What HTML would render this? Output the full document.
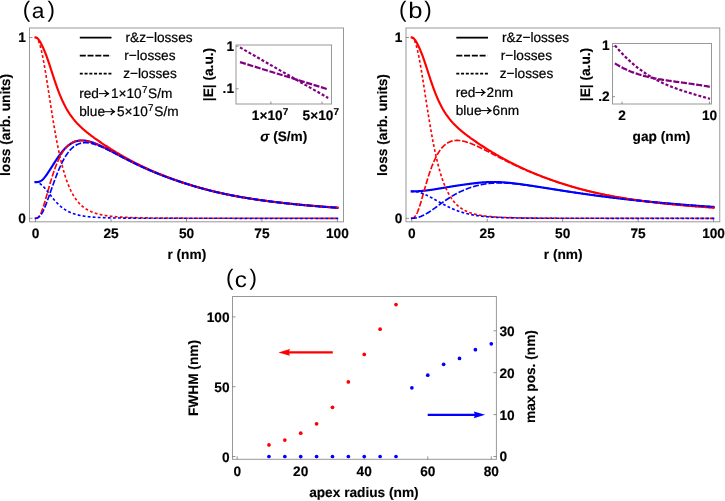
<!DOCTYPE html>
<html><head><meta charset="utf-8"><title>figure</title>
<style>html,body{margin:0;padding:0;background:#fff;}body{width:725px;height:501px;overflow:hidden;font-family:"Liberation Sans",sans-serif;}svg{display:block;}</style></head>
<body>
<svg width="725" height="501" viewBox="0 0 725 501" style="will-change:transform">
<rect x="0" y="0" width="725" height="501" fill="#ffffff"/>
<g font-family="'Liberation Sans', sans-serif" fill="#000000" style="text-rendering:geometricPrecision">
<rect x="29.50" y="28.00" width="314.00" height="193.80" fill="none" stroke="#989898" stroke-width="1"/>
<line x1="35.60" y1="221.80" x2="35.60" y2="218.80" stroke="#666666" stroke-width="0.7"/>
<line x1="111.05" y1="221.80" x2="111.05" y2="218.80" stroke="#666666" stroke-width="0.7"/>
<line x1="186.50" y1="221.80" x2="186.50" y2="218.80" stroke="#666666" stroke-width="0.7"/>
<line x1="261.95" y1="221.80" x2="261.95" y2="218.80" stroke="#666666" stroke-width="0.7"/>
<line x1="337.40" y1="221.80" x2="337.40" y2="218.80" stroke="#666666" stroke-width="0.7"/>
<line x1="29.50" y1="218.30" x2="32.50" y2="218.30" stroke="#666666" stroke-width="0.7"/>
<line x1="29.50" y1="37.50" x2="32.50" y2="37.50" stroke="#666666" stroke-width="0.7"/>
<clipPath id="clipa"><rect x="29.50" y="28.00" width="314.00" height="193.80"/></clipPath>
<g clip-path="url(#clipa)">
<path d="M35.60,37.50 L35.98,37.53 L36.35,37.64 L36.73,37.81 L37.11,38.04 L37.49,38.34 L37.86,38.70 L38.24,39.11 L38.62,39.58 L39.00,40.09 L39.37,40.64 L39.75,41.24 L40.13,41.87 L40.50,42.53 L40.88,43.22 L41.26,43.94 L41.64,44.69 L42.01,45.45 L42.39,46.24 L42.77,47.04 L43.15,47.87 L43.52,48.72 L43.90,49.58 L44.28,50.47 L44.65,51.38 L45.03,52.30 L45.41,53.25 L45.79,54.22 L46.16,55.21 L46.54,56.22 L46.92,57.25 L47.29,58.29 L47.67,59.36 L48.05,60.44 L48.43,61.54 L48.80,62.66 L49.18,63.78 L49.56,64.92 L49.94,66.07 L50.31,67.22 L50.69,68.38 L51.07,69.55 L51.44,70.71 L51.82,71.88 L52.20,73.05 L52.58,74.22 L52.95,75.38 L53.33,76.54 L53.71,77.69 L54.09,78.83 L54.46,79.96 L54.84,81.09 L55.22,82.20 L55.59,83.31 L55.97,84.40 L56.35,85.48 L56.73,86.54 L57.10,87.59 L57.48,88.63 L57.86,89.65 L58.23,90.65 L58.61,91.64 L58.99,92.62 L59.37,93.58 L59.74,94.52 L60.12,95.45 L60.50,96.36 L60.88,97.26 L61.25,98.14 L61.63,99.00 L62.01,99.85 L62.38,100.68 L62.76,101.49 L63.14,102.29 L63.52,103.08 L63.89,103.85 L64.27,104.60 L64.65,105.34 L65.03,106.07 L65.40,106.78 L65.78,107.47 L66.16,108.16 L66.53,108.83 L66.91,109.48 L67.29,110.13 L67.67,110.76 L68.04,111.38 L68.42,111.98 L68.80,112.58 L69.18,113.16 L69.55,113.74 L69.93,114.30 L70.31,114.85 L70.68,115.39 L71.06,115.92 L71.44,116.44 L71.82,116.95 L72.19,117.45 L72.57,117.95 L72.95,118.43 L73.32,118.91 L73.70,119.38 L74.08,119.84 L74.46,120.29 L74.83,120.74 L75.21,121.18 L75.59,121.61 L75.97,122.03 L76.34,122.45 L76.72,122.87 L77.10,123.27 L77.47,123.67 L77.85,124.07 L78.23,124.46 L78.61,124.84 L78.98,125.22 L79.36,125.60 L79.74,125.97 L80.12,126.33 L80.49,126.69 L80.87,127.05 L81.25,127.40 L81.62,127.75 L82.00,128.10 L82.38,128.44 L82.76,128.78 L83.13,129.11 L83.51,129.44 L83.89,129.77 L84.27,130.10 L84.64,130.42 L85.02,130.74 L85.40,131.06 L85.77,131.37 L86.15,131.68 L86.53,131.99 L86.91,132.30 L87.28,132.60 L87.66,132.90 L88.04,133.20 L88.41,133.50 L88.79,133.80 L89.17,134.09 L89.55,134.39 L89.92,134.68 L90.30,134.96 L90.68,135.25 L91.06,135.54 L91.43,135.82 L91.81,136.10 L92.19,136.38 L92.56,136.66 L92.94,136.94 L93.32,137.22 L93.70,137.49 L94.07,137.77 L94.45,138.04 L94.83,138.31 L95.21,138.58 L95.58,138.85 L95.96,139.12 L96.34,139.39 L96.71,139.65 L97.09,139.92 L97.47,140.18 L97.85,140.45 L98.22,140.71 L98.60,140.97 L98.98,141.23 L99.36,141.49 L99.73,141.75 L100.11,142.01 L100.49,142.26 L100.86,142.52 L101.24,142.77 L101.62,143.03 L102.00,143.28 L102.37,143.53 L102.75,143.79 L103.13,144.04 L103.50,144.29 L103.88,144.54 L104.26,144.79 L104.64,145.03 L105.01,145.28 L105.39,145.53 L105.77,145.77 L106.15,146.02 L106.52,146.26 L106.90,146.51 L107.28,146.75 L107.65,146.99 L108.03,147.23 L108.41,147.48 L108.79,147.72 L109.16,147.96 L109.54,148.19 L109.92,148.43 L110.30,148.67 L110.67,148.91 L111.05,149.14 L111.43,149.38 L111.80,149.61 L112.18,149.85 L112.56,150.08 L112.94,150.32 L113.31,150.55 L113.69,150.78 L114.07,151.01 L114.45,151.24 L114.82,151.47 L115.20,151.70 L115.58,151.93 L115.95,152.16 L116.33,152.38 L116.71,152.61 L117.09,152.84 L117.46,153.06 L117.84,153.28 L118.22,153.51 L118.59,153.73 L118.97,153.95 L119.35,154.18 L119.73,154.40 L120.10,154.62 L120.48,154.84 L120.86,155.06 L121.24,155.27 L121.61,155.49 L121.99,155.71 L122.37,155.92 L122.74,156.14 L123.12,156.36 L123.50,156.57 L123.88,156.78 L124.25,157.00 L124.63,157.21 L125.01,157.42 L125.39,157.63 L125.76,157.84 L126.14,158.05 L126.52,158.26 L126.89,158.47 L127.27,158.67 L127.65,158.88 L128.03,159.09 L128.40,159.29 L128.78,159.50 L129.16,159.70 L129.54,159.91 L129.91,160.11 L130.29,160.31 L130.67,160.51 L131.04,160.71 L131.42,160.91 L131.80,161.11 L132.18,161.31 L132.55,161.51 L132.93,161.70 L133.31,161.90 L133.69,162.10 L134.06,162.29 L134.44,162.49 L134.82,162.68 L135.19,162.87 L135.57,163.06 L135.95,163.26 L136.33,163.45 L136.70,163.64 L137.08,163.83 L137.46,164.02 L137.83,164.20 L138.21,164.39 L138.59,164.58 L138.97,164.77 L139.34,164.95 L139.72,165.14 L140.10,165.32 L140.48,165.50 L140.85,165.69 L141.23,165.87 L141.61,166.05 L141.98,166.23 L142.36,166.41 L142.74,166.59 L143.12,166.77 L143.49,166.95 L143.87,167.13 L144.25,167.30 L144.63,167.48 L145.00,167.66 L145.38,167.83 L145.76,168.01 L146.13,168.18 L146.51,168.35 L146.89,168.53 L147.27,168.70 L147.64,168.87 L148.02,169.04 L148.40,169.21 L148.78,169.38 L149.15,169.55 L149.53,169.72 L149.91,169.88 L150.28,170.05 L150.66,170.22 L151.04,170.38 L151.42,170.55 L151.79,170.71 L152.17,170.88 L152.55,171.04 L152.92,171.21 L153.30,171.37 L153.68,171.53 L154.06,171.69 L154.43,171.85 L154.81,172.01 L155.19,172.17 L155.57,172.33 L155.94,172.49 L156.32,172.65 L156.70,172.80 L157.07,172.96 L157.45,173.12 L157.83,173.27 L158.21,173.43 L158.58,173.58 L158.96,173.74 L159.34,173.89 L159.72,174.04 L160.09,174.20 L160.47,174.35 L160.85,174.50 L161.22,174.65 L161.60,174.80 L161.98,174.95 L162.36,175.10 L162.73,175.25 L163.11,175.40 L163.49,175.55 L163.86,175.69 L164.24,175.84 L164.62,175.99 L165.00,176.13 L165.37,176.28 L165.75,176.42 L166.13,176.57 L166.51,176.71 L166.88,176.86 L167.26,177.00 L167.64,177.14 L168.01,177.29 L168.39,177.43 L168.77,177.57 L169.15,177.71 L169.52,177.85 L169.90,177.99 L170.28,178.13 L170.66,178.27 L171.03,178.41 L171.41,178.55 L171.79,178.68 L172.16,178.82 L172.54,178.96 L172.92,179.09 L173.30,179.23 L173.67,179.37 L174.05,179.50 L174.43,179.64 L174.81,179.77 L175.18,179.90 L175.56,180.04 L175.94,180.17 L176.31,180.30 L176.69,180.43 L177.07,180.57 L177.45,180.70 L177.82,180.83 L178.20,180.96 L178.58,181.09 L178.95,181.22 L179.33,181.35 L179.71,181.48 L180.09,181.60 L180.46,181.73 L180.84,181.86 L181.22,181.99 L181.60,182.11 L181.97,182.24 L182.35,182.37 L182.73,182.49 L183.10,182.62 L183.48,182.74 L183.86,182.87 L184.24,182.99 L184.61,183.11 L184.99,183.24 L185.37,183.36 L185.75,183.48 L186.12,183.60 L186.50,183.72 L186.88,183.84 L187.25,183.96 L187.63,184.08 L188.01,184.20 L188.39,184.32 L188.76,184.44 L189.14,184.56 L189.52,184.68 L189.90,184.80 L190.27,184.91 L190.65,185.03 L191.03,185.15 L191.40,185.26 L191.78,185.38 L192.16,185.49 L192.54,185.61 L192.91,185.72 L193.29,185.84 L193.67,185.95 L194.04,186.07 L194.42,186.18 L194.80,186.29 L195.18,186.40 L195.55,186.51 L195.93,186.63 L196.31,186.74 L196.69,186.85 L197.06,186.96 L197.44,187.07 L197.82,187.17 L198.19,187.28 L198.57,187.39 L198.95,187.50 L199.33,187.61 L199.70,187.71 L200.08,187.82 L200.46,187.93 L200.84,188.03 L201.21,188.14 L201.59,188.24 L201.97,188.35 L202.34,188.45 L202.72,188.56 L203.10,188.66 L203.48,188.76 L203.85,188.87 L204.23,188.97 L204.61,189.07 L204.99,189.17 L205.36,189.27 L205.74,189.37 L206.12,189.47 L206.49,189.57 L206.87,189.67 L207.25,189.77 L207.63,189.87 L208.00,189.97 L208.38,190.06 L208.76,190.16 L209.13,190.26 L209.51,190.35 L209.89,190.45 L210.27,190.55 L210.64,190.64 L211.02,190.74 L211.40,190.83 L211.78,190.92 L212.15,191.02 L212.53,191.11 L212.91,191.20 L213.28,191.30 L213.66,191.39 L214.04,191.48 L214.42,191.57 L214.79,191.66 L215.17,191.75 L215.55,191.84 L215.93,191.93 L216.30,192.02 L216.68,192.11 L217.06,192.20 L217.43,192.29 L217.81,192.37 L218.19,192.46 L218.57,192.55 L218.94,192.63 L219.32,192.72 L219.70,192.80 L220.08,192.89 L220.45,192.97 L220.83,193.06 L221.21,193.14 L221.58,193.23 L221.96,193.31 L222.34,193.39 L222.72,193.48 L223.09,193.56 L223.47,193.64 L223.85,193.72 L224.22,193.80 L224.60,193.88 L224.98,193.96 L225.36,194.04 L225.73,194.12 L226.11,194.20 L226.49,194.28 L226.87,194.36 L227.24,194.44 L227.62,194.52 L228.00,194.59 L228.37,194.67 L228.75,194.75 L229.13,194.82 L229.51,194.90 L229.88,194.98 L230.26,195.05 L230.64,195.13 L231.02,195.20 L231.39,195.27 L231.77,195.35 L232.15,195.42 L232.52,195.50 L232.90,195.57 L233.28,195.64 L233.66,195.71 L234.03,195.79 L234.41,195.86 L234.79,195.93 L235.17,196.00 L235.54,196.07 L235.92,196.14 L236.30,196.21 L236.67,196.28 L237.05,196.35 L237.43,196.42 L237.81,196.49 L238.18,196.56 L238.56,196.62 L238.94,196.69 L239.31,196.76 L239.69,196.83 L240.07,196.89 L240.45,196.96 L240.82,197.03 L241.20,197.09 L241.58,197.16 L241.96,197.22 L242.33,197.29 L242.71,197.35 L243.09,197.42 L243.46,197.48 L243.84,197.55 L244.22,197.61 L244.60,197.67 L244.97,197.74 L245.35,197.80 L245.73,197.86 L246.11,197.93 L246.48,197.99 L246.86,198.05 L247.24,198.11 L247.61,198.17 L247.99,198.23 L248.37,198.29 L248.75,198.35 L249.12,198.42 L249.50,198.48 L249.88,198.53 L250.26,198.59 L250.63,198.65 L251.01,198.71 L251.39,198.77 L251.76,198.83 L252.14,198.89 L252.52,198.95 L252.90,199.00 L253.27,199.06 L253.65,199.12 L254.03,199.18 L254.40,199.23 L254.78,199.29 L255.16,199.34 L255.54,199.40 L255.91,199.46 L256.29,199.51 L256.67,199.57 L257.05,199.62 L257.42,199.68 L257.80,199.73 L258.18,199.79 L258.55,199.84 L258.93,199.89 L259.31,199.95 L259.69,200.00 L260.06,200.06 L260.44,200.11 L260.82,200.16 L261.20,200.21 L261.57,200.27 L261.95,200.32 L262.33,200.37 L262.70,200.42 L263.08,200.47 L263.46,200.53 L263.84,200.58 L264.21,200.63 L264.59,200.68 L264.97,200.73 L265.35,200.78 L265.72,200.83 L266.10,200.88 L266.48,200.93 L266.85,200.98 L267.23,201.03 L267.61,201.08 L267.99,201.13 L268.36,201.18 L268.74,201.22 L269.12,201.27 L269.50,201.32 L269.87,201.37 L270.25,201.42 L270.63,201.46 L271.00,201.51 L271.38,201.56 L271.76,201.61 L272.14,201.65 L272.51,201.70 L272.89,201.75 L273.27,201.79 L273.64,201.84 L274.02,201.89 L274.40,201.93 L274.78,201.98 L275.15,202.02 L275.53,202.07 L275.91,202.11 L276.29,202.16 L276.66,202.20 L277.04,202.25 L277.42,202.29 L277.79,202.34 L278.17,202.38 L278.55,202.42 L278.93,202.47 L279.30,202.51 L279.68,202.55 L280.06,202.60 L280.44,202.64 L280.81,202.68 L281.19,202.73 L281.57,202.77 L281.94,202.81 L282.32,202.85 L282.70,202.90 L283.08,202.94 L283.45,202.98 L283.83,203.02 L284.21,203.06 L284.58,203.11 L284.96,203.15 L285.34,203.19 L285.72,203.23 L286.09,203.27 L286.47,203.31 L286.85,203.35 L287.23,203.39 L287.60,203.43 L287.98,203.47 L288.36,203.51 L288.73,203.55 L289.11,203.59 L289.49,203.63 L289.87,203.67 L290.24,203.71 L290.62,203.75 L291.00,203.79 L291.38,203.82 L291.75,203.86 L292.13,203.90 L292.51,203.94 L292.88,203.98 L293.26,204.02 L293.64,204.05 L294.02,204.09 L294.39,204.13 L294.77,204.17 L295.15,204.20 L295.53,204.24 L295.90,204.28 L296.28,204.32 L296.66,204.35 L297.03,204.39 L297.41,204.43 L297.79,204.46 L298.17,204.50 L298.54,204.53 L298.92,204.57 L299.30,204.61 L299.68,204.64 L300.05,204.68 L300.43,204.71 L300.81,204.75 L301.18,204.78 L301.56,204.82 L301.94,204.85 L302.32,204.89 L302.69,204.92 L303.07,204.96 L303.45,204.99 L303.82,205.03 L304.20,205.06 L304.58,205.09 L304.96,205.13 L305.33,205.16 L305.71,205.20 L306.09,205.23 L306.47,205.26 L306.84,205.30 L307.22,205.33 L307.60,205.36 L307.97,205.40 L308.35,205.43 L308.73,205.46 L309.11,205.49 L309.48,205.53 L309.86,205.56 L310.24,205.59 L310.62,205.62 L310.99,205.66 L311.37,205.69 L311.75,205.72 L312.12,205.75 L312.50,205.78 L312.88,205.82 L313.26,205.85 L313.63,205.88 L314.01,205.91 L314.39,205.94 L314.76,205.97 L315.14,206.00 L315.52,206.03 L315.90,206.06 L316.27,206.09 L316.65,206.13 L317.03,206.16 L317.41,206.19 L317.78,206.22 L318.16,206.25 L318.54,206.28 L318.91,206.31 L319.29,206.34 L319.67,206.37 L320.05,206.40 L320.42,206.42 L320.80,206.45 L321.18,206.48 L321.56,206.51 L321.93,206.54 L322.31,206.57 L322.69,206.60 L323.06,206.63 L323.44,206.66 L323.82,206.69 L324.20,206.71 L324.57,206.74 L324.95,206.77 L325.33,206.80 L325.71,206.83 L326.08,206.85 L326.46,206.88 L326.84,206.91 L327.21,206.94 L327.59,206.97 L327.97,206.99 L328.35,207.02 L328.72,207.05 L329.10,207.08 L329.48,207.10 L329.86,207.13 L330.23,207.16 L330.61,207.18 L330.99,207.21 L331.36,207.24 L331.74,207.26 L332.12,207.29 L332.50,207.32 L332.87,207.34 L333.25,207.37 L333.63,207.40 L334.00,207.42 L334.38,207.45 L334.76,207.47 L335.14,207.50 L335.51,207.52 L335.89,207.55 L336.27,207.58 L336.65,207.60 L337.02,207.63 L337.40,207.65" fill="none" stroke="#ff0000" stroke-width="2.15" stroke-linejoin="round" stroke-linecap="square"/>
<path d="M35.60,182.14 L35.98,182.14 L36.35,182.13 L36.73,182.11 L37.11,182.08 L37.49,182.04 L37.86,181.99 L38.24,181.93 L38.62,181.85 L39.00,181.75 L39.37,181.63 L39.75,181.50 L40.13,181.33 L40.50,181.15 L40.88,180.94 L41.26,180.70 L41.64,180.43 L42.01,180.14 L42.39,179.82 L42.77,179.48 L43.15,179.11 L43.52,178.72 L43.90,178.30 L44.28,177.86 L44.65,177.40 L45.03,176.93 L45.41,176.44 L45.79,175.93 L46.16,175.41 L46.54,174.88 L46.92,174.34 L47.29,173.79 L47.67,173.23 L48.05,172.66 L48.43,172.09 L48.80,171.51 L49.18,170.93 L49.56,170.35 L49.94,169.76 L50.31,169.17 L50.69,168.58 L51.07,167.99 L51.44,167.40 L51.82,166.80 L52.20,166.21 L52.58,165.61 L52.95,165.02 L53.33,164.43 L53.71,163.84 L54.09,163.25 L54.46,162.66 L54.84,162.07 L55.22,161.49 L55.59,160.91 L55.97,160.33 L56.35,159.76 L56.73,159.19 L57.10,158.63 L57.48,158.07 L57.86,157.52 L58.23,156.97 L58.61,156.43 L58.99,155.90 L59.37,155.37 L59.74,154.85 L60.12,154.34 L60.50,153.84 L60.88,153.34 L61.25,152.86 L61.63,152.38 L62.01,151.91 L62.38,151.45 L62.76,150.99 L63.14,150.55 L63.52,150.12 L63.89,149.69 L64.27,149.28 L64.65,148.87 L65.03,148.48 L65.40,148.10 L65.78,147.72 L66.16,147.36 L66.53,147.00 L66.91,146.66 L67.29,146.32 L67.67,146.00 L68.04,145.69 L68.42,145.38 L68.80,145.09 L69.18,144.80 L69.55,144.53 L69.93,144.27 L70.31,144.01 L70.68,143.77 L71.06,143.53 L71.44,143.31 L71.82,143.09 L72.19,142.89 L72.57,142.69 L72.95,142.50 L73.32,142.32 L73.70,142.16 L74.08,142.00 L74.46,141.84 L74.83,141.70 L75.21,141.57 L75.59,141.44 L75.97,141.33 L76.34,141.22 L76.72,141.12 L77.10,141.02 L77.47,140.94 L77.85,140.86 L78.23,140.79 L78.61,140.73 L78.98,140.67 L79.36,140.63 L79.74,140.59 L80.12,140.55 L80.49,140.53 L80.87,140.51 L81.25,140.49 L81.62,140.48 L82.00,140.48 L82.38,140.49 L82.76,140.50 L83.13,140.52 L83.51,140.54 L83.89,140.57 L84.27,140.60 L84.64,140.64 L85.02,140.68 L85.40,140.73 L85.77,140.79 L86.15,140.85 L86.53,140.91 L86.91,140.98 L87.28,141.05 L87.66,141.13 L88.04,141.22 L88.41,141.30 L88.79,141.39 L89.17,141.49 L89.55,141.59 L89.92,141.69 L90.30,141.79 L90.68,141.90 L91.06,142.02 L91.43,142.13 L91.81,142.25 L92.19,142.38 L92.56,142.50 L92.94,142.63 L93.32,142.76 L93.70,142.90 L94.07,143.04 L94.45,143.18 L94.83,143.32 L95.21,143.46 L95.58,143.61 L95.96,143.76 L96.34,143.92 L96.71,144.07 L97.09,144.23 L97.47,144.39 L97.85,144.55 L98.22,144.71 L98.60,144.88 L98.98,145.04 L99.36,145.21 L99.73,145.38 L100.11,145.56 L100.49,145.73 L100.86,145.91 L101.24,146.08 L101.62,146.26 L102.00,146.44 L102.37,146.62 L102.75,146.80 L103.13,146.99 L103.50,147.17 L103.88,147.36 L104.26,147.54 L104.64,147.73 L105.01,147.92 L105.39,148.11 L105.77,148.30 L106.15,148.49 L106.52,148.68 L106.90,148.88 L107.28,149.07 L107.65,149.26 L108.03,149.46 L108.41,149.65 L108.79,149.85 L109.16,150.05 L109.54,150.24 L109.92,150.44 L110.30,150.64 L110.67,150.84 L111.05,151.04 L111.43,151.23 L111.80,151.43 L112.18,151.63 L112.56,151.83 L112.94,152.03 L113.31,152.23 L113.69,152.43 L114.07,152.63 L114.45,152.84 L114.82,153.04 L115.20,153.24 L115.58,153.44 L115.95,153.64 L116.33,153.84 L116.71,154.04 L117.09,154.24 L117.46,154.44 L117.84,154.64 L118.22,154.85 L118.59,155.05 L118.97,155.25 L119.35,155.45 L119.73,155.65 L120.10,155.85 L120.48,156.05 L120.86,156.25 L121.24,156.45 L121.61,156.65 L121.99,156.84 L122.37,157.04 L122.74,157.24 L123.12,157.44 L123.50,157.64 L123.88,157.84 L124.25,158.03 L124.63,158.23 L125.01,158.43 L125.39,158.62 L125.76,158.82 L126.14,159.01 L126.52,159.21 L126.89,159.40 L127.27,159.60 L127.65,159.79 L128.03,159.98 L128.40,160.18 L128.78,160.37 L129.16,160.56 L129.54,160.75 L129.91,160.94 L130.29,161.13 L130.67,161.33 L131.04,161.51 L131.42,161.70 L131.80,161.89 L132.18,162.08 L132.55,162.27 L132.93,162.46 L133.31,162.64 L133.69,162.83 L134.06,163.01 L134.44,163.20 L134.82,163.38 L135.19,163.57 L135.57,163.75 L135.95,163.94 L136.33,164.12 L136.70,164.30 L137.08,164.48 L137.46,164.66 L137.83,164.84 L138.21,165.02 L138.59,165.20 L138.97,165.38 L139.34,165.56 L139.72,165.74 L140.10,165.91 L140.48,166.09 L140.85,166.26 L141.23,166.44 L141.61,166.61 L141.98,166.79 L142.36,166.96 L142.74,167.14 L143.12,167.31 L143.49,167.48 L143.87,167.65 L144.25,167.82 L144.63,167.99 L145.00,168.16 L145.38,168.33 L145.76,168.50 L146.13,168.67 L146.51,168.84 L146.89,169.00 L147.27,169.17 L147.64,169.33 L148.02,169.50 L148.40,169.66 L148.78,169.83 L149.15,169.99 L149.53,170.15 L149.91,170.32 L150.28,170.48 L150.66,170.64 L151.04,170.80 L151.42,170.96 L151.79,171.12 L152.17,171.28 L152.55,171.44 L152.92,171.60 L153.30,171.76 L153.68,171.91 L154.06,172.07 L154.43,172.23 L154.81,172.38 L155.19,172.54 L155.57,172.69 L155.94,172.84 L156.32,173.00 L156.70,173.15 L157.07,173.30 L157.45,173.46 L157.83,173.61 L158.21,173.76 L158.58,173.91 L158.96,174.06 L159.34,174.21 L159.72,174.36 L160.09,174.51 L160.47,174.65 L160.85,174.80 L161.22,174.95 L161.60,175.09 L161.98,175.24 L162.36,175.39 L162.73,175.53 L163.11,175.68 L163.49,175.82 L163.86,175.97 L164.24,176.11 L164.62,176.25 L165.00,176.39 L165.37,176.54 L165.75,176.68 L166.13,176.82 L166.51,176.96 L166.88,177.10 L167.26,177.24 L167.64,177.38 L168.01,177.52 L168.39,177.66 L168.77,177.79 L169.15,177.93 L169.52,178.07 L169.90,178.21 L170.28,178.34 L170.66,178.48 L171.03,178.61 L171.41,178.75 L171.79,178.88 L172.16,179.02 L172.54,179.15 L172.92,179.29 L173.30,179.42 L173.67,179.55 L174.05,179.68 L174.43,179.82 L174.81,179.95 L175.18,180.08 L175.56,180.21 L175.94,180.34 L176.31,180.47 L176.69,180.60 L177.07,180.73 L177.45,180.86 L177.82,180.98 L178.20,181.11 L178.58,181.24 L178.95,181.37 L179.33,181.49 L179.71,181.62 L180.09,181.75 L180.46,181.87 L180.84,182.00 L181.22,182.12 L181.60,182.25 L181.97,182.37 L182.35,182.49 L182.73,182.62 L183.10,182.74 L183.48,182.86 L183.86,182.98 L184.24,183.11 L184.61,183.23 L184.99,183.35 L185.37,183.47 L185.75,183.59 L186.12,183.71 L186.50,183.83 L186.88,183.95 L187.25,184.06 L187.63,184.18 L188.01,184.30 L188.39,184.42 L188.76,184.54 L189.14,184.65 L189.52,184.77 L189.90,184.88 L190.27,185.00 L190.65,185.11 L191.03,185.23 L191.40,185.34 L191.78,185.46 L192.16,185.57 L192.54,185.68 L192.91,185.80 L193.29,185.91 L193.67,186.02 L194.04,186.13 L194.42,186.24 L194.80,186.36 L195.18,186.47 L195.55,186.58 L195.93,186.69 L196.31,186.80 L196.69,186.90 L197.06,187.01 L197.44,187.12 L197.82,187.23 L198.19,187.34 L198.57,187.44 L198.95,187.55 L199.33,187.66 L199.70,187.76 L200.08,187.87 L200.46,187.97 L200.84,188.08 L201.21,188.18 L201.59,188.28 L201.97,188.39 L202.34,188.49 L202.72,188.59 L203.10,188.70 L203.48,188.80 L203.85,188.90 L204.23,189.00 L204.61,189.10 L204.99,189.20 L205.36,189.30 L205.74,189.40 L206.12,189.50 L206.49,189.60 L206.87,189.70 L207.25,189.79 L207.63,189.89 L208.00,189.99 L208.38,190.09 L208.76,190.18 L209.13,190.28 L209.51,190.37 L209.89,190.47 L210.27,190.56 L210.64,190.66 L211.02,190.75 L211.40,190.85 L211.78,190.94 L212.15,191.03 L212.53,191.12 L212.91,191.22 L213.28,191.31 L213.66,191.40 L214.04,191.49 L214.42,191.58 L214.79,191.67 L215.17,191.76 L215.55,191.85 L215.93,191.94 L216.30,192.03 L216.68,192.12 L217.06,192.20 L217.43,192.29 L217.81,192.38 L218.19,192.46 L218.57,192.55 L218.94,192.64 L219.32,192.72 L219.70,192.81 L220.08,192.89 L220.45,192.98 L220.83,193.06 L221.21,193.14 L221.58,193.23 L221.96,193.31 L222.34,193.39 L222.72,193.48 L223.09,193.56 L223.47,193.64 L223.85,193.72 L224.22,193.80 L224.60,193.88 L224.98,193.96 L225.36,194.04 L225.73,194.12 L226.11,194.20 L226.49,194.28 L226.87,194.36 L227.24,194.43 L227.62,194.51 L228.00,194.59 L228.37,194.67 L228.75,194.74 L229.13,194.82 L229.51,194.89 L229.88,194.97 L230.26,195.05 L230.64,195.12 L231.02,195.19 L231.39,195.27 L231.77,195.34 L232.15,195.42 L232.52,195.49 L232.90,195.56 L233.28,195.63 L233.66,195.71 L234.03,195.78 L234.41,195.85 L234.79,195.92 L235.17,195.99 L235.54,196.06 L235.92,196.13 L236.30,196.20 L236.67,196.27 L237.05,196.34 L237.43,196.41 L237.81,196.48 L238.18,196.55 L238.56,196.62 L238.94,196.69 L239.31,196.75 L239.69,196.82 L240.07,196.89 L240.45,196.95 L240.82,197.02 L241.20,197.09 L241.58,197.15 L241.96,197.22 L242.33,197.28 L242.71,197.35 L243.09,197.41 L243.46,197.48 L243.84,197.54 L244.22,197.61 L244.60,197.67 L244.97,197.73 L245.35,197.80 L245.73,197.86 L246.11,197.92 L246.48,197.98 L246.86,198.05 L247.24,198.11 L247.61,198.17 L247.99,198.23 L248.37,198.29 L248.75,198.35 L249.12,198.41 L249.50,198.47 L249.88,198.53 L250.26,198.59 L250.63,198.65 L251.01,198.71 L251.39,198.77 L251.76,198.83 L252.14,198.89 L252.52,198.95 L252.90,199.00 L253.27,199.06 L253.65,199.12 L254.03,199.18 L254.40,199.23 L254.78,199.29 L255.16,199.35 L255.54,199.40 L255.91,199.46 L256.29,199.52 L256.67,199.57 L257.05,199.63 L257.42,199.68 L257.80,199.74 L258.18,199.79 L258.55,199.85 L258.93,199.90 L259.31,199.95 L259.69,200.01 L260.06,200.06 L260.44,200.12 L260.82,200.17 L261.20,200.22 L261.57,200.27 L261.95,200.33 L262.33,200.38 L262.70,200.43 L263.08,200.48 L263.46,200.54 L263.84,200.59 L264.21,200.64 L264.59,200.69 L264.97,200.74 L265.35,200.79 L265.72,200.84 L266.10,200.89 L266.48,200.94 L266.85,200.99 L267.23,201.04 L267.61,201.09 L267.99,201.14 L268.36,201.19 L268.74,201.24 L269.12,201.29 L269.50,201.34 L269.87,201.39 L270.25,201.43 L270.63,201.48 L271.00,201.53 L271.38,201.58 L271.76,201.63 L272.14,201.67 L272.51,201.72 L272.89,201.77 L273.27,201.81 L273.64,201.86 L274.02,201.91 L274.40,201.95 L274.78,202.00 L275.15,202.05 L275.53,202.09 L275.91,202.14 L276.29,202.18 L276.66,202.23 L277.04,202.27 L277.42,202.32 L277.79,202.36 L278.17,202.41 L278.55,202.45 L278.93,202.50 L279.30,202.54 L279.68,202.58 L280.06,202.63 L280.44,202.67 L280.81,202.72 L281.19,202.76 L281.57,202.80 L281.94,202.85 L282.32,202.89 L282.70,202.93 L283.08,202.97 L283.45,203.02 L283.83,203.06 L284.21,203.10 L284.58,203.14 L284.96,203.18 L285.34,203.23 L285.72,203.27 L286.09,203.31 L286.47,203.35 L286.85,203.39 L287.23,203.43 L287.60,203.47 L287.98,203.51 L288.36,203.55 L288.73,203.59 L289.11,203.63 L289.49,203.67 L289.87,203.71 L290.24,203.75 L290.62,203.79 L291.00,203.83 L291.38,203.87 L291.75,203.91 L292.13,203.95 L292.51,203.99 L292.88,204.03 L293.26,204.06 L293.64,204.10 L294.02,204.14 L294.39,204.18 L294.77,204.22 L295.15,204.26 L295.53,204.29 L295.90,204.33 L296.28,204.37 L296.66,204.41 L297.03,204.44 L297.41,204.48 L297.79,204.52 L298.17,204.55 L298.54,204.59 L298.92,204.63 L299.30,204.66 L299.68,204.70 L300.05,204.74 L300.43,204.77 L300.81,204.81 L301.18,204.84 L301.56,204.88 L301.94,204.91 L302.32,204.95 L302.69,204.99 L303.07,205.02 L303.45,205.06 L303.82,205.09 L304.20,205.13 L304.58,205.16 L304.96,205.19 L305.33,205.23 L305.71,205.26 L306.09,205.30 L306.47,205.33 L306.84,205.37 L307.22,205.40 L307.60,205.43 L307.97,205.47 L308.35,205.50 L308.73,205.53 L309.11,205.57 L309.48,205.60 L309.86,205.63 L310.24,205.67 L310.62,205.70 L310.99,205.73 L311.37,205.76 L311.75,205.80 L312.12,205.83 L312.50,205.86 L312.88,205.89 L313.26,205.92 L313.63,205.96 L314.01,205.99 L314.39,206.02 L314.76,206.05 L315.14,206.08 L315.52,206.11 L315.90,206.15 L316.27,206.18 L316.65,206.21 L317.03,206.24 L317.41,206.27 L317.78,206.30 L318.16,206.33 L318.54,206.36 L318.91,206.39 L319.29,206.42 L319.67,206.45 L320.05,206.48 L320.42,206.51 L320.80,206.54 L321.18,206.57 L321.56,206.60 L321.93,206.63 L322.31,206.66 L322.69,206.69 L323.06,206.72 L323.44,206.75 L323.82,206.78 L324.20,206.81 L324.57,206.84 L324.95,206.86 L325.33,206.89 L325.71,206.92 L326.08,206.95 L326.46,206.98 L326.84,207.01 L327.21,207.04 L327.59,207.06 L327.97,207.09 L328.35,207.12 L328.72,207.15 L329.10,207.18 L329.48,207.20 L329.86,207.23 L330.23,207.26 L330.61,207.29 L330.99,207.31 L331.36,207.34 L331.74,207.37 L332.12,207.39 L332.50,207.42 L332.87,207.45 L333.25,207.47 L333.63,207.50 L334.00,207.53 L334.38,207.55 L334.76,207.58 L335.14,207.61 L335.51,207.63 L335.89,207.66 L336.27,207.69 L336.65,207.71 L337.02,207.74 L337.40,207.76" fill="none" stroke="#0000ff" stroke-width="2.15" stroke-linejoin="round" stroke-linecap="square"/>
<path d="M35.60,218.30 L35.98,218.28 L36.35,218.20 L36.73,218.08 L37.11,217.91 L37.49,217.68 L37.86,217.41 L38.24,217.07 L38.62,216.68 L39.00,216.23 L39.37,215.72 L39.75,215.15 L40.13,214.51 L40.50,213.81 L40.88,213.05 L41.26,212.22 L41.64,211.33 L42.01,210.39 L42.39,209.39 L42.77,208.34 L43.15,207.24 L43.52,206.09 L43.90,204.91 L44.28,203.69 L44.65,202.44 L45.03,201.16 L45.41,199.86 L45.79,198.55 L46.16,197.22 L46.54,195.88 L46.92,194.54 L47.29,193.20 L47.67,191.85 L48.05,190.52 L48.43,189.18 L48.80,187.86 L49.18,186.54 L49.56,185.24 L49.94,183.95 L50.31,182.68 L50.69,181.42 L51.07,180.17 L51.44,178.95 L51.82,177.74 L52.20,176.55 L52.58,175.39 L52.95,174.24 L53.33,173.11 L53.71,172.00 L54.09,170.92 L54.46,169.85 L54.84,168.81 L55.22,167.78 L55.59,166.78 L55.97,165.81 L56.35,164.85 L56.73,163.92 L57.10,163.00 L57.48,162.12 L57.86,161.25 L58.23,160.40 L58.61,159.58 L58.99,158.78 L59.37,158.00 L59.74,157.24 L60.12,156.50 L60.50,155.79 L60.88,155.09 L61.25,154.42 L61.63,153.77 L62.01,153.13 L62.38,152.52 L62.76,151.93 L63.14,151.35 L63.52,150.80 L63.89,150.26 L64.27,149.74 L64.65,149.24 L65.03,148.76 L65.40,148.29 L65.78,147.84 L66.16,147.41 L66.53,147.00 L66.91,146.60 L67.29,146.22 L67.67,145.85 L68.04,145.49 L68.42,145.16 L68.80,144.83 L69.18,144.52 L69.55,144.23 L69.93,143.95 L70.31,143.68 L70.68,143.42 L71.06,143.18 L71.44,142.95 L71.82,142.73 L72.19,142.52 L72.57,142.33 L72.95,142.14 L73.32,141.97 L73.70,141.80 L74.08,141.65 L74.46,141.51 L74.83,141.38 L75.21,141.25 L75.59,141.14 L75.97,141.04 L76.34,140.94 L76.72,140.85 L77.10,140.77 L77.47,140.70 L77.85,140.64 L78.23,140.59 L78.61,140.54 L78.98,140.50 L79.36,140.47 L79.74,140.45 L80.12,140.43 L80.49,140.42 L80.87,140.41 L81.25,140.42 L81.62,140.42 L82.00,140.44 L82.38,140.46 L82.76,140.48 L83.13,140.51 L83.51,140.55 L83.89,140.59 L84.27,140.64 L84.64,140.69 L85.02,140.75 L85.40,140.81 L85.77,140.88 L86.15,140.95 L86.53,141.02 L86.91,141.10 L87.28,141.19 L87.66,141.27 L88.04,141.37 L88.41,141.46 L88.79,141.56 L89.17,141.66 L89.55,141.77 L89.92,141.88 L90.30,141.99 L90.68,142.11 L91.06,142.22 L91.43,142.35 L91.81,142.47 L92.19,142.60 L92.56,142.73 L92.94,142.86 L93.32,143.00 L93.70,143.14 L94.07,143.28 L94.45,143.42 L94.83,143.56 L95.21,143.71 L95.58,143.86 L95.96,144.01 L96.34,144.17 L96.71,144.32 L97.09,144.48 L97.47,144.64 L97.85,144.80 L98.22,144.96 L98.60,145.13 L98.98,145.29 L99.36,145.46 L99.73,145.63 L100.11,145.80 L100.49,145.97 L100.86,146.15 L101.24,146.32 L101.62,146.50 L102.00,146.67 L102.37,146.85 L102.75,147.03 L103.13,147.21 L103.50,147.39 L103.88,147.57 L104.26,147.76 L104.64,147.94 L105.01,148.13 L105.39,148.31 L105.77,148.50 L106.15,148.69 L106.52,148.87 L106.90,149.06 L107.28,149.25 L107.65,149.44 L108.03,149.63 L108.41,149.82 L108.79,150.02 L109.16,150.21 L109.54,150.40 L109.92,150.59 L110.30,150.79 L110.67,150.98 L111.05,151.17 L111.43,151.37 L111.80,151.56 L112.18,151.76 L112.56,151.95 L112.94,152.15 L113.31,152.35 L113.69,152.54 L114.07,152.74 L114.45,152.93 L114.82,153.13 L115.20,153.33 L115.58,153.52 L115.95,153.72 L116.33,153.92 L116.71,154.11 L117.09,154.31 L117.46,154.51 L117.84,154.70 L118.22,154.90 L118.59,155.10 L118.97,155.29 L119.35,155.49 L119.73,155.69 L120.10,155.88 L120.48,156.08 L120.86,156.27 L121.24,156.47 L121.61,156.67 L121.99,156.86 L122.37,157.06 L122.74,157.25 L123.12,157.45 L123.50,157.64 L123.88,157.83 L124.25,158.03 L124.63,158.22 L125.01,158.42 L125.39,158.61 L125.76,158.80 L126.14,158.99 L126.52,159.19 L126.89,159.38 L127.27,159.57 L127.65,159.76 L128.03,159.95 L128.40,160.14 L128.78,160.33 L129.16,160.52 L129.54,160.71 L129.91,160.90 L130.29,161.09 L130.67,161.27 L131.04,161.46 L131.42,161.65 L131.80,161.84 L132.18,162.02 L132.55,162.21 L132.93,162.39 L133.31,162.58 L133.69,162.76 L134.06,162.95 L134.44,163.13 L134.82,163.31 L135.19,163.50 L135.57,163.68 L135.95,163.86 L136.33,164.04 L136.70,164.22 L137.08,164.40 L137.46,164.58 L137.83,164.76 L138.21,164.94 L138.59,165.12 L138.97,165.29 L139.34,165.47 L139.72,165.65 L140.10,165.82 L140.48,166.00 L140.85,166.17 L141.23,166.35 L141.61,166.52 L141.98,166.70 L142.36,166.87 L142.74,167.04 L143.12,167.21 L143.49,167.39 L143.87,167.56 L144.25,167.73 L144.63,167.90 L145.00,168.07 L145.38,168.24 L145.76,168.40 L146.13,168.57 L146.51,168.74 L146.89,168.91 L147.27,169.07 L147.64,169.24 L148.02,169.40 L148.40,169.57 L148.78,169.73 L149.15,169.90 L149.53,170.06 L149.91,170.22 L150.28,170.38 L150.66,170.55 L151.04,170.71 L151.42,170.87 L151.79,171.03 L152.17,171.19 L152.55,171.35 L152.92,171.51 L153.30,171.66 L153.68,171.82 L154.06,171.98 L154.43,172.13 L154.81,172.29 L155.19,172.45 L155.57,172.60 L155.94,172.76 L156.32,172.91 L156.70,173.06 L157.07,173.22 L157.45,173.37 L157.83,173.52 L158.21,173.67 L158.58,173.83 L158.96,173.98 L159.34,174.13 L159.72,174.28 L160.09,174.43 L160.47,174.57 L160.85,174.72 L161.22,174.87 L161.60,175.02 L161.98,175.17 L162.36,175.31 L162.73,175.46 L163.11,175.60 L163.49,175.75 L163.86,175.89 L164.24,176.04 L164.62,176.18 L165.00,176.33 L165.37,176.47 L165.75,176.61 L166.13,176.75 L166.51,176.90 L166.88,177.04 L167.26,177.18 L167.64,177.32 L168.01,177.46 L168.39,177.60 L168.77,177.74 L169.15,177.88 L169.52,178.01 L169.90,178.15 L170.28,178.29 L170.66,178.43 L171.03,178.56 L171.41,178.70 L171.79,178.84 L172.16,178.97 L172.54,179.11 L172.92,179.24 L173.30,179.37 L173.67,179.51 L174.05,179.64 L174.43,179.77 L174.81,179.91 L175.18,180.04 L175.56,180.17 L175.94,180.30 L176.31,180.43 L176.69,180.56 L177.07,180.69 L177.45,180.82 L177.82,180.95 L178.20,181.08 L178.58,181.21 L178.95,181.34 L179.33,181.47 L179.71,181.59 L180.09,181.72 L180.46,181.85 L180.84,181.97 L181.22,182.10 L181.60,182.22 L181.97,182.35 L182.35,182.47 L182.73,182.60 L183.10,182.72 L183.48,182.84 L183.86,182.97 L184.24,183.09 L184.61,183.21 L184.99,183.33 L185.37,183.46 L185.75,183.58 L186.12,183.70 L186.50,183.82 L186.88,183.94 L187.25,184.06 L187.63,184.18 L188.01,184.29 L188.39,184.41 L188.76,184.53 L189.14,184.65 L189.52,184.77 L189.90,184.88 L190.27,185.00 L190.65,185.11 L191.03,185.23 L191.40,185.35 L191.78,185.46 L192.16,185.57 L192.54,185.69 L192.91,185.80 L193.29,185.92 L193.67,186.03 L194.04,186.14 L194.42,186.25 L194.80,186.36 L195.18,186.48 L195.55,186.59 L195.93,186.70 L196.31,186.81 L196.69,186.92 L197.06,187.03 L197.44,187.13 L197.82,187.24 L198.19,187.35 L198.57,187.46 L198.95,187.57 L199.33,187.67 L199.70,187.78 L200.08,187.88 L200.46,187.99 L200.84,188.09 L201.21,188.20 L201.59,188.30 L201.97,188.41 L202.34,188.51 L202.72,188.61 L203.10,188.72 L203.48,188.82 L203.85,188.92 L204.23,189.02 L204.61,189.12 L204.99,189.23 L205.36,189.33 L205.74,189.43 L206.12,189.53 L206.49,189.62 L206.87,189.72 L207.25,189.82 L207.63,189.92 L208.00,190.02 L208.38,190.11 L208.76,190.21 L209.13,190.31 L209.51,190.40 L209.89,190.50 L210.27,190.59 L210.64,190.69 L211.02,190.78 L211.40,190.88 L211.78,190.97 L212.15,191.06 L212.53,191.16 L212.91,191.25 L213.28,191.34 L213.66,191.43 L214.04,191.52 L214.42,191.61 L214.79,191.70 L215.17,191.79 L215.55,191.88 L215.93,191.97 L216.30,192.06 L216.68,192.15 L217.06,192.24 L217.43,192.32 L217.81,192.41 L218.19,192.50 L218.57,192.59 L218.94,192.67 L219.32,192.76 L219.70,192.84 L220.08,192.93 L220.45,193.01 L220.83,193.10 L221.21,193.18 L221.58,193.26 L221.96,193.35 L222.34,193.43 L222.72,193.51 L223.09,193.59 L223.47,193.67 L223.85,193.76 L224.22,193.84 L224.60,193.92 L224.98,194.00 L225.36,194.08 L225.73,194.16 L226.11,194.23 L226.49,194.31 L226.87,194.39 L227.24,194.47 L227.62,194.55 L228.00,194.62 L228.37,194.70 L228.75,194.78 L229.13,194.85 L229.51,194.93 L229.88,195.00 L230.26,195.08 L230.64,195.15 L231.02,195.23 L231.39,195.30 L231.77,195.38 L232.15,195.45 L232.52,195.52 L232.90,195.60 L233.28,195.67 L233.66,195.74 L234.03,195.81 L234.41,195.88 L234.79,195.95 L235.17,196.03 L235.54,196.10 L235.92,196.17 L236.30,196.24 L236.67,196.31 L237.05,196.37 L237.43,196.44 L237.81,196.51 L238.18,196.58 L238.56,196.65 L238.94,196.72 L239.31,196.78 L239.69,196.85 L240.07,196.92 L240.45,196.98 L240.82,197.05 L241.20,197.12 L241.58,197.18 L241.96,197.25 L242.33,197.31 L242.71,197.38 L243.09,197.44 L243.46,197.50 L243.84,197.57 L244.22,197.63 L244.60,197.70 L244.97,197.76 L245.35,197.82 L245.73,197.88 L246.11,197.95 L246.48,198.01 L246.86,198.07 L247.24,198.13 L247.61,198.19 L247.99,198.25 L248.37,198.31 L248.75,198.37 L249.12,198.43 L249.50,198.49 L249.88,198.55 L250.26,198.61 L250.63,198.67 L251.01,198.73 L251.39,198.79 L251.76,198.85 L252.14,198.91 L252.52,198.96 L252.90,199.02 L253.27,199.08 L253.65,199.13 L254.03,199.19 L254.40,199.25 L254.78,199.30 L255.16,199.36 L255.54,199.42 L255.91,199.47 L256.29,199.53 L256.67,199.58 L257.05,199.64 L257.42,199.69 L257.80,199.75 L258.18,199.80 L258.55,199.86 L258.93,199.91 L259.31,199.96 L259.69,200.02 L260.06,200.07 L260.44,200.12 L260.82,200.18 L261.20,200.23 L261.57,200.28 L261.95,200.33 L262.33,200.38 L262.70,200.44 L263.08,200.49 L263.46,200.54 L263.84,200.59 L264.21,200.64 L264.59,200.69 L264.97,200.74 L265.35,200.79 L265.72,200.84 L266.10,200.89 L266.48,200.94 L266.85,200.99 L267.23,201.04 L267.61,201.09 L267.99,201.14 L268.36,201.19 L268.74,201.24 L269.12,201.28 L269.50,201.33 L269.87,201.38 L270.25,201.43 L270.63,201.48 L271.00,201.52 L271.38,201.57 L271.76,201.62 L272.14,201.66 L272.51,201.71 L272.89,201.76 L273.27,201.80 L273.64,201.85 L274.02,201.90 L274.40,201.94 L274.78,201.99 L275.15,202.03 L275.53,202.08 L275.91,202.12 L276.29,202.17 L276.66,202.21 L277.04,202.26 L277.42,202.30 L277.79,202.35 L278.17,202.39 L278.55,202.43 L278.93,202.48 L279.30,202.52 L279.68,202.56 L280.06,202.61 L280.44,202.65 L280.81,202.69 L281.19,202.74 L281.57,202.78 L281.94,202.82 L282.32,202.86 L282.70,202.91 L283.08,202.95 L283.45,202.99 L283.83,203.03 L284.21,203.07 L284.58,203.11 L284.96,203.16 L285.34,203.20 L285.72,203.24 L286.09,203.28 L286.47,203.32 L286.85,203.36 L287.23,203.40 L287.60,203.44 L287.98,203.48 L288.36,203.52 L288.73,203.56 L289.11,203.60 L289.49,203.64 L289.87,203.68 L290.24,203.72 L290.62,203.75 L291.00,203.79 L291.38,203.83 L291.75,203.87 L292.13,203.91 L292.51,203.95 L292.88,203.99 L293.26,204.02 L293.64,204.06 L294.02,204.10 L294.39,204.14 L294.77,204.17 L295.15,204.21 L295.53,204.25 L295.90,204.29 L296.28,204.32 L296.66,204.36 L297.03,204.40 L297.41,204.43 L297.79,204.47 L298.17,204.50 L298.54,204.54 L298.92,204.58 L299.30,204.61 L299.68,204.65 L300.05,204.68 L300.43,204.72 L300.81,204.75 L301.18,204.79 L301.56,204.82 L301.94,204.86 L302.32,204.89 L302.69,204.93 L303.07,204.96 L303.45,205.00 L303.82,205.03 L304.20,205.07 L304.58,205.10 L304.96,205.13 L305.33,205.17 L305.71,205.20 L306.09,205.24 L306.47,205.27 L306.84,205.30 L307.22,205.34 L307.60,205.37 L307.97,205.40 L308.35,205.44 L308.73,205.47 L309.11,205.50 L309.48,205.53 L309.86,205.57 L310.24,205.60 L310.62,205.63 L310.99,205.66 L311.37,205.69 L311.75,205.73 L312.12,205.76 L312.50,205.79 L312.88,205.82 L313.26,205.85 L313.63,205.88 L314.01,205.91 L314.39,205.95 L314.76,205.98 L315.14,206.01 L315.52,206.04 L315.90,206.07 L316.27,206.10 L316.65,206.13 L317.03,206.16 L317.41,206.19 L317.78,206.22 L318.16,206.25 L318.54,206.28 L318.91,206.31 L319.29,206.34 L319.67,206.37 L320.05,206.40 L320.42,206.43 L320.80,206.46 L321.18,206.49 L321.56,206.52 L321.93,206.55 L322.31,206.58 L322.69,206.60 L323.06,206.63 L323.44,206.66 L323.82,206.69 L324.20,206.72 L324.57,206.75 L324.95,206.77 L325.33,206.80 L325.71,206.83 L326.08,206.86 L326.46,206.89 L326.84,206.91 L327.21,206.94 L327.59,206.97 L327.97,207.00 L328.35,207.02 L328.72,207.05 L329.10,207.08 L329.48,207.11 L329.86,207.13 L330.23,207.16 L330.61,207.19 L330.99,207.21 L331.36,207.24 L331.74,207.27 L332.12,207.29 L332.50,207.32 L332.87,207.35 L333.25,207.37 L333.63,207.40 L334.00,207.42 L334.38,207.45 L334.76,207.48 L335.14,207.50 L335.51,207.53 L335.89,207.55 L336.27,207.58 L336.65,207.61 L337.02,207.63 L337.40,207.66" fill="none" stroke="#ff0000" stroke-width="1.65" stroke-linejoin="round" stroke-linecap="square" stroke-dasharray="4.3000 3.5027"/>
<path d="M35.60,218.30 L35.98,218.28 L36.35,218.24 L36.73,218.16 L37.11,218.06 L37.49,217.92 L37.86,217.74 L38.24,217.53 L38.62,217.28 L39.00,217.00 L39.37,216.67 L39.75,216.30 L40.13,215.89 L40.50,215.44 L40.88,214.94 L41.26,214.40 L41.64,213.81 L42.01,213.18 L42.39,212.51 L42.77,211.80 L43.15,211.05 L43.52,210.27 L43.90,209.45 L44.28,208.59 L44.65,207.71 L45.03,206.80 L45.41,205.86 L45.79,204.91 L46.16,203.93 L46.54,202.93 L46.92,201.92 L47.29,200.90 L47.67,199.86 L48.05,198.82 L48.43,197.76 L48.80,196.70 L49.18,195.64 L49.56,194.57 L49.94,193.50 L50.31,192.43 L50.69,191.36 L51.07,190.29 L51.44,189.22 L51.82,188.15 L52.20,187.08 L52.58,186.03 L52.95,184.97 L53.33,183.92 L53.71,182.88 L54.09,181.84 L54.46,180.81 L54.84,179.80 L55.22,178.78 L55.59,177.78 L55.97,176.79 L56.35,175.81 L56.73,174.85 L57.10,173.89 L57.48,172.94 L57.86,172.01 L58.23,171.10 L58.61,170.19 L58.99,169.30 L59.37,168.42 L59.74,167.56 L60.12,166.72 L60.50,165.89 L60.88,165.07 L61.25,164.27 L61.63,163.48 L62.01,162.72 L62.38,161.96 L62.76,161.23 L63.14,160.51 L63.52,159.80 L63.89,159.12 L64.27,158.44 L64.65,157.79 L65.03,157.15 L65.40,156.53 L65.78,155.92 L66.16,155.33 L66.53,154.76 L66.91,154.20 L67.29,153.66 L67.67,153.13 L68.04,152.62 L68.42,152.12 L68.80,151.64 L69.18,151.18 L69.55,150.73 L69.93,150.29 L70.31,149.87 L70.68,149.47 L71.06,149.08 L71.44,148.70 L71.82,148.33 L72.19,147.98 L72.57,147.65 L72.95,147.32 L73.32,147.01 L73.70,146.72 L74.08,146.43 L74.46,146.16 L74.83,145.90 L75.21,145.65 L75.59,145.41 L75.97,145.19 L76.34,144.98 L76.72,144.77 L77.10,144.58 L77.47,144.40 L77.85,144.23 L78.23,144.07 L78.61,143.92 L78.98,143.78 L79.36,143.65 L79.74,143.53 L80.12,143.42 L80.49,143.31 L80.87,143.22 L81.25,143.13 L81.62,143.06 L82.00,142.99 L82.38,142.93 L82.76,142.88 L83.13,142.83 L83.51,142.79 L83.89,142.76 L84.27,142.74 L84.64,142.73 L85.02,142.72 L85.40,142.71 L85.77,142.72 L86.15,142.73 L86.53,142.74 L86.91,142.77 L87.28,142.80 L87.66,142.83 L88.04,142.87 L88.41,142.91 L88.79,142.97 L89.17,143.02 L89.55,143.08 L89.92,143.15 L90.30,143.22 L90.68,143.29 L91.06,143.37 L91.43,143.45 L91.81,143.54 L92.19,143.63 L92.56,143.73 L92.94,143.83 L93.32,143.93 L93.70,144.04 L94.07,144.15 L94.45,144.26 L94.83,144.38 L95.21,144.50 L95.58,144.63 L95.96,144.75 L96.34,144.88 L96.71,145.01 L97.09,145.15 L97.47,145.29 L97.85,145.43 L98.22,145.57 L98.60,145.72 L98.98,145.87 L99.36,146.02 L99.73,146.17 L100.11,146.32 L100.49,146.48 L100.86,146.64 L101.24,146.80 L101.62,146.96 L102.00,147.12 L102.37,147.29 L102.75,147.46 L103.13,147.63 L103.50,147.80 L103.88,147.97 L104.26,148.14 L104.64,148.32 L105.01,148.49 L105.39,148.67 L105.77,148.85 L106.15,149.03 L106.52,149.21 L106.90,149.39 L107.28,149.57 L107.65,149.76 L108.03,149.94 L108.41,150.13 L108.79,150.31 L109.16,150.50 L109.54,150.69 L109.92,150.87 L110.30,151.06 L110.67,151.25 L111.05,151.44 L111.43,151.63 L111.80,151.82 L112.18,152.02 L112.56,152.21 L112.94,152.40 L113.31,152.59 L113.69,152.79 L114.07,152.98 L114.45,153.17 L114.82,153.37 L115.20,153.56 L115.58,153.76 L115.95,153.95 L116.33,154.15 L116.71,154.34 L117.09,154.54 L117.46,154.73 L117.84,154.93 L118.22,155.12 L118.59,155.32 L118.97,155.51 L119.35,155.71 L119.73,155.90 L120.10,156.10 L120.48,156.30 L120.86,156.49 L121.24,156.69 L121.61,156.88 L121.99,157.07 L122.37,157.27 L122.74,157.46 L123.12,157.66 L123.50,157.85 L123.88,158.04 L124.25,158.24 L124.63,158.43 L125.01,158.62 L125.39,158.82 L125.76,159.01 L126.14,159.20 L126.52,159.39 L126.89,159.58 L127.27,159.77 L127.65,159.97 L128.03,160.16 L128.40,160.35 L128.78,160.54 L129.16,160.72 L129.54,160.91 L129.91,161.10 L130.29,161.29 L130.67,161.48 L131.04,161.66 L131.42,161.85 L131.80,162.04 L132.18,162.22 L132.55,162.41 L132.93,162.59 L133.31,162.78 L133.69,162.96 L134.06,163.14 L134.44,163.33 L134.82,163.51 L135.19,163.69 L135.57,163.87 L135.95,164.05 L136.33,164.24 L136.70,164.42 L137.08,164.59 L137.46,164.77 L137.83,164.95 L138.21,165.13 L138.59,165.31 L138.97,165.48 L139.34,165.66 L139.72,165.84 L140.10,166.01 L140.48,166.19 L140.85,166.36 L141.23,166.53 L141.61,166.71 L141.98,166.88 L142.36,167.05 L142.74,167.22 L143.12,167.40 L143.49,167.57 L143.87,167.74 L144.25,167.91 L144.63,168.07 L145.00,168.24 L145.38,168.41 L145.76,168.58 L146.13,168.75 L146.51,168.91 L146.89,169.08 L147.27,169.24 L147.64,169.41 L148.02,169.57 L148.40,169.73 L148.78,169.90 L149.15,170.06 L149.53,170.22 L149.91,170.38 L150.28,170.54 L150.66,170.70 L151.04,170.86 L151.42,171.02 L151.79,171.18 L152.17,171.34 L152.55,171.50 L152.92,171.66 L153.30,171.81 L153.68,171.97 L154.06,172.13 L154.43,172.28 L154.81,172.44 L155.19,172.59 L155.57,172.74 L155.94,172.90 L156.32,173.05 L156.70,173.20 L157.07,173.35 L157.45,173.50 L157.83,173.66 L158.21,173.81 L158.58,173.96 L158.96,174.11 L159.34,174.25 L159.72,174.40 L160.09,174.55 L160.47,174.70 L160.85,174.84 L161.22,174.99 L161.60,175.14 L161.98,175.28 L162.36,175.43 L162.73,175.57 L163.11,175.72 L163.49,175.86 L163.86,176.00 L164.24,176.15 L164.62,176.29 L165.00,176.43 L165.37,176.57 L165.75,176.71 L166.13,176.85 L166.51,177.00 L166.88,177.13 L167.26,177.27 L167.64,177.41 L168.01,177.55 L168.39,177.69 L168.77,177.83 L169.15,177.96 L169.52,178.10 L169.90,178.24 L170.28,178.37 L170.66,178.51 L171.03,178.64 L171.41,178.78 L171.79,178.91 L172.16,179.05 L172.54,179.18 L172.92,179.31 L173.30,179.45 L173.67,179.58 L174.05,179.71 L174.43,179.84 L174.81,179.97 L175.18,180.10 L175.56,180.23 L175.94,180.36 L176.31,180.49 L176.69,180.62 L177.07,180.75 L177.45,180.88 L177.82,181.01 L178.20,181.14 L178.58,181.26 L178.95,181.39 L179.33,181.52 L179.71,181.64 L180.09,181.77 L180.46,181.89 L180.84,182.02 L181.22,182.14 L181.60,182.27 L181.97,182.39 L182.35,182.51 L182.73,182.64 L183.10,182.76 L183.48,182.88 L183.86,183.00 L184.24,183.12 L184.61,183.25 L184.99,183.37 L185.37,183.49 L185.75,183.61 L186.12,183.73 L186.50,183.85 L186.88,183.96 L187.25,184.08 L187.63,184.20 L188.01,184.32 L188.39,184.44 L188.76,184.55 L189.14,184.67 L189.52,184.78 L189.90,184.90 L190.27,185.02 L190.65,185.13 L191.03,185.25 L191.40,185.36 L191.78,185.47 L192.16,185.59 L192.54,185.70 L192.91,185.81 L193.29,185.92 L193.67,186.04 L194.04,186.15 L194.42,186.26 L194.80,186.37 L195.18,186.48 L195.55,186.59 L195.93,186.70 L196.31,186.81 L196.69,186.92 L197.06,187.03 L197.44,187.13 L197.82,187.24 L198.19,187.35 L198.57,187.46 L198.95,187.56 L199.33,187.67 L199.70,187.77 L200.08,187.88 L200.46,187.98 L200.84,188.09 L201.21,188.19 L201.59,188.30 L201.97,188.40 L202.34,188.50 L202.72,188.60 L203.10,188.71 L203.48,188.81 L203.85,188.91 L204.23,189.01 L204.61,189.11 L204.99,189.21 L205.36,189.31 L205.74,189.41 L206.12,189.51 L206.49,189.61 L206.87,189.71 L207.25,189.80 L207.63,189.90 L208.00,190.00 L208.38,190.10 L208.76,190.19 L209.13,190.29 L209.51,190.38 L209.89,190.48 L210.27,190.57 L210.64,190.67 L211.02,190.76 L211.40,190.85 L211.78,190.95 L212.15,191.04 L212.53,191.13 L212.91,191.22 L213.28,191.32 L213.66,191.41 L214.04,191.50 L214.42,191.59 L214.79,191.68 L215.17,191.77 L215.55,191.86 L215.93,191.95 L216.30,192.03 L216.68,192.12 L217.06,192.21 L217.43,192.30 L217.81,192.39 L218.19,192.47 L218.57,192.56 L218.94,192.64 L219.32,192.73 L219.70,192.81 L220.08,192.90 L220.45,192.98 L220.83,193.07 L221.21,193.15 L221.58,193.23 L221.96,193.32 L222.34,193.40 L222.72,193.48 L223.09,193.56 L223.47,193.65 L223.85,193.73 L224.22,193.81 L224.60,193.89 L224.98,193.97 L225.36,194.05 L225.73,194.13 L226.11,194.21 L226.49,194.28 L226.87,194.36 L227.24,194.44 L227.62,194.52 L228.00,194.59 L228.37,194.67 L228.75,194.75 L229.13,194.82 L229.51,194.90 L229.88,194.98 L230.26,195.05 L230.64,195.13 L231.02,195.20 L231.39,195.27 L231.77,195.35 L232.15,195.42 L232.52,195.49 L232.90,195.57 L233.28,195.64 L233.66,195.71 L234.03,195.78 L234.41,195.86 L234.79,195.93 L235.17,196.00 L235.54,196.07 L235.92,196.14 L236.30,196.21 L236.67,196.28 L237.05,196.35 L237.43,196.42 L237.81,196.49 L238.18,196.55 L238.56,196.62 L238.94,196.69 L239.31,196.76 L239.69,196.83 L240.07,196.89 L240.45,196.96 L240.82,197.03 L241.20,197.09 L241.58,197.16 L241.96,197.22 L242.33,197.29 L242.71,197.35 L243.09,197.42 L243.46,197.48 L243.84,197.55 L244.22,197.61 L244.60,197.67 L244.97,197.74 L245.35,197.80 L245.73,197.86 L246.11,197.93 L246.48,197.99 L246.86,198.05 L247.24,198.11 L247.61,198.17 L247.99,198.23 L248.37,198.29 L248.75,198.36 L249.12,198.42 L249.50,198.48 L249.88,198.54 L250.26,198.60 L250.63,198.66 L251.01,198.71 L251.39,198.77 L251.76,198.83 L252.14,198.89 L252.52,198.95 L252.90,199.01 L253.27,199.06 L253.65,199.12 L254.03,199.18 L254.40,199.24 L254.78,199.29 L255.16,199.35 L255.54,199.41 L255.91,199.46 L256.29,199.52 L256.67,199.57 L257.05,199.63 L257.42,199.68 L257.80,199.74 L258.18,199.79 L258.55,199.85 L258.93,199.90 L259.31,199.96 L259.69,200.01 L260.06,200.06 L260.44,200.12 L260.82,200.17 L261.20,200.22 L261.57,200.28 L261.95,200.33 L262.33,200.38 L262.70,200.43 L263.08,200.49 L263.46,200.54 L263.84,200.59 L264.21,200.64 L264.59,200.69 L264.97,200.74 L265.35,200.79 L265.72,200.84 L266.10,200.89 L266.48,200.95 L266.85,201.00 L267.23,201.04 L267.61,201.09 L267.99,201.14 L268.36,201.19 L268.74,201.24 L269.12,201.29 L269.50,201.34 L269.87,201.39 L270.25,201.44 L270.63,201.48 L271.00,201.53 L271.38,201.58 L271.76,201.63 L272.14,201.68 L272.51,201.72 L272.89,201.77 L273.27,201.82 L273.64,201.86 L274.02,201.91 L274.40,201.96 L274.78,202.00 L275.15,202.05 L275.53,202.09 L275.91,202.14 L276.29,202.18 L276.66,202.23 L277.04,202.28 L277.42,202.32 L277.79,202.37 L278.17,202.41 L278.55,202.45 L278.93,202.50 L279.30,202.54 L279.68,202.59 L280.06,202.63 L280.44,202.67 L280.81,202.72 L281.19,202.76 L281.57,202.80 L281.94,202.85 L282.32,202.89 L282.70,202.93 L283.08,202.97 L283.45,203.02 L283.83,203.06 L284.21,203.10 L284.58,203.14 L284.96,203.19 L285.34,203.23 L285.72,203.27 L286.09,203.31 L286.47,203.35 L286.85,203.39 L287.23,203.43 L287.60,203.47 L287.98,203.51 L288.36,203.55 L288.73,203.59 L289.11,203.63 L289.49,203.67 L289.87,203.71 L290.24,203.75 L290.62,203.79 L291.00,203.83 L291.38,203.87 L291.75,203.91 L292.13,203.95 L292.51,203.99 L292.88,204.03 L293.26,204.07 L293.64,204.10 L294.02,204.14 L294.39,204.18 L294.77,204.22 L295.15,204.26 L295.53,204.29 L295.90,204.33 L296.28,204.37 L296.66,204.41 L297.03,204.44 L297.41,204.48 L297.79,204.52 L298.17,204.55 L298.54,204.59 L298.92,204.63 L299.30,204.66 L299.68,204.70 L300.05,204.74 L300.43,204.77 L300.81,204.81 L301.18,204.84 L301.56,204.88 L301.94,204.92 L302.32,204.95 L302.69,204.99 L303.07,205.02 L303.45,205.06 L303.82,205.09 L304.20,205.13 L304.58,205.16 L304.96,205.20 L305.33,205.23 L305.71,205.26 L306.09,205.30 L306.47,205.33 L306.84,205.37 L307.22,205.40 L307.60,205.43 L307.97,205.47 L308.35,205.50 L308.73,205.53 L309.11,205.57 L309.48,205.60 L309.86,205.63 L310.24,205.67 L310.62,205.70 L310.99,205.73 L311.37,205.76 L311.75,205.80 L312.12,205.83 L312.50,205.86 L312.88,205.89 L313.26,205.93 L313.63,205.96 L314.01,205.99 L314.39,206.02 L314.76,206.05 L315.14,206.08 L315.52,206.12 L315.90,206.15 L316.27,206.18 L316.65,206.21 L317.03,206.24 L317.41,206.27 L317.78,206.30 L318.16,206.33 L318.54,206.36 L318.91,206.39 L319.29,206.42 L319.67,206.45 L320.05,206.48 L320.42,206.51 L320.80,206.54 L321.18,206.57 L321.56,206.60 L321.93,206.63 L322.31,206.66 L322.69,206.69 L323.06,206.72 L323.44,206.75 L323.82,206.78 L324.20,206.81 L324.57,206.84 L324.95,206.87 L325.33,206.89 L325.71,206.92 L326.08,206.95 L326.46,206.98 L326.84,207.01 L327.21,207.04 L327.59,207.06 L327.97,207.09 L328.35,207.12 L328.72,207.15 L329.10,207.18 L329.48,207.20 L329.86,207.23 L330.23,207.26 L330.61,207.29 L330.99,207.31 L331.36,207.34 L331.74,207.37 L332.12,207.39 L332.50,207.42 L332.87,207.45 L333.25,207.48 L333.63,207.50 L334.00,207.53 L334.38,207.55 L334.76,207.58 L335.14,207.61 L335.51,207.63 L335.89,207.66 L336.27,207.69 L336.65,207.71 L337.02,207.74 L337.40,207.76" fill="none" stroke="#0000ff" stroke-width="1.65" stroke-linejoin="round" stroke-linecap="square" stroke-dasharray="4.3000 3.5208"/>
<path d="M35.60,37.50 L35.98,37.56 L36.35,37.73 L36.73,38.03 L37.11,38.43 L37.49,38.96 L37.86,39.59 L38.24,40.34 L38.62,41.19 L39.00,42.16 L39.37,43.22 L39.75,44.39 L40.13,45.66 L40.50,47.02 L40.88,48.48 L41.26,50.02 L41.64,51.65 L42.01,53.36 L42.39,55.15 L42.77,57.01 L43.15,58.93 L43.52,60.93 L43.90,62.98 L44.28,65.08 L44.65,67.24 L45.03,69.44 L45.41,71.69 L45.79,73.97 L46.16,76.29 L46.54,78.63 L46.92,81.00 L47.29,83.40 L47.67,85.80 L48.05,88.23 L48.43,90.66 L48.80,93.10 L49.18,95.54 L49.56,97.98 L49.94,100.42 L50.31,102.85 L50.69,105.27 L51.07,107.67 L51.44,110.07 L51.82,112.44 L52.20,114.80 L52.58,117.13 L52.95,119.44 L53.33,121.73 L53.71,123.99 L54.09,126.22 L54.46,128.41 L54.84,130.58 L55.22,132.72 L55.59,134.82 L55.97,136.89 L56.35,138.92 L56.73,140.92 L57.10,142.89 L57.48,144.81 L57.86,146.70 L58.23,148.55 L58.61,150.36 L58.99,152.14 L59.37,153.88 L59.74,155.58 L60.12,157.25 L60.50,158.87 L60.88,160.46 L61.25,162.02 L61.63,163.53 L62.01,165.01 L62.38,166.46 L62.76,167.87 L63.14,169.24 L63.52,170.58 L63.89,171.89 L64.27,173.16 L64.65,174.40 L65.03,175.61 L65.40,176.79 L65.78,177.93 L66.16,179.05 L66.53,180.13 L66.91,181.19 L67.29,182.21 L67.67,183.21 L68.04,184.18 L68.42,185.13 L68.80,186.05 L69.18,186.94 L69.55,187.81 L69.93,188.65 L70.31,189.47 L70.68,190.27 L71.06,191.04 L71.44,191.79 L71.82,192.52 L72.19,193.23 L72.57,193.92 L72.95,194.59 L73.32,195.24 L73.70,195.87 L74.08,196.49 L74.46,197.08 L74.83,197.66 L75.21,198.22 L75.59,198.77 L75.97,199.30 L76.34,199.81 L76.72,200.31 L77.10,200.80 L77.47,201.27 L77.85,201.73 L78.23,202.17 L78.61,202.60 L78.98,203.02 L79.36,203.43 L79.74,203.82 L80.12,204.20 L80.49,204.58 L80.87,204.94 L81.25,205.29 L81.62,205.63 L82.00,205.96 L82.38,206.28 L82.76,206.60 L83.13,206.90 L83.51,207.19 L83.89,207.48 L84.27,207.76 L84.64,208.03 L85.02,208.29 L85.40,208.55 L85.77,208.79 L86.15,209.03 L86.53,209.27 L86.91,209.50 L87.28,209.72 L87.66,209.93 L88.04,210.14 L88.41,210.34 L88.79,210.54 L89.17,210.73 L89.55,210.92 L89.92,211.10 L90.30,211.28 L90.68,211.45 L91.06,211.61 L91.43,211.78 L91.81,211.93 L92.19,212.09 L92.56,212.24 L92.94,212.38 L93.32,212.52 L93.70,212.66 L94.07,212.79 L94.45,212.92 L94.83,213.05 L95.21,213.17 L95.58,213.29 L95.96,213.41 L96.34,213.52 L96.71,213.63 L97.09,213.74 L97.47,213.85 L97.85,213.95 L98.22,214.05 L98.60,214.14 L98.98,214.24 L99.36,214.33 L99.73,214.42 L100.11,214.51 L100.49,214.59 L100.86,214.67 L101.24,214.75 L101.62,214.83 L102.00,214.91 L102.37,214.98 L102.75,215.06 L103.13,215.13 L103.50,215.20 L103.88,215.26 L104.26,215.33 L104.64,215.39 L105.01,215.46 L105.39,215.52 L105.77,215.58 L106.15,215.63 L106.52,215.69 L106.90,215.74 L107.28,215.80 L107.65,215.85 L108.03,215.90 L108.41,215.95 L108.79,216.00 L109.16,216.05 L109.54,216.09 L109.92,216.14 L110.30,216.18 L110.67,216.23 L111.05,216.27 L111.43,216.31 L111.80,216.35 L112.18,216.39 L112.56,216.43 L112.94,216.47 L113.31,216.50 L113.69,216.54 L114.07,216.57 L114.45,216.61 L114.82,216.64 L115.20,216.67 L115.58,216.70 L115.95,216.74 L116.33,216.77 L116.71,216.80 L117.09,216.82 L117.46,216.85 L117.84,216.88 L118.22,216.91 L118.59,216.93 L118.97,216.96 L119.35,216.99 L119.73,217.01 L120.10,217.03 L120.48,217.06 L120.86,217.08 L121.24,217.10 L121.61,217.13 L121.99,217.15 L122.37,217.17 L122.74,217.19 L123.12,217.21 L123.50,217.23 L123.88,217.25 L124.25,217.27 L124.63,217.29 L125.01,217.30 L125.39,217.32 L125.76,217.34 L126.14,217.36 L126.52,217.37 L126.89,217.39 L127.27,217.41 L127.65,217.42 L128.03,217.44 L128.40,217.45 L128.78,217.47 L129.16,217.48 L129.54,217.50 L129.91,217.51 L130.29,217.52 L130.67,217.54 L131.04,217.55 L131.42,217.56 L131.80,217.58 L132.18,217.59 L132.55,217.60 L132.93,217.61 L133.31,217.62 L133.69,217.63 L134.06,217.65 L134.44,217.66 L134.82,217.67 L135.19,217.68 L135.57,217.69 L135.95,217.70 L136.33,217.71 L136.70,217.72 L137.08,217.73 L137.46,217.74 L137.83,217.75 L138.21,217.75 L138.59,217.76 L138.97,217.77 L139.34,217.78 L139.72,217.79 L140.10,217.80 L140.48,217.80 L140.85,217.81 L141.23,217.82 L141.61,217.83 L141.98,217.83 L142.36,217.84 L142.74,217.85 L143.12,217.86 L143.49,217.86 L143.87,217.87 L144.25,217.88 L144.63,217.88 L145.00,217.89 L145.38,217.90 L145.76,217.90 L146.13,217.91 L146.51,217.91 L146.89,217.92 L147.27,217.93 L147.64,217.93 L148.02,217.94 L148.40,217.94 L148.78,217.95 L149.15,217.95 L149.53,217.96 L149.91,217.96 L150.28,217.97 L150.66,217.97 L151.04,217.98 L151.42,217.98 L151.79,217.99 L152.17,217.99 L152.55,218.00 L152.92,218.00 L153.30,218.00 L153.68,218.01 L154.06,218.01 L154.43,218.02 L154.81,218.02 L155.19,218.02 L155.57,218.03 L155.94,218.03 L156.32,218.04 L156.70,218.04 L157.07,218.04 L157.45,218.05 L157.83,218.05 L158.21,218.05 L158.58,218.06 L158.96,218.06 L159.34,218.06 L159.72,218.07 L160.09,218.07 L160.47,218.07 L160.85,218.08 L161.22,218.08 L161.60,218.08 L161.98,218.09 L162.36,218.09 L162.73,218.09 L163.11,218.09 L163.49,218.10 L163.86,218.10 L164.24,218.10 L164.62,218.11 L165.00,218.11 L165.37,218.11 L165.75,218.11 L166.13,218.12 L166.51,218.12 L166.88,218.12 L167.26,218.12 L167.64,218.12 L168.01,218.13 L168.39,218.13 L168.77,218.13 L169.15,218.13 L169.52,218.14 L169.90,218.14 L170.28,218.14 L170.66,218.14 L171.03,218.14 L171.41,218.15 L171.79,218.15 L172.16,218.15 L172.54,218.15 L172.92,218.15 L173.30,218.16 L173.67,218.16 L174.05,218.16 L174.43,218.16 L174.81,218.16 L175.18,218.16 L175.56,218.17 L175.94,218.17 L176.31,218.17 L176.69,218.17 L177.07,218.17 L177.45,218.17 L177.82,218.18 L178.20,218.18 L178.58,218.18 L178.95,218.18 L179.33,218.18 L179.71,218.18 L180.09,218.18 L180.46,218.19 L180.84,218.19 L181.22,218.19 L181.60,218.19 L181.97,218.19 L182.35,218.19 L182.73,218.19 L183.10,218.20 L183.48,218.20 L183.86,218.20 L184.24,218.20 L184.61,218.20 L184.99,218.20 L185.37,218.20 L185.75,218.20 L186.12,218.20 L186.50,218.21 L186.88,218.21 L187.25,218.21 L187.63,218.21 L188.01,218.21 L188.39,218.21 L188.76,218.21 L189.14,218.21 L189.52,218.21 L189.90,218.21 L190.27,218.22 L190.65,218.22 L191.03,218.22 L191.40,218.22 L191.78,218.22 L192.16,218.22 L192.54,218.22 L192.91,218.22 L193.29,218.22 L193.67,218.22 L194.04,218.22 L194.42,218.23 L194.80,218.23 L195.18,218.23 L195.55,218.23 L195.93,218.23 L196.31,218.23 L196.69,218.23 L197.06,218.23 L197.44,218.23 L197.82,218.23 L198.19,218.23 L198.57,218.23 L198.95,218.23 L199.33,218.24 L199.70,218.24 L200.08,218.24 L200.46,218.24 L200.84,218.24 L201.21,218.24 L201.59,218.24 L201.97,218.24 L202.34,218.24 L202.72,218.24 L203.10,218.24 L203.48,218.24 L203.85,218.24 L204.23,218.24 L204.61,218.24 L204.99,218.24 L205.36,218.25 L205.74,218.25 L206.12,218.25 L206.49,218.25 L206.87,218.25 L207.25,218.25 L207.63,218.25 L208.00,218.25 L208.38,218.25 L208.76,218.25 L209.13,218.25 L209.51,218.25 L209.89,218.25 L210.27,218.25 L210.64,218.25 L211.02,218.25 L211.40,218.25 L211.78,218.25 L212.15,218.25 L212.53,218.26 L212.91,218.26 L213.28,218.26 L213.66,218.26 L214.04,218.26 L214.42,218.26 L214.79,218.26 L215.17,218.26 L215.55,218.26 L215.93,218.26 L216.30,218.26 L216.68,218.26 L217.06,218.26 L217.43,218.26 L217.81,218.26 L218.19,218.26 L218.57,218.26 L218.94,218.26 L219.32,218.26 L219.70,218.26 L220.08,218.26 L220.45,218.26 L220.83,218.26 L221.21,218.26 L221.58,218.26 L221.96,218.26 L222.34,218.27 L222.72,218.27 L223.09,218.27 L223.47,218.27 L223.85,218.27 L224.22,218.27 L224.60,218.27 L224.98,218.27 L225.36,218.27 L225.73,218.27 L226.11,218.27 L226.49,218.27 L226.87,218.27 L227.24,218.27 L227.62,218.27 L228.00,218.27 L228.37,218.27 L228.75,218.27 L229.13,218.27 L229.51,218.27 L229.88,218.27 L230.26,218.27 L230.64,218.27 L231.02,218.27 L231.39,218.27 L231.77,218.27 L232.15,218.27 L232.52,218.27 L232.90,218.27 L233.28,218.27 L233.66,218.27 L234.03,218.27 L234.41,218.27 L234.79,218.27 L235.17,218.27 L235.54,218.27 L235.92,218.28 L236.30,218.28 L236.67,218.28 L237.05,218.28 L237.43,218.28 L237.81,218.28 L238.18,218.28 L238.56,218.28 L238.94,218.28 L239.31,218.28 L239.69,218.28 L240.07,218.28 L240.45,218.28 L240.82,218.28 L241.20,218.28 L241.58,218.28 L241.96,218.28 L242.33,218.28 L242.71,218.28 L243.09,218.28 L243.46,218.28 L243.84,218.28 L244.22,218.28 L244.60,218.28 L244.97,218.28 L245.35,218.28 L245.73,218.28 L246.11,218.28 L246.48,218.28 L246.86,218.28 L247.24,218.28 L247.61,218.28 L247.99,218.28 L248.37,218.28 L248.75,218.28 L249.12,218.28 L249.50,218.28 L249.88,218.28 L250.26,218.28 L250.63,218.28 L251.01,218.28 L251.39,218.28 L251.76,218.28 L252.14,218.28 L252.52,218.28 L252.90,218.28 L253.27,218.28 L253.65,218.28 L254.03,218.28 L254.40,218.28 L254.78,218.28 L255.16,218.28 L255.54,218.28 L255.91,218.28 L256.29,218.28 L256.67,218.28 L257.05,218.28 L257.42,218.28 L257.80,218.28 L258.18,218.28 L258.55,218.29 L258.93,218.29 L259.31,218.29 L259.69,218.29 L260.06,218.29 L260.44,218.29 L260.82,218.29 L261.20,218.29 L261.57,218.29 L261.95,218.29 L262.33,218.29 L262.70,218.29 L263.08,218.29 L263.46,218.29 L263.84,218.29 L264.21,218.29 L264.59,218.29 L264.97,218.29 L265.35,218.29 L265.72,218.29 L266.10,218.29 L266.48,218.29 L266.85,218.29 L267.23,218.29 L267.61,218.29 L267.99,218.29 L268.36,218.29 L268.74,218.29 L269.12,218.29 L269.50,218.29 L269.87,218.29 L270.25,218.29 L270.63,218.29 L271.00,218.29 L271.38,218.29 L271.76,218.29 L272.14,218.29 L272.51,218.29 L272.89,218.29 L273.27,218.29 L273.64,218.29 L274.02,218.29 L274.40,218.29 L274.78,218.29 L275.15,218.29 L275.53,218.29 L275.91,218.29 L276.29,218.29 L276.66,218.29 L277.04,218.29 L277.42,218.29 L277.79,218.29 L278.17,218.29 L278.55,218.29 L278.93,218.29 L279.30,218.29 L279.68,218.29 L280.06,218.29 L280.44,218.29 L280.81,218.29 L281.19,218.29 L281.57,218.29 L281.94,218.29 L282.32,218.29 L282.70,218.29 L283.08,218.29 L283.45,218.29 L283.83,218.29 L284.21,218.29 L284.58,218.29 L284.96,218.29 L285.34,218.29 L285.72,218.29 L286.09,218.29 L286.47,218.29 L286.85,218.29 L287.23,218.29 L287.60,218.29 L287.98,218.29 L288.36,218.29 L288.73,218.29 L289.11,218.29 L289.49,218.29 L289.87,218.29 L290.24,218.29 L290.62,218.29 L291.00,218.29 L291.38,218.29 L291.75,218.29 L292.13,218.29 L292.51,218.29 L292.88,218.29 L293.26,218.29 L293.64,218.29 L294.02,218.29 L294.39,218.29 L294.77,218.29 L295.15,218.29 L295.53,218.29 L295.90,218.29 L296.28,218.29 L296.66,218.29 L297.03,218.29 L297.41,218.29 L297.79,218.29 L298.17,218.29 L298.54,218.29 L298.92,218.29 L299.30,218.29 L299.68,218.29 L300.05,218.29 L300.43,218.29 L300.81,218.29 L301.18,218.29 L301.56,218.29 L301.94,218.29 L302.32,218.29 L302.69,218.29 L303.07,218.29 L303.45,218.29 L303.82,218.29 L304.20,218.29 L304.58,218.29 L304.96,218.29 L305.33,218.29 L305.71,218.29 L306.09,218.29 L306.47,218.29 L306.84,218.29 L307.22,218.29 L307.60,218.29 L307.97,218.29 L308.35,218.29 L308.73,218.29 L309.11,218.29 L309.48,218.29 L309.86,218.29 L310.24,218.29 L310.62,218.29 L310.99,218.29 L311.37,218.29 L311.75,218.29 L312.12,218.29 L312.50,218.29 L312.88,218.29 L313.26,218.29 L313.63,218.29 L314.01,218.29 L314.39,218.29 L314.76,218.29 L315.14,218.29 L315.52,218.29 L315.90,218.29 L316.27,218.30 L316.65,218.30 L317.03,218.30 L317.41,218.30 L317.78,218.30 L318.16,218.30 L318.54,218.30 L318.91,218.30 L319.29,218.30 L319.67,218.30 L320.05,218.30 L320.42,218.30 L320.80,218.30 L321.18,218.30 L321.56,218.30 L321.93,218.30 L322.31,218.30 L322.69,218.30 L323.06,218.30 L323.44,218.30 L323.82,218.30 L324.20,218.30 L324.57,218.30 L324.95,218.30 L325.33,218.30 L325.71,218.30 L326.08,218.30 L326.46,218.30 L326.84,218.30 L327.21,218.30 L327.59,218.30 L327.97,218.30 L328.35,218.30 L328.72,218.30 L329.10,218.30 L329.48,218.30 L329.86,218.30 L330.23,218.30 L330.61,218.30 L330.99,218.30 L331.36,218.30 L331.74,218.30 L332.12,218.30 L332.50,218.30 L332.87,218.30 L333.25,218.30 L333.63,218.30 L334.00,218.30 L334.38,218.30 L334.76,218.30 L335.14,218.30 L335.51,218.30 L335.89,218.30 L336.27,218.30 L336.65,218.30 L337.02,218.30 L337.40,218.30" fill="none" stroke="#ff0000" stroke-width="1.65" stroke-linejoin="round" stroke-linecap="square" stroke-dasharray="1.1500 3.9253"/>
<path d="M35.60,182.14 L35.98,182.15 L36.35,182.19 L36.73,182.24 L37.11,182.32 L37.49,182.43 L37.86,182.55 L38.24,182.70 L38.62,182.87 L39.00,183.05 L39.37,183.26 L39.75,183.49 L40.13,183.74 L40.50,184.01 L40.88,184.30 L41.26,184.60 L41.64,184.92 L42.01,185.26 L42.39,185.61 L42.77,185.98 L43.15,186.36 L43.52,186.75 L43.90,187.15 L44.28,187.57 L44.65,187.99 L45.03,188.43 L45.41,188.87 L45.79,189.32 L46.16,189.78 L46.54,190.24 L46.92,190.71 L47.29,191.19 L47.67,191.66 L48.05,192.14 L48.43,192.63 L48.80,193.11 L49.18,193.59 L49.56,194.08 L49.94,194.56 L50.31,195.05 L50.69,195.53 L51.07,196.01 L51.44,196.48 L51.82,196.96 L52.20,197.42 L52.58,197.89 L52.95,198.35 L53.33,198.81 L53.71,199.26 L54.09,199.70 L54.46,200.14 L54.84,200.58 L55.22,201.00 L55.59,201.42 L55.97,201.84 L56.35,202.25 L56.73,202.65 L57.10,203.04 L57.48,203.43 L57.86,203.80 L58.23,204.18 L58.61,204.54 L58.99,204.90 L59.37,205.25 L59.74,205.59 L60.12,205.93 L60.50,206.25 L60.88,206.57 L61.25,206.89 L61.63,207.19 L62.01,207.49 L62.38,207.78 L62.76,208.07 L63.14,208.34 L63.52,208.61 L63.89,208.88 L64.27,209.14 L64.65,209.39 L65.03,209.63 L65.40,209.87 L65.78,210.10 L66.16,210.33 L66.53,210.55 L66.91,210.76 L67.29,210.97 L67.67,211.17 L68.04,211.37 L68.42,211.56 L68.80,211.74 L69.18,211.93 L69.55,212.10 L69.93,212.27 L70.31,212.44 L70.68,212.60 L71.06,212.76 L71.44,212.91 L71.82,213.06 L72.19,213.20 L72.57,213.34 L72.95,213.48 L73.32,213.61 L73.70,213.74 L74.08,213.86 L74.46,213.99 L74.83,214.10 L75.21,214.22 L75.59,214.33 L75.97,214.44 L76.34,214.54 L76.72,214.64 L77.10,214.74 L77.47,214.84 L77.85,214.93 L78.23,215.02 L78.61,215.11 L78.98,215.19 L79.36,215.28 L79.74,215.36 L80.12,215.44 L80.49,215.51 L80.87,215.59 L81.25,215.66 L81.62,215.73 L82.00,215.79 L82.38,215.86 L82.76,215.92 L83.13,215.98 L83.51,216.04 L83.89,216.10 L84.27,216.16 L84.64,216.21 L85.02,216.27 L85.40,216.32 L85.77,216.37 L86.15,216.42 L86.53,216.47 L86.91,216.51 L87.28,216.56 L87.66,216.60 L88.04,216.65 L88.41,216.69 L88.79,216.73 L89.17,216.77 L89.55,216.80 L89.92,216.84 L90.30,216.88 L90.68,216.91 L91.06,216.95 L91.43,216.98 L91.81,217.01 L92.19,217.04 L92.56,217.07 L92.94,217.10 L93.32,217.13 L93.70,217.16 L94.07,217.19 L94.45,217.21 L94.83,217.24 L95.21,217.26 L95.58,217.29 L95.96,217.31 L96.34,217.33 L96.71,217.36 L97.09,217.38 L97.47,217.40 L97.85,217.42 L98.22,217.44 L98.60,217.46 L98.98,217.48 L99.36,217.50 L99.73,217.52 L100.11,217.53 L100.49,217.55 L100.86,217.57 L101.24,217.58 L101.62,217.60 L102.00,217.62 L102.37,217.63 L102.75,217.65 L103.13,217.66 L103.50,217.67 L103.88,217.69 L104.26,217.70 L104.64,217.71 L105.01,217.73 L105.39,217.74 L105.77,217.75 L106.15,217.76 L106.52,217.77 L106.90,217.79 L107.28,217.80 L107.65,217.81 L108.03,217.82 L108.41,217.83 L108.79,217.84 L109.16,217.85 L109.54,217.86 L109.92,217.87 L110.30,217.88 L110.67,217.88 L111.05,217.89 L111.43,217.90 L111.80,217.91 L112.18,217.92 L112.56,217.92 L112.94,217.93 L113.31,217.94 L113.69,217.95 L114.07,217.95 L114.45,217.96 L114.82,217.97 L115.20,217.97 L115.58,217.98 L115.95,217.99 L116.33,217.99 L116.71,218.00 L117.09,218.00 L117.46,218.01 L117.84,218.02 L118.22,218.02 L118.59,218.03 L118.97,218.03 L119.35,218.04 L119.73,218.04 L120.10,218.05 L120.48,218.05 L120.86,218.06 L121.24,218.06 L121.61,218.07 L121.99,218.07 L122.37,218.07 L122.74,218.08 L123.12,218.08 L123.50,218.09 L123.88,218.09 L124.25,218.09 L124.63,218.10 L125.01,218.10 L125.39,218.11 L125.76,218.11 L126.14,218.11 L126.52,218.12 L126.89,218.12 L127.27,218.12 L127.65,218.13 L128.03,218.13 L128.40,218.13 L128.78,218.13 L129.16,218.14 L129.54,218.14 L129.91,218.14 L130.29,218.15 L130.67,218.15 L131.04,218.15 L131.42,218.15 L131.80,218.16 L132.18,218.16 L132.55,218.16 L132.93,218.16 L133.31,218.17 L133.69,218.17 L134.06,218.17 L134.44,218.17 L134.82,218.17 L135.19,218.18 L135.57,218.18 L135.95,218.18 L136.33,218.18 L136.70,218.18 L137.08,218.19 L137.46,218.19 L137.83,218.19 L138.21,218.19 L138.59,218.19 L138.97,218.20 L139.34,218.20 L139.72,218.20 L140.10,218.20 L140.48,218.20 L140.85,218.20 L141.23,218.21 L141.61,218.21 L141.98,218.21 L142.36,218.21 L142.74,218.21 L143.12,218.21 L143.49,218.21 L143.87,218.22 L144.25,218.22 L144.63,218.22 L145.00,218.22 L145.38,218.22 L145.76,218.22 L146.13,218.22 L146.51,218.22 L146.89,218.22 L147.27,218.23 L147.64,218.23 L148.02,218.23 L148.40,218.23 L148.78,218.23 L149.15,218.23 L149.53,218.23 L149.91,218.23 L150.28,218.23 L150.66,218.24 L151.04,218.24 L151.42,218.24 L151.79,218.24 L152.17,218.24 L152.55,218.24 L152.92,218.24 L153.30,218.24 L153.68,218.24 L154.06,218.24 L154.43,218.24 L154.81,218.25 L155.19,218.25 L155.57,218.25 L155.94,218.25 L156.32,218.25 L156.70,218.25 L157.07,218.25 L157.45,218.25 L157.83,218.25 L158.21,218.25 L158.58,218.25 L158.96,218.25 L159.34,218.25 L159.72,218.25 L160.09,218.26 L160.47,218.26 L160.85,218.26 L161.22,218.26 L161.60,218.26 L161.98,218.26 L162.36,218.26 L162.73,218.26 L163.11,218.26 L163.49,218.26 L163.86,218.26 L164.24,218.26 L164.62,218.26 L165.00,218.26 L165.37,218.26 L165.75,218.26 L166.13,218.26 L166.51,218.26 L166.88,218.26 L167.26,218.27 L167.64,218.27 L168.01,218.27 L168.39,218.27 L168.77,218.27 L169.15,218.27 L169.52,218.27 L169.90,218.27 L170.28,218.27 L170.66,218.27 L171.03,218.27 L171.41,218.27 L171.79,218.27 L172.16,218.27 L172.54,218.27 L172.92,218.27 L173.30,218.27 L173.67,218.27 L174.05,218.27 L174.43,218.27 L174.81,218.27 L175.18,218.27 L175.56,218.27 L175.94,218.27 L176.31,218.27 L176.69,218.27 L177.07,218.28 L177.45,218.28 L177.82,218.28 L178.20,218.28 L178.58,218.28 L178.95,218.28 L179.33,218.28 L179.71,218.28 L180.09,218.28 L180.46,218.28 L180.84,218.28 L181.22,218.28 L181.60,218.28 L181.97,218.28 L182.35,218.28 L182.73,218.28 L183.10,218.28 L183.48,218.28 L183.86,218.28 L184.24,218.28 L184.61,218.28 L184.99,218.28 L185.37,218.28 L185.75,218.28 L186.12,218.28 L186.50,218.28 L186.88,218.28 L187.25,218.28 L187.63,218.28 L188.01,218.28 L188.39,218.28 L188.76,218.28 L189.14,218.28 L189.52,218.28 L189.90,218.28 L190.27,218.28 L190.65,218.28 L191.03,218.28 L191.40,218.28 L191.78,218.28 L192.16,218.28 L192.54,218.28 L192.91,218.28 L193.29,218.29 L193.67,218.29 L194.04,218.29 L194.42,218.29 L194.80,218.29 L195.18,218.29 L195.55,218.29 L195.93,218.29 L196.31,218.29 L196.69,218.29 L197.06,218.29 L197.44,218.29 L197.82,218.29 L198.19,218.29 L198.57,218.29 L198.95,218.29 L199.33,218.29 L199.70,218.29 L200.08,218.29 L200.46,218.29 L200.84,218.29 L201.21,218.29 L201.59,218.29 L201.97,218.29 L202.34,218.29 L202.72,218.29 L203.10,218.29 L203.48,218.29 L203.85,218.29 L204.23,218.29 L204.61,218.29 L204.99,218.29 L205.36,218.29 L205.74,218.29 L206.12,218.29 L206.49,218.29 L206.87,218.29 L207.25,218.29 L207.63,218.29 L208.00,218.29 L208.38,218.29 L208.76,218.29 L209.13,218.29 L209.51,218.29 L209.89,218.29 L210.27,218.29 L210.64,218.29 L211.02,218.29 L211.40,218.29 L211.78,218.29 L212.15,218.29 L212.53,218.29 L212.91,218.29 L213.28,218.29 L213.66,218.29 L214.04,218.29 L214.42,218.29 L214.79,218.29 L215.17,218.29 L215.55,218.29 L215.93,218.29 L216.30,218.29 L216.68,218.29 L217.06,218.29 L217.43,218.29 L217.81,218.29 L218.19,218.29 L218.57,218.29 L218.94,218.29 L219.32,218.29 L219.70,218.29 L220.08,218.29 L220.45,218.29 L220.83,218.29 L221.21,218.29 L221.58,218.29 L221.96,218.29 L222.34,218.29 L222.72,218.29 L223.09,218.29 L223.47,218.29 L223.85,218.29 L224.22,218.29 L224.60,218.29 L224.98,218.29 L225.36,218.29 L225.73,218.29 L226.11,218.29 L226.49,218.29 L226.87,218.29 L227.24,218.29 L227.62,218.29 L228.00,218.29 L228.37,218.29 L228.75,218.29 L229.13,218.29 L229.51,218.29 L229.88,218.29 L230.26,218.29 L230.64,218.29 L231.02,218.29 L231.39,218.29 L231.77,218.29 L232.15,218.29 L232.52,218.29 L232.90,218.29 L233.28,218.29 L233.66,218.29 L234.03,218.30 L234.41,218.30 L234.79,218.30 L235.17,218.30 L235.54,218.30 L235.92,218.30 L236.30,218.30 L236.67,218.30 L237.05,218.30 L237.43,218.30 L237.81,218.30 L238.18,218.30 L238.56,218.30 L238.94,218.30 L239.31,218.30 L239.69,218.30 L240.07,218.30 L240.45,218.30 L240.82,218.30 L241.20,218.30 L241.58,218.30 L241.96,218.30 L242.33,218.30 L242.71,218.30 L243.09,218.30 L243.46,218.30 L243.84,218.30 L244.22,218.30 L244.60,218.30 L244.97,218.30 L245.35,218.30 L245.73,218.30 L246.11,218.30 L246.48,218.30 L246.86,218.30 L247.24,218.30 L247.61,218.30 L247.99,218.30 L248.37,218.30 L248.75,218.30 L249.12,218.30 L249.50,218.30 L249.88,218.30 L250.26,218.30 L250.63,218.30 L251.01,218.30 L251.39,218.30 L251.76,218.30 L252.14,218.30 L252.52,218.30 L252.90,218.30 L253.27,218.30 L253.65,218.30 L254.03,218.30 L254.40,218.30 L254.78,218.30 L255.16,218.30 L255.54,218.30 L255.91,218.30 L256.29,218.30 L256.67,218.30 L257.05,218.30 L257.42,218.30 L257.80,218.30 L258.18,218.30 L258.55,218.30 L258.93,218.30 L259.31,218.30 L259.69,218.30 L260.06,218.30 L260.44,218.30 L260.82,218.30 L261.20,218.30 L261.57,218.30 L261.95,218.30 L262.33,218.30 L262.70,218.30 L263.08,218.30 L263.46,218.30 L263.84,218.30 L264.21,218.30 L264.59,218.30 L264.97,218.30 L265.35,218.30 L265.72,218.30 L266.10,218.30 L266.48,218.30 L266.85,218.30 L267.23,218.30 L267.61,218.30 L267.99,218.30 L268.36,218.30 L268.74,218.30 L269.12,218.30 L269.50,218.30 L269.87,218.30 L270.25,218.30 L270.63,218.30 L271.00,218.30 L271.38,218.30 L271.76,218.30 L272.14,218.30 L272.51,218.30 L272.89,218.30 L273.27,218.30 L273.64,218.30 L274.02,218.30 L274.40,218.30 L274.78,218.30 L275.15,218.30 L275.53,218.30 L275.91,218.30 L276.29,218.30 L276.66,218.30 L277.04,218.30 L277.42,218.30 L277.79,218.30 L278.17,218.30 L278.55,218.30 L278.93,218.30 L279.30,218.30 L279.68,218.30 L280.06,218.30 L280.44,218.30 L280.81,218.30 L281.19,218.30 L281.57,218.30 L281.94,218.30 L282.32,218.30 L282.70,218.30 L283.08,218.30 L283.45,218.30 L283.83,218.30 L284.21,218.30 L284.58,218.30 L284.96,218.30 L285.34,218.30 L285.72,218.30 L286.09,218.30 L286.47,218.30 L286.85,218.30 L287.23,218.30 L287.60,218.30 L287.98,218.30 L288.36,218.30 L288.73,218.30 L289.11,218.30 L289.49,218.30 L289.87,218.30 L290.24,218.30 L290.62,218.30 L291.00,218.30 L291.38,218.30 L291.75,218.30 L292.13,218.30 L292.51,218.30 L292.88,218.30 L293.26,218.30 L293.64,218.30 L294.02,218.30 L294.39,218.30 L294.77,218.30 L295.15,218.30 L295.53,218.30 L295.90,218.30 L296.28,218.30 L296.66,218.30 L297.03,218.30 L297.41,218.30 L297.79,218.30 L298.17,218.30 L298.54,218.30 L298.92,218.30 L299.30,218.30 L299.68,218.30 L300.05,218.30 L300.43,218.30 L300.81,218.30 L301.18,218.30 L301.56,218.30 L301.94,218.30 L302.32,218.30 L302.69,218.30 L303.07,218.30 L303.45,218.30 L303.82,218.30 L304.20,218.30 L304.58,218.30 L304.96,218.30 L305.33,218.30 L305.71,218.30 L306.09,218.30 L306.47,218.30 L306.84,218.30 L307.22,218.30 L307.60,218.30 L307.97,218.30 L308.35,218.30 L308.73,218.30 L309.11,218.30 L309.48,218.30 L309.86,218.30 L310.24,218.30 L310.62,218.30 L310.99,218.30 L311.37,218.30 L311.75,218.30 L312.12,218.30 L312.50,218.30 L312.88,218.30 L313.26,218.30 L313.63,218.30 L314.01,218.30 L314.39,218.30 L314.76,218.30 L315.14,218.30 L315.52,218.30 L315.90,218.30 L316.27,218.30 L316.65,218.30 L317.03,218.30 L317.41,218.30 L317.78,218.30 L318.16,218.30 L318.54,218.30 L318.91,218.30 L319.29,218.30 L319.67,218.30 L320.05,218.30 L320.42,218.30 L320.80,218.30 L321.18,218.30 L321.56,218.30 L321.93,218.30 L322.31,218.30 L322.69,218.30 L323.06,218.30 L323.44,218.30 L323.82,218.30 L324.20,218.30 L324.57,218.30 L324.95,218.30 L325.33,218.30 L325.71,218.30 L326.08,218.30 L326.46,218.30 L326.84,218.30 L327.21,218.30 L327.59,218.30 L327.97,218.30 L328.35,218.30 L328.72,218.30 L329.10,218.30 L329.48,218.30 L329.86,218.30 L330.23,218.30 L330.61,218.30 L330.99,218.30 L331.36,218.30 L331.74,218.30 L332.12,218.30 L332.50,218.30 L332.87,218.30 L333.25,218.30 L333.63,218.30 L334.00,218.30 L334.38,218.30 L334.76,218.30 L335.14,218.30 L335.51,218.30 L335.89,218.30 L336.27,218.30 L336.65,218.30 L337.02,218.30 L337.40,218.30" fill="none" stroke="#0000ff" stroke-width="1.65" stroke-linejoin="round" stroke-linecap="square" stroke-dasharray="1.1500 3.9065"/>
</g>
<text x="35.60" y="238.40" font-size="13.7" font-weight="bold" text-anchor="middle" stroke="#000" stroke-width="0.15">0</text>
<text x="111.05" y="238.40" font-size="13.7" font-weight="bold" text-anchor="middle" stroke="#000" stroke-width="0.15">25</text>
<text x="186.50" y="238.40" font-size="13.7" font-weight="bold" text-anchor="middle" stroke="#000" stroke-width="0.15">50</text>
<text x="261.95" y="238.40" font-size="13.7" font-weight="bold" text-anchor="middle" stroke="#000" stroke-width="0.15">75</text>
<text x="337.40" y="238.40" font-size="13.7" font-weight="bold" text-anchor="middle" stroke="#000" stroke-width="0.15">100</text>
<text x="25.90" y="42.40" font-size="13.7" font-weight="bold" text-anchor="end" stroke="#000" stroke-width="0.15">1</text>
<text x="25.90" y="223.20" font-size="13.7" font-weight="bold" text-anchor="end" stroke="#000" stroke-width="0.15">0</text>
<text x="186.80" y="259.30" font-size="13.7" font-weight="bold" text-anchor="middle" stroke="#000" stroke-width="0.15">r (nm)</text>
<text x="10.10" y="125.00" font-size="13.7" font-weight="bold" text-anchor="middle" transform="rotate(-90 10.10 125.00)" stroke="#000" stroke-width="0.15">loss (arb. units)</text>
<text x="22.70" y="17.10" font-size="22.4">(</text>
<text transform="translate(31.85 17.60) scale(1.065 1)" font-size="21.4">a</text>
<text x="47.57" y="17.10" font-size="22.4">)</text>
<line x1="79.80" y1="37.65" x2="111.50" y2="37.65" stroke="#000" stroke-width="1.8"/>
<line x1="79.80" y1="55.6" x2="111.00" y2="55.6" stroke="#000" stroke-width="1.6" stroke-dasharray="6.0 1.77"/>
<line x1="79.80" y1="73.6" x2="111.50" y2="73.6" stroke="#000" stroke-width="1.6" stroke-dasharray="3.0 1.77"/>
<text x="125.50" y="42.20" font-size="13.65" font-weight="normal" text-anchor="start" stroke="#000" stroke-width="0.22">r&amp;z−losses</text>
<text x="124.30" y="60.30" font-size="13.65" font-weight="normal" text-anchor="start" stroke="#000" stroke-width="0.22">r−losses</text>
<text x="123.30" y="78.30" font-size="13.65" font-weight="normal" text-anchor="start" stroke="#000" stroke-width="0.22">z−losses</text>
<text x="79.20" y="97.90" font-size="13.65" font-weight="normal" text-anchor="start" stroke="#000" stroke-width="0.22">red</text>
<path d="M98.90,93.60 H108.10" fill="none" stroke="#000" stroke-width="1"/>
<path d="M105.10,90.80 Q106.50,92.70 108.50,93.60 Q106.50,94.50 105.10,96.40" fill="none" stroke="#000" stroke-width="1.35" stroke-linecap="round" stroke-linejoin="round"/>
<text x="110.90" y="97.90" font-size="13.65" font-weight="normal" text-anchor="start" stroke="#000" stroke-width="0.22">1×10</text>
<text x="142.00" y="92.70" font-size="9.8" font-weight="normal" text-anchor="start" stroke="#000" stroke-width="0.22">7</text>
<text x="148.10" y="97.90" font-size="13.65" font-weight="normal" text-anchor="start" stroke="#000" stroke-width="0.22">S/m</text>
<text x="79.20" y="116.00" font-size="13.65" font-weight="normal" text-anchor="start" stroke="#000" stroke-width="0.22">blue</text>
<path d="M104.40,111.70 H114.10" fill="none" stroke="#000" stroke-width="1"/>
<path d="M111.10,108.90 Q112.50,110.80 114.50,111.70 Q112.50,112.60 111.10,114.50" fill="none" stroke="#000" stroke-width="1.35" stroke-linecap="round" stroke-linejoin="round"/>
<text x="117.00" y="116.00" font-size="13.65" font-weight="normal" text-anchor="start" stroke="#000" stroke-width="0.22">5×10</text>
<text x="148.00" y="110.80" font-size="9.8" font-weight="normal" text-anchor="start" stroke="#000" stroke-width="0.22">7</text>
<text x="154.30" y="116.00" font-size="13.65" font-weight="normal" text-anchor="start" stroke="#000" stroke-width="0.22">S/m</text>
<rect x="406.00" y="28.00" width="313.75" height="193.80" fill="none" stroke="#989898" stroke-width="1"/>
<line x1="411.75" y1="221.80" x2="411.75" y2="218.80" stroke="#666666" stroke-width="0.7"/>
<line x1="487.20" y1="221.80" x2="487.20" y2="218.80" stroke="#666666" stroke-width="0.7"/>
<line x1="562.65" y1="221.80" x2="562.65" y2="218.80" stroke="#666666" stroke-width="0.7"/>
<line x1="638.10" y1="221.80" x2="638.10" y2="218.80" stroke="#666666" stroke-width="0.7"/>
<line x1="713.55" y1="221.80" x2="713.55" y2="218.80" stroke="#666666" stroke-width="0.7"/>
<line x1="406.00" y1="218.30" x2="409.00" y2="218.30" stroke="#666666" stroke-width="0.7"/>
<line x1="406.00" y1="37.50" x2="409.00" y2="37.50" stroke="#666666" stroke-width="0.7"/>
<clipPath id="clipb"><rect x="406.00" y="28.00" width="313.75" height="193.80"/></clipPath>
<g clip-path="url(#clipb)">
<path d="M411.75,37.50 L412.13,37.53 L412.50,37.64 L412.88,37.81 L413.26,38.04 L413.64,38.34 L414.01,38.70 L414.39,39.11 L414.77,39.58 L415.15,40.09 L415.52,40.64 L415.90,41.24 L416.28,41.87 L416.65,42.53 L417.03,43.22 L417.41,43.94 L417.79,44.69 L418.16,45.45 L418.54,46.24 L418.92,47.04 L419.30,47.87 L419.67,48.72 L420.05,49.58 L420.43,50.47 L420.80,51.38 L421.18,52.30 L421.56,53.25 L421.94,54.22 L422.31,55.21 L422.69,56.22 L423.07,57.25 L423.44,58.29 L423.82,59.36 L424.20,60.44 L424.58,61.54 L424.95,62.66 L425.33,63.78 L425.71,64.92 L426.09,66.07 L426.46,67.22 L426.84,68.38 L427.22,69.55 L427.59,70.71 L427.97,71.88 L428.35,73.05 L428.73,74.22 L429.10,75.38 L429.48,76.54 L429.86,77.69 L430.24,78.83 L430.61,79.96 L430.99,81.09 L431.37,82.20 L431.74,83.31 L432.12,84.40 L432.50,85.48 L432.88,86.54 L433.25,87.59 L433.63,88.63 L434.01,89.65 L434.38,90.65 L434.76,91.64 L435.14,92.62 L435.52,93.58 L435.89,94.52 L436.27,95.45 L436.65,96.36 L437.03,97.26 L437.40,98.14 L437.78,99.00 L438.16,99.85 L438.53,100.68 L438.91,101.49 L439.29,102.29 L439.67,103.08 L440.04,103.85 L440.42,104.60 L440.80,105.34 L441.18,106.07 L441.55,106.78 L441.93,107.47 L442.31,108.16 L442.68,108.83 L443.06,109.48 L443.44,110.13 L443.82,110.76 L444.19,111.38 L444.57,111.98 L444.95,112.58 L445.33,113.16 L445.70,113.74 L446.08,114.30 L446.46,114.85 L446.83,115.39 L447.21,115.92 L447.59,116.44 L447.97,116.95 L448.34,117.45 L448.72,117.95 L449.10,118.43 L449.48,118.91 L449.85,119.38 L450.23,119.84 L450.61,120.29 L450.98,120.74 L451.36,121.18 L451.74,121.61 L452.12,122.03 L452.49,122.45 L452.87,122.87 L453.25,123.27 L453.62,123.67 L454.00,124.07 L454.38,124.46 L454.76,124.84 L455.13,125.22 L455.51,125.60 L455.89,125.97 L456.27,126.33 L456.64,126.69 L457.02,127.05 L457.40,127.40 L457.77,127.75 L458.15,128.10 L458.53,128.44 L458.91,128.78 L459.28,129.11 L459.66,129.44 L460.04,129.77 L460.42,130.10 L460.79,130.42 L461.17,130.74 L461.55,131.06 L461.92,131.37 L462.30,131.68 L462.68,131.99 L463.06,132.30 L463.43,132.60 L463.81,132.90 L464.19,133.20 L464.56,133.50 L464.94,133.80 L465.32,134.09 L465.70,134.39 L466.07,134.68 L466.45,134.96 L466.83,135.25 L467.21,135.54 L467.58,135.82 L467.96,136.10 L468.34,136.38 L468.71,136.66 L469.09,136.94 L469.47,137.22 L469.85,137.49 L470.22,137.77 L470.60,138.04 L470.98,138.31 L471.36,138.58 L471.73,138.85 L472.11,139.12 L472.49,139.39 L472.86,139.65 L473.24,139.92 L473.62,140.18 L474.00,140.45 L474.37,140.71 L474.75,140.97 L475.13,141.23 L475.51,141.49 L475.88,141.75 L476.26,142.01 L476.64,142.26 L477.01,142.52 L477.39,142.77 L477.77,143.03 L478.15,143.28 L478.52,143.53 L478.90,143.79 L479.28,144.04 L479.65,144.29 L480.03,144.54 L480.41,144.79 L480.79,145.03 L481.16,145.28 L481.54,145.53 L481.92,145.77 L482.30,146.02 L482.67,146.26 L483.05,146.51 L483.43,146.75 L483.80,146.99 L484.18,147.23 L484.56,147.48 L484.94,147.72 L485.31,147.96 L485.69,148.19 L486.07,148.43 L486.45,148.67 L486.82,148.91 L487.20,149.14 L487.58,149.38 L487.95,149.61 L488.33,149.85 L488.71,150.08 L489.09,150.32 L489.46,150.55 L489.84,150.78 L490.22,151.01 L490.60,151.24 L490.97,151.47 L491.35,151.70 L491.73,151.93 L492.10,152.16 L492.48,152.38 L492.86,152.61 L493.24,152.84 L493.61,153.06 L493.99,153.28 L494.37,153.51 L494.75,153.73 L495.12,153.95 L495.50,154.18 L495.88,154.40 L496.25,154.62 L496.63,154.84 L497.01,155.06 L497.39,155.27 L497.76,155.49 L498.14,155.71 L498.52,155.92 L498.89,156.14 L499.27,156.36 L499.65,156.57 L500.03,156.78 L500.40,157.00 L500.78,157.21 L501.16,157.42 L501.54,157.63 L501.91,157.84 L502.29,158.05 L502.67,158.26 L503.04,158.47 L503.42,158.67 L503.80,158.88 L504.18,159.09 L504.55,159.29 L504.93,159.50 L505.31,159.70 L505.69,159.91 L506.06,160.11 L506.44,160.31 L506.82,160.51 L507.19,160.71 L507.57,160.91 L507.95,161.11 L508.33,161.31 L508.70,161.51 L509.08,161.70 L509.46,161.90 L509.83,162.10 L510.21,162.29 L510.59,162.49 L510.97,162.68 L511.34,162.87 L511.72,163.06 L512.10,163.26 L512.48,163.45 L512.85,163.64 L513.23,163.83 L513.61,164.02 L513.98,164.20 L514.36,164.39 L514.74,164.58 L515.12,164.77 L515.49,164.95 L515.87,165.14 L516.25,165.32 L516.63,165.50 L517.00,165.69 L517.38,165.87 L517.76,166.05 L518.13,166.23 L518.51,166.41 L518.89,166.59 L519.27,166.77 L519.64,166.95 L520.02,167.13 L520.40,167.30 L520.78,167.48 L521.15,167.66 L521.53,167.83 L521.91,168.01 L522.28,168.18 L522.66,168.35 L523.04,168.53 L523.42,168.70 L523.79,168.87 L524.17,169.04 L524.55,169.21 L524.92,169.38 L525.30,169.55 L525.68,169.72 L526.06,169.88 L526.43,170.05 L526.81,170.22 L527.19,170.38 L527.57,170.55 L527.94,170.71 L528.32,170.88 L528.70,171.04 L529.07,171.21 L529.45,171.37 L529.83,171.53 L530.21,171.69 L530.58,171.85 L530.96,172.01 L531.34,172.17 L531.72,172.33 L532.09,172.49 L532.47,172.65 L532.85,172.80 L533.22,172.96 L533.60,173.12 L533.98,173.27 L534.36,173.43 L534.73,173.58 L535.11,173.74 L535.49,173.89 L535.87,174.04 L536.24,174.20 L536.62,174.35 L537.00,174.50 L537.37,174.65 L537.75,174.80 L538.13,174.95 L538.51,175.10 L538.88,175.25 L539.26,175.40 L539.64,175.55 L540.01,175.69 L540.39,175.84 L540.77,175.99 L541.15,176.13 L541.52,176.28 L541.90,176.42 L542.28,176.57 L542.66,176.71 L543.03,176.86 L543.41,177.00 L543.79,177.14 L544.16,177.29 L544.54,177.43 L544.92,177.57 L545.30,177.71 L545.67,177.85 L546.05,177.99 L546.43,178.13 L546.81,178.27 L547.18,178.41 L547.56,178.55 L547.94,178.68 L548.31,178.82 L548.69,178.96 L549.07,179.09 L549.45,179.23 L549.82,179.37 L550.20,179.50 L550.58,179.64 L550.96,179.77 L551.33,179.90 L551.71,180.04 L552.09,180.17 L552.46,180.30 L552.84,180.43 L553.22,180.57 L553.60,180.70 L553.97,180.83 L554.35,180.96 L554.73,181.09 L555.11,181.22 L555.48,181.35 L555.86,181.48 L556.24,181.60 L556.61,181.73 L556.99,181.86 L557.37,181.99 L557.75,182.11 L558.12,182.24 L558.50,182.37 L558.88,182.49 L559.25,182.62 L559.63,182.74 L560.01,182.87 L560.39,182.99 L560.76,183.11 L561.14,183.24 L561.52,183.36 L561.90,183.48 L562.27,183.60 L562.65,183.72 L563.03,183.84 L563.40,183.96 L563.78,184.08 L564.16,184.20 L564.54,184.32 L564.91,184.44 L565.29,184.56 L565.67,184.68 L566.05,184.80 L566.42,184.91 L566.80,185.03 L567.18,185.15 L567.55,185.26 L567.93,185.38 L568.31,185.49 L568.69,185.61 L569.06,185.72 L569.44,185.84 L569.82,185.95 L570.19,186.07 L570.57,186.18 L570.95,186.29 L571.33,186.40 L571.70,186.51 L572.08,186.63 L572.46,186.74 L572.84,186.85 L573.21,186.96 L573.59,187.07 L573.97,187.17 L574.34,187.28 L574.72,187.39 L575.10,187.50 L575.48,187.61 L575.85,187.71 L576.23,187.82 L576.61,187.93 L576.99,188.03 L577.36,188.14 L577.74,188.24 L578.12,188.35 L578.49,188.45 L578.87,188.56 L579.25,188.66 L579.63,188.76 L580.00,188.87 L580.38,188.97 L580.76,189.07 L581.14,189.17 L581.51,189.27 L581.89,189.37 L582.27,189.47 L582.64,189.57 L583.02,189.67 L583.40,189.77 L583.78,189.87 L584.15,189.97 L584.53,190.06 L584.91,190.16 L585.28,190.26 L585.66,190.35 L586.04,190.45 L586.42,190.55 L586.79,190.64 L587.17,190.74 L587.55,190.83 L587.93,190.92 L588.30,191.02 L588.68,191.11 L589.06,191.20 L589.43,191.30 L589.81,191.39 L590.19,191.48 L590.57,191.57 L590.94,191.66 L591.32,191.75 L591.70,191.84 L592.08,191.93 L592.45,192.02 L592.83,192.11 L593.21,192.20 L593.58,192.29 L593.96,192.37 L594.34,192.46 L594.72,192.55 L595.09,192.63 L595.47,192.72 L595.85,192.80 L596.23,192.89 L596.60,192.97 L596.98,193.06 L597.36,193.14 L597.73,193.23 L598.11,193.31 L598.49,193.39 L598.87,193.48 L599.24,193.56 L599.62,193.64 L600.00,193.72 L600.38,193.80 L600.75,193.88 L601.13,193.96 L601.51,194.04 L601.88,194.12 L602.26,194.20 L602.64,194.28 L603.02,194.36 L603.39,194.44 L603.77,194.52 L604.15,194.59 L604.52,194.67 L604.90,194.75 L605.28,194.82 L605.66,194.90 L606.03,194.98 L606.41,195.05 L606.79,195.13 L607.17,195.20 L607.54,195.27 L607.92,195.35 L608.30,195.42 L608.67,195.50 L609.05,195.57 L609.43,195.64 L609.81,195.71 L610.18,195.79 L610.56,195.86 L610.94,195.93 L611.32,196.00 L611.69,196.07 L612.07,196.14 L612.45,196.21 L612.82,196.28 L613.20,196.35 L613.58,196.42 L613.96,196.49 L614.33,196.56 L614.71,196.62 L615.09,196.69 L615.46,196.76 L615.84,196.83 L616.22,196.89 L616.60,196.96 L616.97,197.03 L617.35,197.09 L617.73,197.16 L618.11,197.22 L618.48,197.29 L618.86,197.35 L619.24,197.42 L619.61,197.48 L619.99,197.55 L620.37,197.61 L620.75,197.67 L621.12,197.74 L621.50,197.80 L621.88,197.86 L622.26,197.93 L622.63,197.99 L623.01,198.05 L623.39,198.11 L623.76,198.17 L624.14,198.23 L624.52,198.29 L624.90,198.35 L625.27,198.42 L625.65,198.48 L626.03,198.53 L626.41,198.59 L626.78,198.65 L627.16,198.71 L627.54,198.77 L627.91,198.83 L628.29,198.89 L628.67,198.95 L629.05,199.00 L629.42,199.06 L629.80,199.12 L630.18,199.18 L630.55,199.23 L630.93,199.29 L631.31,199.34 L631.69,199.40 L632.06,199.46 L632.44,199.51 L632.82,199.57 L633.20,199.62 L633.57,199.68 L633.95,199.73 L634.33,199.79 L634.70,199.84 L635.08,199.89 L635.46,199.95 L635.84,200.00 L636.21,200.06 L636.59,200.11 L636.97,200.16 L637.35,200.21 L637.72,200.27 L638.10,200.32 L638.48,200.37 L638.85,200.42 L639.23,200.47 L639.61,200.53 L639.99,200.58 L640.36,200.63 L640.74,200.68 L641.12,200.73 L641.50,200.78 L641.87,200.83 L642.25,200.88 L642.63,200.93 L643.00,200.98 L643.38,201.03 L643.76,201.08 L644.14,201.13 L644.51,201.18 L644.89,201.22 L645.27,201.27 L645.64,201.32 L646.02,201.37 L646.40,201.42 L646.78,201.46 L647.15,201.51 L647.53,201.56 L647.91,201.61 L648.29,201.65 L648.66,201.70 L649.04,201.75 L649.42,201.79 L649.79,201.84 L650.17,201.89 L650.55,201.93 L650.93,201.98 L651.30,202.02 L651.68,202.07 L652.06,202.11 L652.44,202.16 L652.81,202.20 L653.19,202.25 L653.57,202.29 L653.94,202.34 L654.32,202.38 L654.70,202.42 L655.08,202.47 L655.45,202.51 L655.83,202.55 L656.21,202.60 L656.59,202.64 L656.96,202.68 L657.34,202.73 L657.72,202.77 L658.09,202.81 L658.47,202.85 L658.85,202.90 L659.23,202.94 L659.60,202.98 L659.98,203.02 L660.36,203.06 L660.74,203.11 L661.11,203.15 L661.49,203.19 L661.87,203.23 L662.24,203.27 L662.62,203.31 L663.00,203.35 L663.38,203.39 L663.75,203.43 L664.13,203.47 L664.51,203.51 L664.88,203.55 L665.26,203.59 L665.64,203.63 L666.02,203.67 L666.39,203.71 L666.77,203.75 L667.15,203.79 L667.53,203.82 L667.90,203.86 L668.28,203.90 L668.66,203.94 L669.03,203.98 L669.41,204.02 L669.79,204.05 L670.17,204.09 L670.54,204.13 L670.92,204.17 L671.30,204.20 L671.68,204.24 L672.05,204.28 L672.43,204.32 L672.81,204.35 L673.18,204.39 L673.56,204.43 L673.94,204.46 L674.32,204.50 L674.69,204.53 L675.07,204.57 L675.45,204.61 L675.83,204.64 L676.20,204.68 L676.58,204.71 L676.96,204.75 L677.33,204.78 L677.71,204.82 L678.09,204.85 L678.47,204.89 L678.84,204.92 L679.22,204.96 L679.60,204.99 L679.97,205.03 L680.35,205.06 L680.73,205.09 L681.11,205.13 L681.48,205.16 L681.86,205.20 L682.24,205.23 L682.62,205.26 L682.99,205.30 L683.37,205.33 L683.75,205.36 L684.12,205.40 L684.50,205.43 L684.88,205.46 L685.26,205.49 L685.63,205.53 L686.01,205.56 L686.39,205.59 L686.77,205.62 L687.14,205.66 L687.52,205.69 L687.90,205.72 L688.27,205.75 L688.65,205.78 L689.03,205.82 L689.41,205.85 L689.78,205.88 L690.16,205.91 L690.54,205.94 L690.91,205.97 L691.29,206.00 L691.67,206.03 L692.05,206.06 L692.42,206.09 L692.80,206.13 L693.18,206.16 L693.56,206.19 L693.93,206.22 L694.31,206.25 L694.69,206.28 L695.06,206.31 L695.44,206.34 L695.82,206.37 L696.20,206.40 L696.57,206.42 L696.95,206.45 L697.33,206.48 L697.71,206.51 L698.08,206.54 L698.46,206.57 L698.84,206.60 L699.21,206.63 L699.59,206.66 L699.97,206.69 L700.35,206.71 L700.72,206.74 L701.10,206.77 L701.48,206.80 L701.86,206.83 L702.23,206.85 L702.61,206.88 L702.99,206.91 L703.36,206.94 L703.74,206.97 L704.12,206.99 L704.50,207.02 L704.87,207.05 L705.25,207.08 L705.63,207.10 L706.00,207.13 L706.38,207.16 L706.76,207.18 L707.14,207.21 L707.51,207.24 L707.89,207.26 L708.27,207.29 L708.65,207.32 L709.02,207.34 L709.40,207.37 L709.78,207.40 L710.15,207.42 L710.53,207.45 L710.91,207.47 L711.29,207.50 L711.66,207.52 L712.04,207.55 L712.42,207.58 L712.80,207.60 L713.17,207.63 L713.55,207.65" fill="none" stroke="#ff0000" stroke-width="2.15" stroke-linejoin="round" stroke-linecap="square"/>
<path d="M411.75,191.36 L412.13,191.36 L412.50,191.36 L412.88,191.36 L413.26,191.35 L413.64,191.35 L414.01,191.34 L414.39,191.33 L414.77,191.32 L415.15,191.31 L415.52,191.30 L415.90,191.29 L416.28,191.27 L416.65,191.26 L417.03,191.24 L417.41,191.22 L417.79,191.20 L418.16,191.18 L418.54,191.16 L418.92,191.14 L419.30,191.12 L419.67,191.09 L420.05,191.07 L420.43,191.04 L420.80,191.01 L421.18,190.98 L421.56,190.95 L421.94,190.92 L422.31,190.89 L422.69,190.85 L423.07,190.82 L423.44,190.78 L423.82,190.75 L424.20,190.71 L424.58,190.67 L424.95,190.63 L425.33,190.59 L425.71,190.55 L426.09,190.50 L426.46,190.46 L426.84,190.42 L427.22,190.37 L427.59,190.32 L427.97,190.28 L428.35,190.23 L428.73,190.18 L429.10,190.13 L429.48,190.08 L429.86,190.03 L430.24,189.97 L430.61,189.92 L430.99,189.87 L431.37,189.81 L431.74,189.76 L432.12,189.70 L432.50,189.65 L432.88,189.59 L433.25,189.53 L433.63,189.47 L434.01,189.42 L434.38,189.36 L434.76,189.30 L435.14,189.24 L435.52,189.18 L435.89,189.12 L436.27,189.05 L436.65,188.99 L437.03,188.93 L437.40,188.87 L437.78,188.81 L438.16,188.74 L438.53,188.68 L438.91,188.62 L439.29,188.56 L439.67,188.49 L440.04,188.43 L440.42,188.36 L440.80,188.30 L441.18,188.24 L441.55,188.17 L441.93,188.11 L442.31,188.04 L442.68,187.98 L443.06,187.92 L443.44,187.85 L443.82,187.79 L444.19,187.72 L444.57,187.66 L444.95,187.60 L445.33,187.53 L445.70,187.47 L446.08,187.41 L446.46,187.34 L446.83,187.28 L447.21,187.22 L447.59,187.15 L447.97,187.09 L448.34,187.03 L448.72,186.97 L449.10,186.91 L449.48,186.84 L449.85,186.78 L450.23,186.72 L450.61,186.66 L450.98,186.60 L451.36,186.54 L451.74,186.48 L452.12,186.42 L452.49,186.36 L452.87,186.30 L453.25,186.24 L453.62,186.18 L454.00,186.12 L454.38,186.06 L454.76,186.00 L455.13,185.94 L455.51,185.88 L455.89,185.82 L456.27,185.77 L456.64,185.71 L457.02,185.65 L457.40,185.59 L457.77,185.54 L458.15,185.48 L458.53,185.42 L458.91,185.37 L459.28,185.31 L459.66,185.25 L460.04,185.20 L460.42,185.14 L460.79,185.09 L461.17,185.03 L461.55,184.97 L461.92,184.92 L462.30,184.86 L462.68,184.81 L463.06,184.75 L463.43,184.70 L463.81,184.65 L464.19,184.59 L464.56,184.54 L464.94,184.48 L465.32,184.43 L465.70,184.38 L466.07,184.32 L466.45,184.27 L466.83,184.22 L467.21,184.17 L467.58,184.11 L467.96,184.06 L468.34,184.01 L468.71,183.96 L469.09,183.91 L469.47,183.86 L469.85,183.81 L470.22,183.76 L470.60,183.71 L470.98,183.66 L471.36,183.61 L471.73,183.56 L472.11,183.51 L472.49,183.47 L472.86,183.42 L473.24,183.37 L473.62,183.33 L474.00,183.28 L474.37,183.23 L474.75,183.19 L475.13,183.15 L475.51,183.10 L475.88,183.06 L476.26,183.02 L476.64,182.97 L477.01,182.93 L477.39,182.89 L477.77,182.85 L478.15,182.81 L478.52,182.77 L478.90,182.74 L479.28,182.70 L479.65,182.66 L480.03,182.63 L480.41,182.59 L480.79,182.56 L481.16,182.53 L481.54,182.49 L481.92,182.46 L482.30,182.43 L482.67,182.40 L483.05,182.37 L483.43,182.35 L483.80,182.32 L484.18,182.29 L484.56,182.27 L484.94,182.24 L485.31,182.22 L485.69,182.20 L486.07,182.18 L486.45,182.16 L486.82,182.14 L487.20,182.12 L487.58,182.10 L487.95,182.09 L488.33,182.07 L488.71,182.06 L489.09,182.05 L489.46,182.03 L489.84,182.02 L490.22,182.01 L490.60,182.01 L490.97,182.00 L491.35,181.99 L491.73,181.99 L492.10,181.98 L492.48,181.98 L492.86,181.98 L493.24,181.98 L493.61,181.98 L493.99,181.98 L494.37,181.98 L494.75,181.98 L495.12,181.99 L495.50,181.99 L495.88,182.00 L496.25,182.01 L496.63,182.01 L497.01,182.02 L497.39,182.03 L497.76,182.05 L498.14,182.06 L498.52,182.07 L498.89,182.09 L499.27,182.10 L499.65,182.12 L500.03,182.13 L500.40,182.15 L500.78,182.17 L501.16,182.19 L501.54,182.21 L501.91,182.24 L502.29,182.26 L502.67,182.28 L503.04,182.31 L503.42,182.33 L503.80,182.36 L504.18,182.38 L504.55,182.41 L504.93,182.44 L505.31,182.47 L505.69,182.50 L506.06,182.53 L506.44,182.56 L506.82,182.60 L507.19,182.63 L507.57,182.66 L507.95,182.70 L508.33,182.73 L508.70,182.77 L509.08,182.81 L509.46,182.84 L509.83,182.88 L510.21,182.92 L510.59,182.96 L510.97,183.00 L511.34,183.04 L511.72,183.08 L512.10,183.12 L512.48,183.16 L512.85,183.20 L513.23,183.25 L513.61,183.29 L513.98,183.33 L514.36,183.38 L514.74,183.42 L515.12,183.47 L515.49,183.52 L515.87,183.56 L516.25,183.61 L516.63,183.66 L517.00,183.70 L517.38,183.75 L517.76,183.80 L518.13,183.85 L518.51,183.90 L518.89,183.95 L519.27,184.00 L519.64,184.05 L520.02,184.10 L520.40,184.15 L520.78,184.20 L521.15,184.25 L521.53,184.30 L521.91,184.36 L522.28,184.41 L522.66,184.46 L523.04,184.52 L523.42,184.57 L523.79,184.62 L524.17,184.68 L524.55,184.73 L524.92,184.78 L525.30,184.84 L525.68,184.89 L526.06,184.95 L526.43,185.00 L526.81,185.06 L527.19,185.12 L527.57,185.17 L527.94,185.23 L528.32,185.28 L528.70,185.34 L529.07,185.40 L529.45,185.45 L529.83,185.51 L530.21,185.57 L530.58,185.62 L530.96,185.68 L531.34,185.74 L531.72,185.80 L532.09,185.85 L532.47,185.91 L532.85,185.97 L533.22,186.03 L533.60,186.09 L533.98,186.15 L534.36,186.20 L534.73,186.26 L535.11,186.32 L535.49,186.38 L535.87,186.44 L536.24,186.50 L536.62,186.56 L537.00,186.62 L537.37,186.67 L537.75,186.73 L538.13,186.79 L538.51,186.85 L538.88,186.91 L539.26,186.97 L539.64,187.03 L540.01,187.09 L540.39,187.15 L540.77,187.21 L541.15,187.27 L541.52,187.33 L541.90,187.39 L542.28,187.45 L542.66,187.51 L543.03,187.57 L543.41,187.63 L543.79,187.69 L544.16,187.75 L544.54,187.81 L544.92,187.87 L545.30,187.93 L545.67,187.99 L546.05,188.05 L546.43,188.11 L546.81,188.17 L547.18,188.23 L547.56,188.29 L547.94,188.35 L548.31,188.41 L548.69,188.47 L549.07,188.53 L549.45,188.59 L549.82,188.65 L550.20,188.71 L550.58,188.77 L550.96,188.83 L551.33,188.89 L551.71,188.95 L552.09,189.01 L552.46,189.07 L552.84,189.13 L553.22,189.19 L553.60,189.25 L553.97,189.31 L554.35,189.37 L554.73,189.43 L555.11,189.49 L555.48,189.55 L555.86,189.61 L556.24,189.67 L556.61,189.73 L556.99,189.79 L557.37,189.85 L557.75,189.91 L558.12,189.97 L558.50,190.03 L558.88,190.08 L559.25,190.14 L559.63,190.20 L560.01,190.26 L560.39,190.32 L560.76,190.38 L561.14,190.44 L561.52,190.50 L561.90,190.56 L562.27,190.62 L562.65,190.67 L563.03,190.73 L563.40,190.79 L563.78,190.85 L564.16,190.91 L564.54,190.97 L564.91,191.02 L565.29,191.08 L565.67,191.14 L566.05,191.20 L566.42,191.26 L566.80,191.32 L567.18,191.37 L567.55,191.43 L567.93,191.49 L568.31,191.55 L568.69,191.60 L569.06,191.66 L569.44,191.72 L569.82,191.78 L570.19,191.83 L570.57,191.89 L570.95,191.95 L571.33,192.00 L571.70,192.06 L572.08,192.12 L572.46,192.18 L572.84,192.23 L573.21,192.29 L573.59,192.34 L573.97,192.40 L574.34,192.46 L574.72,192.51 L575.10,192.57 L575.48,192.63 L575.85,192.68 L576.23,192.74 L576.61,192.79 L576.99,192.85 L577.36,192.90 L577.74,192.96 L578.12,193.02 L578.49,193.07 L578.87,193.13 L579.25,193.18 L579.63,193.24 L580.00,193.29 L580.38,193.35 L580.76,193.40 L581.14,193.46 L581.51,193.51 L581.89,193.56 L582.27,193.62 L582.64,193.67 L583.02,193.73 L583.40,193.78 L583.78,193.84 L584.15,193.89 L584.53,193.94 L584.91,194.00 L585.28,194.05 L585.66,194.10 L586.04,194.16 L586.42,194.21 L586.79,194.26 L587.17,194.32 L587.55,194.37 L587.93,194.42 L588.30,194.48 L588.68,194.53 L589.06,194.58 L589.43,194.63 L589.81,194.69 L590.19,194.74 L590.57,194.79 L590.94,194.84 L591.32,194.89 L591.70,194.95 L592.08,195.00 L592.45,195.05 L592.83,195.10 L593.21,195.15 L593.58,195.20 L593.96,195.26 L594.34,195.31 L594.72,195.36 L595.09,195.41 L595.47,195.46 L595.85,195.51 L596.23,195.56 L596.60,195.61 L596.98,195.66 L597.36,195.71 L597.73,195.76 L598.11,195.81 L598.49,195.86 L598.87,195.91 L599.24,195.96 L599.62,196.01 L600.00,196.06 L600.38,196.11 L600.75,196.16 L601.13,196.21 L601.51,196.26 L601.88,196.31 L602.26,196.36 L602.64,196.41 L603.02,196.46 L603.39,196.50 L603.77,196.55 L604.15,196.60 L604.52,196.65 L604.90,196.70 L605.28,196.75 L605.66,196.79 L606.03,196.84 L606.41,196.89 L606.79,196.94 L607.17,196.99 L607.54,197.03 L607.92,197.08 L608.30,197.13 L608.67,197.18 L609.05,197.22 L609.43,197.27 L609.81,197.32 L610.18,197.36 L610.56,197.41 L610.94,197.46 L611.32,197.50 L611.69,197.55 L612.07,197.60 L612.45,197.64 L612.82,197.69 L613.20,197.73 L613.58,197.78 L613.96,197.83 L614.33,197.87 L614.71,197.92 L615.09,197.96 L615.46,198.01 L615.84,198.05 L616.22,198.10 L616.60,198.14 L616.97,198.19 L617.35,198.23 L617.73,198.28 L618.11,198.32 L618.48,198.37 L618.86,198.41 L619.24,198.46 L619.61,198.50 L619.99,198.55 L620.37,198.59 L620.75,198.63 L621.12,198.68 L621.50,198.72 L621.88,198.77 L622.26,198.81 L622.63,198.85 L623.01,198.90 L623.39,198.94 L623.76,198.98 L624.14,199.03 L624.52,199.07 L624.90,199.11 L625.27,199.16 L625.65,199.20 L626.03,199.24 L626.41,199.28 L626.78,199.33 L627.16,199.37 L627.54,199.41 L627.91,199.45 L628.29,199.49 L628.67,199.54 L629.05,199.58 L629.42,199.62 L629.80,199.66 L630.18,199.70 L630.55,199.75 L630.93,199.79 L631.31,199.83 L631.69,199.87 L632.06,199.91 L632.44,199.95 L632.82,199.99 L633.20,200.03 L633.57,200.07 L633.95,200.11 L634.33,200.16 L634.70,200.20 L635.08,200.24 L635.46,200.28 L635.84,200.32 L636.21,200.36 L636.59,200.40 L636.97,200.44 L637.35,200.48 L637.72,200.52 L638.10,200.56 L638.48,200.60 L638.85,200.64 L639.23,200.67 L639.61,200.71 L639.99,200.75 L640.36,200.79 L640.74,200.83 L641.12,200.87 L641.50,200.91 L641.87,200.95 L642.25,200.99 L642.63,201.03 L643.00,201.06 L643.38,201.10 L643.76,201.14 L644.14,201.18 L644.51,201.22 L644.89,201.25 L645.27,201.29 L645.64,201.33 L646.02,201.37 L646.40,201.41 L646.78,201.44 L647.15,201.48 L647.53,201.52 L647.91,201.56 L648.29,201.59 L648.66,201.63 L649.04,201.67 L649.42,201.70 L649.79,201.74 L650.17,201.78 L650.55,201.82 L650.93,201.85 L651.30,201.89 L651.68,201.93 L652.06,201.96 L652.44,202.00 L652.81,202.03 L653.19,202.07 L653.57,202.11 L653.94,202.14 L654.32,202.18 L654.70,202.21 L655.08,202.25 L655.45,202.29 L655.83,202.32 L656.21,202.36 L656.59,202.39 L656.96,202.43 L657.34,202.46 L657.72,202.50 L658.09,202.53 L658.47,202.57 L658.85,202.60 L659.23,202.64 L659.60,202.67 L659.98,202.71 L660.36,202.74 L660.74,202.78 L661.11,202.81 L661.49,202.85 L661.87,202.88 L662.24,202.91 L662.62,202.95 L663.00,202.98 L663.38,203.02 L663.75,203.05 L664.13,203.08 L664.51,203.12 L664.88,203.15 L665.26,203.19 L665.64,203.22 L666.02,203.25 L666.39,203.29 L666.77,203.32 L667.15,203.35 L667.53,203.39 L667.90,203.42 L668.28,203.45 L668.66,203.48 L669.03,203.52 L669.41,203.55 L669.79,203.58 L670.17,203.62 L670.54,203.65 L670.92,203.68 L671.30,203.71 L671.68,203.75 L672.05,203.78 L672.43,203.81 L672.81,203.84 L673.18,203.87 L673.56,203.91 L673.94,203.94 L674.32,203.97 L674.69,204.00 L675.07,204.03 L675.45,204.06 L675.83,204.10 L676.20,204.13 L676.58,204.16 L676.96,204.19 L677.33,204.22 L677.71,204.25 L678.09,204.28 L678.47,204.32 L678.84,204.35 L679.22,204.38 L679.60,204.41 L679.97,204.44 L680.35,204.47 L680.73,204.50 L681.11,204.53 L681.48,204.56 L681.86,204.59 L682.24,204.62 L682.62,204.65 L682.99,204.68 L683.37,204.71 L683.75,204.74 L684.12,204.77 L684.50,204.80 L684.88,204.83 L685.26,204.86 L685.63,204.89 L686.01,204.92 L686.39,204.95 L686.77,204.98 L687.14,205.01 L687.52,205.04 L687.90,205.07 L688.27,205.10 L688.65,205.13 L689.03,205.16 L689.41,205.19 L689.78,205.21 L690.16,205.24 L690.54,205.27 L690.91,205.30 L691.29,205.33 L691.67,205.36 L692.05,205.39 L692.42,205.42 L692.80,205.44 L693.18,205.47 L693.56,205.50 L693.93,205.53 L694.31,205.56 L694.69,205.59 L695.06,205.61 L695.44,205.64 L695.82,205.67 L696.20,205.70 L696.57,205.73 L696.95,205.75 L697.33,205.78 L697.71,205.81 L698.08,205.84 L698.46,205.86 L698.84,205.89 L699.21,205.92 L699.59,205.95 L699.97,205.97 L700.35,206.00 L700.72,206.03 L701.10,206.05 L701.48,206.08 L701.86,206.11 L702.23,206.14 L702.61,206.16 L702.99,206.19 L703.36,206.22 L703.74,206.24 L704.12,206.27 L704.50,206.30 L704.87,206.32 L705.25,206.35 L705.63,206.37 L706.00,206.40 L706.38,206.43 L706.76,206.45 L707.14,206.48 L707.51,206.51 L707.89,206.53 L708.27,206.56 L708.65,206.58 L709.02,206.61 L709.40,206.64 L709.78,206.66 L710.15,206.69 L710.53,206.71 L710.91,206.74 L711.29,206.76 L711.66,206.79 L712.04,206.81 L712.42,206.84 L712.80,206.87 L713.17,206.89 L713.55,206.92" fill="none" stroke="#0000ff" stroke-width="2.15" stroke-linejoin="round" stroke-linecap="square"/>
<path d="M411.75,218.30 L412.13,218.28 L412.50,218.20 L412.88,218.08 L413.26,217.91 L413.64,217.68 L414.01,217.41 L414.39,217.07 L414.77,216.68 L415.15,216.23 L415.52,215.72 L415.90,215.15 L416.28,214.51 L416.65,213.81 L417.03,213.05 L417.41,212.22 L417.79,211.33 L418.16,210.39 L418.54,209.39 L418.92,208.34 L419.30,207.24 L419.67,206.09 L420.05,204.91 L420.43,203.69 L420.80,202.44 L421.18,201.16 L421.56,199.86 L421.94,198.55 L422.31,197.22 L422.69,195.88 L423.07,194.54 L423.44,193.20 L423.82,191.85 L424.20,190.52 L424.58,189.18 L424.95,187.86 L425.33,186.54 L425.71,185.24 L426.09,183.95 L426.46,182.68 L426.84,181.42 L427.22,180.17 L427.59,178.95 L427.97,177.74 L428.35,176.55 L428.73,175.39 L429.10,174.24 L429.48,173.11 L429.86,172.00 L430.24,170.92 L430.61,169.85 L430.99,168.81 L431.37,167.78 L431.74,166.78 L432.12,165.81 L432.50,164.85 L432.88,163.92 L433.25,163.00 L433.63,162.12 L434.01,161.25 L434.38,160.40 L434.76,159.58 L435.14,158.78 L435.52,158.00 L435.89,157.24 L436.27,156.50 L436.65,155.79 L437.03,155.09 L437.40,154.42 L437.78,153.77 L438.16,153.13 L438.53,152.52 L438.91,151.93 L439.29,151.35 L439.67,150.80 L440.04,150.26 L440.42,149.74 L440.80,149.24 L441.18,148.76 L441.55,148.29 L441.93,147.84 L442.31,147.41 L442.68,147.00 L443.06,146.60 L443.44,146.22 L443.82,145.85 L444.19,145.49 L444.57,145.16 L444.95,144.83 L445.33,144.52 L445.70,144.23 L446.08,143.95 L446.46,143.68 L446.83,143.42 L447.21,143.18 L447.59,142.95 L447.97,142.73 L448.34,142.52 L448.72,142.33 L449.10,142.14 L449.48,141.97 L449.85,141.80 L450.23,141.65 L450.61,141.51 L450.98,141.38 L451.36,141.25 L451.74,141.14 L452.12,141.04 L452.49,140.94 L452.87,140.85 L453.25,140.77 L453.62,140.70 L454.00,140.64 L454.38,140.59 L454.76,140.54 L455.13,140.50 L455.51,140.47 L455.89,140.45 L456.27,140.43 L456.64,140.42 L457.02,140.41 L457.40,140.42 L457.77,140.42 L458.15,140.44 L458.53,140.46 L458.91,140.48 L459.28,140.51 L459.66,140.55 L460.04,140.59 L460.42,140.64 L460.79,140.69 L461.17,140.75 L461.55,140.81 L461.92,140.88 L462.30,140.95 L462.68,141.02 L463.06,141.10 L463.43,141.19 L463.81,141.27 L464.19,141.37 L464.56,141.46 L464.94,141.56 L465.32,141.66 L465.70,141.77 L466.07,141.88 L466.45,141.99 L466.83,142.11 L467.21,142.22 L467.58,142.35 L467.96,142.47 L468.34,142.60 L468.71,142.73 L469.09,142.86 L469.47,143.00 L469.85,143.14 L470.22,143.28 L470.60,143.42 L470.98,143.56 L471.36,143.71 L471.73,143.86 L472.11,144.01 L472.49,144.17 L472.86,144.32 L473.24,144.48 L473.62,144.64 L474.00,144.80 L474.37,144.96 L474.75,145.13 L475.13,145.29 L475.51,145.46 L475.88,145.63 L476.26,145.80 L476.64,145.97 L477.01,146.15 L477.39,146.32 L477.77,146.50 L478.15,146.67 L478.52,146.85 L478.90,147.03 L479.28,147.21 L479.65,147.39 L480.03,147.57 L480.41,147.76 L480.79,147.94 L481.16,148.13 L481.54,148.31 L481.92,148.50 L482.30,148.69 L482.67,148.87 L483.05,149.06 L483.43,149.25 L483.80,149.44 L484.18,149.63 L484.56,149.82 L484.94,150.02 L485.31,150.21 L485.69,150.40 L486.07,150.59 L486.45,150.79 L486.82,150.98 L487.20,151.17 L487.58,151.37 L487.95,151.56 L488.33,151.76 L488.71,151.95 L489.09,152.15 L489.46,152.35 L489.84,152.54 L490.22,152.74 L490.60,152.93 L490.97,153.13 L491.35,153.33 L491.73,153.52 L492.10,153.72 L492.48,153.92 L492.86,154.11 L493.24,154.31 L493.61,154.51 L493.99,154.70 L494.37,154.90 L494.75,155.10 L495.12,155.29 L495.50,155.49 L495.88,155.69 L496.25,155.88 L496.63,156.08 L497.01,156.27 L497.39,156.47 L497.76,156.67 L498.14,156.86 L498.52,157.06 L498.89,157.25 L499.27,157.45 L499.65,157.64 L500.03,157.83 L500.40,158.03 L500.78,158.22 L501.16,158.42 L501.54,158.61 L501.91,158.80 L502.29,158.99 L502.67,159.19 L503.04,159.38 L503.42,159.57 L503.80,159.76 L504.18,159.95 L504.55,160.14 L504.93,160.33 L505.31,160.52 L505.69,160.71 L506.06,160.90 L506.44,161.09 L506.82,161.27 L507.19,161.46 L507.57,161.65 L507.95,161.84 L508.33,162.02 L508.70,162.21 L509.08,162.39 L509.46,162.58 L509.83,162.76 L510.21,162.95 L510.59,163.13 L510.97,163.31 L511.34,163.50 L511.72,163.68 L512.10,163.86 L512.48,164.04 L512.85,164.22 L513.23,164.40 L513.61,164.58 L513.98,164.76 L514.36,164.94 L514.74,165.12 L515.12,165.29 L515.49,165.47 L515.87,165.65 L516.25,165.82 L516.63,166.00 L517.00,166.17 L517.38,166.35 L517.76,166.52 L518.13,166.70 L518.51,166.87 L518.89,167.04 L519.27,167.21 L519.64,167.39 L520.02,167.56 L520.40,167.73 L520.78,167.90 L521.15,168.07 L521.53,168.24 L521.91,168.40 L522.28,168.57 L522.66,168.74 L523.04,168.91 L523.42,169.07 L523.79,169.24 L524.17,169.40 L524.55,169.57 L524.92,169.73 L525.30,169.90 L525.68,170.06 L526.06,170.22 L526.43,170.38 L526.81,170.55 L527.19,170.71 L527.57,170.87 L527.94,171.03 L528.32,171.19 L528.70,171.35 L529.07,171.51 L529.45,171.66 L529.83,171.82 L530.21,171.98 L530.58,172.13 L530.96,172.29 L531.34,172.45 L531.72,172.60 L532.09,172.76 L532.47,172.91 L532.85,173.06 L533.22,173.22 L533.60,173.37 L533.98,173.52 L534.36,173.67 L534.73,173.83 L535.11,173.98 L535.49,174.13 L535.87,174.28 L536.24,174.43 L536.62,174.57 L537.00,174.72 L537.37,174.87 L537.75,175.02 L538.13,175.17 L538.51,175.31 L538.88,175.46 L539.26,175.60 L539.64,175.75 L540.01,175.89 L540.39,176.04 L540.77,176.18 L541.15,176.33 L541.52,176.47 L541.90,176.61 L542.28,176.75 L542.66,176.90 L543.03,177.04 L543.41,177.18 L543.79,177.32 L544.16,177.46 L544.54,177.60 L544.92,177.74 L545.30,177.88 L545.67,178.01 L546.05,178.15 L546.43,178.29 L546.81,178.43 L547.18,178.56 L547.56,178.70 L547.94,178.84 L548.31,178.97 L548.69,179.11 L549.07,179.24 L549.45,179.37 L549.82,179.51 L550.20,179.64 L550.58,179.77 L550.96,179.91 L551.33,180.04 L551.71,180.17 L552.09,180.30 L552.46,180.43 L552.84,180.56 L553.22,180.69 L553.60,180.82 L553.97,180.95 L554.35,181.08 L554.73,181.21 L555.11,181.34 L555.48,181.47 L555.86,181.59 L556.24,181.72 L556.61,181.85 L556.99,181.97 L557.37,182.10 L557.75,182.22 L558.12,182.35 L558.50,182.47 L558.88,182.60 L559.25,182.72 L559.63,182.84 L560.01,182.97 L560.39,183.09 L560.76,183.21 L561.14,183.33 L561.52,183.46 L561.90,183.58 L562.27,183.70 L562.65,183.82 L563.03,183.94 L563.40,184.06 L563.78,184.18 L564.16,184.29 L564.54,184.41 L564.91,184.53 L565.29,184.65 L565.67,184.77 L566.05,184.88 L566.42,185.00 L566.80,185.11 L567.18,185.23 L567.55,185.35 L567.93,185.46 L568.31,185.57 L568.69,185.69 L569.06,185.80 L569.44,185.92 L569.82,186.03 L570.19,186.14 L570.57,186.25 L570.95,186.36 L571.33,186.48 L571.70,186.59 L572.08,186.70 L572.46,186.81 L572.84,186.92 L573.21,187.03 L573.59,187.13 L573.97,187.24 L574.34,187.35 L574.72,187.46 L575.10,187.57 L575.48,187.67 L575.85,187.78 L576.23,187.88 L576.61,187.99 L576.99,188.09 L577.36,188.20 L577.74,188.30 L578.12,188.41 L578.49,188.51 L578.87,188.61 L579.25,188.72 L579.63,188.82 L580.00,188.92 L580.38,189.02 L580.76,189.12 L581.14,189.23 L581.51,189.33 L581.89,189.43 L582.27,189.53 L582.64,189.62 L583.02,189.72 L583.40,189.82 L583.78,189.92 L584.15,190.02 L584.53,190.11 L584.91,190.21 L585.28,190.31 L585.66,190.40 L586.04,190.50 L586.42,190.59 L586.79,190.69 L587.17,190.78 L587.55,190.88 L587.93,190.97 L588.30,191.06 L588.68,191.16 L589.06,191.25 L589.43,191.34 L589.81,191.43 L590.19,191.52 L590.57,191.61 L590.94,191.70 L591.32,191.79 L591.70,191.88 L592.08,191.97 L592.45,192.06 L592.83,192.15 L593.21,192.24 L593.58,192.32 L593.96,192.41 L594.34,192.50 L594.72,192.59 L595.09,192.67 L595.47,192.76 L595.85,192.84 L596.23,192.93 L596.60,193.01 L596.98,193.10 L597.36,193.18 L597.73,193.26 L598.11,193.35 L598.49,193.43 L598.87,193.51 L599.24,193.59 L599.62,193.67 L600.00,193.76 L600.38,193.84 L600.75,193.92 L601.13,194.00 L601.51,194.08 L601.88,194.16 L602.26,194.23 L602.64,194.31 L603.02,194.39 L603.39,194.47 L603.77,194.55 L604.15,194.62 L604.52,194.70 L604.90,194.78 L605.28,194.85 L605.66,194.93 L606.03,195.00 L606.41,195.08 L606.79,195.15 L607.17,195.23 L607.54,195.30 L607.92,195.38 L608.30,195.45 L608.67,195.52 L609.05,195.60 L609.43,195.67 L609.81,195.74 L610.18,195.81 L610.56,195.88 L610.94,195.95 L611.32,196.03 L611.69,196.10 L612.07,196.17 L612.45,196.24 L612.82,196.31 L613.20,196.37 L613.58,196.44 L613.96,196.51 L614.33,196.58 L614.71,196.65 L615.09,196.72 L615.46,196.78 L615.84,196.85 L616.22,196.92 L616.60,196.98 L616.97,197.05 L617.35,197.12 L617.73,197.18 L618.11,197.25 L618.48,197.31 L618.86,197.38 L619.24,197.44 L619.61,197.50 L619.99,197.57 L620.37,197.63 L620.75,197.70 L621.12,197.76 L621.50,197.82 L621.88,197.88 L622.26,197.95 L622.63,198.01 L623.01,198.07 L623.39,198.13 L623.76,198.19 L624.14,198.25 L624.52,198.31 L624.90,198.37 L625.27,198.43 L625.65,198.49 L626.03,198.55 L626.41,198.61 L626.78,198.67 L627.16,198.73 L627.54,198.79 L627.91,198.85 L628.29,198.91 L628.67,198.96 L629.05,199.02 L629.42,199.08 L629.80,199.13 L630.18,199.19 L630.55,199.25 L630.93,199.30 L631.31,199.36 L631.69,199.42 L632.06,199.47 L632.44,199.53 L632.82,199.58 L633.20,199.64 L633.57,199.69 L633.95,199.75 L634.33,199.80 L634.70,199.86 L635.08,199.91 L635.46,199.96 L635.84,200.02 L636.21,200.07 L636.59,200.12 L636.97,200.18 L637.35,200.23 L637.72,200.28 L638.10,200.33 L638.48,200.38 L638.85,200.44 L639.23,200.49 L639.61,200.54 L639.99,200.59 L640.36,200.64 L640.74,200.69 L641.12,200.74 L641.50,200.79 L641.87,200.84 L642.25,200.89 L642.63,200.94 L643.00,200.99 L643.38,201.04 L643.76,201.09 L644.14,201.14 L644.51,201.19 L644.89,201.24 L645.27,201.28 L645.64,201.33 L646.02,201.38 L646.40,201.43 L646.78,201.48 L647.15,201.52 L647.53,201.57 L647.91,201.62 L648.29,201.66 L648.66,201.71 L649.04,201.76 L649.42,201.80 L649.79,201.85 L650.17,201.90 L650.55,201.94 L650.93,201.99 L651.30,202.03 L651.68,202.08 L652.06,202.12 L652.44,202.17 L652.81,202.21 L653.19,202.26 L653.57,202.30 L653.94,202.35 L654.32,202.39 L654.70,202.43 L655.08,202.48 L655.45,202.52 L655.83,202.56 L656.21,202.61 L656.59,202.65 L656.96,202.69 L657.34,202.74 L657.72,202.78 L658.09,202.82 L658.47,202.86 L658.85,202.91 L659.23,202.95 L659.60,202.99 L659.98,203.03 L660.36,203.07 L660.74,203.11 L661.11,203.16 L661.49,203.20 L661.87,203.24 L662.24,203.28 L662.62,203.32 L663.00,203.36 L663.38,203.40 L663.75,203.44 L664.13,203.48 L664.51,203.52 L664.88,203.56 L665.26,203.60 L665.64,203.64 L666.02,203.68 L666.39,203.72 L666.77,203.75 L667.15,203.79 L667.53,203.83 L667.90,203.87 L668.28,203.91 L668.66,203.95 L669.03,203.99 L669.41,204.02 L669.79,204.06 L670.17,204.10 L670.54,204.14 L670.92,204.17 L671.30,204.21 L671.68,204.25 L672.05,204.29 L672.43,204.32 L672.81,204.36 L673.18,204.40 L673.56,204.43 L673.94,204.47 L674.32,204.50 L674.69,204.54 L675.07,204.58 L675.45,204.61 L675.83,204.65 L676.20,204.68 L676.58,204.72 L676.96,204.75 L677.33,204.79 L677.71,204.82 L678.09,204.86 L678.47,204.89 L678.84,204.93 L679.22,204.96 L679.60,205.00 L679.97,205.03 L680.35,205.07 L680.73,205.10 L681.11,205.13 L681.48,205.17 L681.86,205.20 L682.24,205.24 L682.62,205.27 L682.99,205.30 L683.37,205.34 L683.75,205.37 L684.12,205.40 L684.50,205.44 L684.88,205.47 L685.26,205.50 L685.63,205.53 L686.01,205.57 L686.39,205.60 L686.77,205.63 L687.14,205.66 L687.52,205.69 L687.90,205.73 L688.27,205.76 L688.65,205.79 L689.03,205.82 L689.41,205.85 L689.78,205.88 L690.16,205.91 L690.54,205.95 L690.91,205.98 L691.29,206.01 L691.67,206.04 L692.05,206.07 L692.42,206.10 L692.80,206.13 L693.18,206.16 L693.56,206.19 L693.93,206.22 L694.31,206.25 L694.69,206.28 L695.06,206.31 L695.44,206.34 L695.82,206.37 L696.20,206.40 L696.57,206.43 L696.95,206.46 L697.33,206.49 L697.71,206.52 L698.08,206.55 L698.46,206.58 L698.84,206.60 L699.21,206.63 L699.59,206.66 L699.97,206.69 L700.35,206.72 L700.72,206.75 L701.10,206.77 L701.48,206.80 L701.86,206.83 L702.23,206.86 L702.61,206.89 L702.99,206.91 L703.36,206.94 L703.74,206.97 L704.12,207.00 L704.50,207.02 L704.87,207.05 L705.25,207.08 L705.63,207.11 L706.00,207.13 L706.38,207.16 L706.76,207.19 L707.14,207.21 L707.51,207.24 L707.89,207.27 L708.27,207.29 L708.65,207.32 L709.02,207.35 L709.40,207.37 L709.78,207.40 L710.15,207.42 L710.53,207.45 L710.91,207.48 L711.29,207.50 L711.66,207.53 L712.04,207.55 L712.42,207.58 L712.80,207.61 L713.17,207.63 L713.55,207.66" fill="none" stroke="#ff0000" stroke-width="1.65" stroke-linejoin="round" stroke-linecap="square" stroke-dasharray="4.3000 3.5027"/>
<path d="M411.75,218.30 L412.13,218.30 L412.50,218.29 L412.88,218.27 L413.26,218.25 L413.64,218.22 L414.01,218.18 L414.39,218.14 L414.77,218.09 L415.15,218.03 L415.52,217.97 L415.90,217.90 L416.28,217.82 L416.65,217.74 L417.03,217.65 L417.41,217.56 L417.79,217.46 L418.16,217.35 L418.54,217.24 L418.92,217.12 L419.30,217.00 L419.67,216.87 L420.05,216.73 L420.43,216.59 L420.80,216.44 L421.18,216.29 L421.56,216.13 L421.94,215.97 L422.31,215.80 L422.69,215.62 L423.07,215.45 L423.44,215.26 L423.82,215.07 L424.20,214.88 L424.58,214.68 L424.95,214.48 L425.33,214.27 L425.71,214.06 L426.09,213.85 L426.46,213.63 L426.84,213.41 L427.22,213.18 L427.59,212.95 L427.97,212.72 L428.35,212.49 L428.73,212.25 L429.10,212.00 L429.48,211.76 L429.86,211.51 L430.24,211.26 L430.61,211.01 L430.99,210.75 L431.37,210.50 L431.74,210.24 L432.12,209.97 L432.50,209.71 L432.88,209.44 L433.25,209.18 L433.63,208.91 L434.01,208.64 L434.38,208.37 L434.76,208.10 L435.14,207.82 L435.52,207.55 L435.89,207.28 L436.27,207.00 L436.65,206.72 L437.03,206.45 L437.40,206.17 L437.78,205.90 L438.16,205.62 L438.53,205.34 L438.91,205.07 L439.29,204.79 L439.67,204.51 L440.04,204.24 L440.42,203.96 L440.80,203.69 L441.18,203.42 L441.55,203.14 L441.93,202.87 L442.31,202.60 L442.68,202.33 L443.06,202.06 L443.44,201.79 L443.82,201.53 L444.19,201.26 L444.57,201.00 L444.95,200.74 L445.33,200.48 L445.70,200.22 L446.08,199.96 L446.46,199.70 L446.83,199.45 L447.21,199.20 L447.59,198.95 L447.97,198.70 L448.34,198.45 L448.72,198.21 L449.10,197.97 L449.48,197.72 L449.85,197.49 L450.23,197.25 L450.61,197.01 L450.98,196.78 L451.36,196.55 L451.74,196.32 L452.12,196.10 L452.49,195.87 L452.87,195.65 L453.25,195.43 L453.62,195.21 L454.00,195.00 L454.38,194.78 L454.76,194.57 L455.13,194.36 L455.51,194.15 L455.89,193.95 L456.27,193.75 L456.64,193.55 L457.02,193.35 L457.40,193.15 L457.77,192.96 L458.15,192.77 L458.53,192.58 L458.91,192.39 L459.28,192.20 L459.66,192.02 L460.04,191.84 L460.42,191.66 L460.79,191.48 L461.17,191.31 L461.55,191.13 L461.92,190.96 L462.30,190.79 L462.68,190.63 L463.06,190.46 L463.43,190.30 L463.81,190.14 L464.19,189.98 L464.56,189.82 L464.94,189.67 L465.32,189.51 L465.70,189.36 L466.07,189.21 L466.45,189.06 L466.83,188.92 L467.21,188.77 L467.58,188.63 L467.96,188.49 L468.34,188.35 L468.71,188.21 L469.09,188.08 L469.47,187.95 L469.85,187.81 L470.22,187.69 L470.60,187.56 L470.98,187.43 L471.36,187.31 L471.73,187.18 L472.11,187.06 L472.49,186.95 L472.86,186.83 L473.24,186.71 L473.62,186.60 L474.00,186.49 L474.37,186.38 L474.75,186.27 L475.13,186.16 L475.51,186.06 L475.88,185.95 L476.26,185.85 L476.64,185.75 L477.01,185.65 L477.39,185.56 L477.77,185.46 L478.15,185.37 L478.52,185.28 L478.90,185.19 L479.28,185.10 L479.65,185.02 L480.03,184.93 L480.41,184.85 L480.79,184.77 L481.16,184.69 L481.54,184.62 L481.92,184.54 L482.30,184.47 L482.67,184.40 L483.05,184.33 L483.43,184.26 L483.80,184.19 L484.18,184.13 L484.56,184.06 L484.94,184.00 L485.31,183.94 L485.69,183.89 L486.07,183.83 L486.45,183.78 L486.82,183.72 L487.20,183.67 L487.58,183.62 L487.95,183.58 L488.33,183.53 L488.71,183.49 L489.09,183.44 L489.46,183.40 L489.84,183.36 L490.22,183.33 L490.60,183.29 L490.97,183.26 L491.35,183.22 L491.73,183.19 L492.10,183.16 L492.48,183.14 L492.86,183.11 L493.24,183.08 L493.61,183.06 L493.99,183.04 L494.37,183.02 L494.75,183.00 L495.12,182.99 L495.50,182.97 L495.88,182.96 L496.25,182.94 L496.63,182.93 L497.01,182.92 L497.39,182.92 L497.76,182.91 L498.14,182.90 L498.52,182.90 L498.89,182.90 L499.27,182.90 L499.65,182.90 L500.03,182.90 L500.40,182.90 L500.78,182.90 L501.16,182.91 L501.54,182.91 L501.91,182.92 L502.29,182.93 L502.67,182.94 L503.04,182.95 L503.42,182.96 L503.80,182.98 L504.18,182.99 L504.55,183.01 L504.93,183.02 L505.31,183.04 L505.69,183.06 L506.06,183.08 L506.44,183.10 L506.82,183.12 L507.19,183.14 L507.57,183.17 L507.95,183.19 L508.33,183.22 L508.70,183.24 L509.08,183.27 L509.46,183.30 L509.83,183.33 L510.21,183.36 L510.59,183.39 L510.97,183.42 L511.34,183.45 L511.72,183.48 L512.10,183.51 L512.48,183.55 L512.85,183.58 L513.23,183.62 L513.61,183.65 L513.98,183.69 L514.36,183.73 L514.74,183.77 L515.12,183.80 L515.49,183.84 L515.87,183.88 L516.25,183.92 L516.63,183.97 L517.00,184.01 L517.38,184.05 L517.76,184.09 L518.13,184.13 L518.51,184.18 L518.89,184.22 L519.27,184.27 L519.64,184.31 L520.02,184.36 L520.40,184.40 L520.78,184.45 L521.15,184.50 L521.53,184.54 L521.91,184.59 L522.28,184.64 L522.66,184.69 L523.04,184.74 L523.42,184.78 L523.79,184.83 L524.17,184.88 L524.55,184.93 L524.92,184.98 L525.30,185.03 L525.68,185.09 L526.06,185.14 L526.43,185.19 L526.81,185.24 L527.19,185.29 L527.57,185.34 L527.94,185.40 L528.32,185.45 L528.70,185.50 L529.07,185.56 L529.45,185.61 L529.83,185.66 L530.21,185.72 L530.58,185.77 L530.96,185.83 L531.34,185.88 L531.72,185.94 L532.09,185.99 L532.47,186.05 L532.85,186.10 L533.22,186.16 L533.60,186.21 L533.98,186.27 L534.36,186.33 L534.73,186.38 L535.11,186.44 L535.49,186.50 L535.87,186.55 L536.24,186.61 L536.62,186.67 L537.00,186.72 L537.37,186.78 L537.75,186.84 L538.13,186.90 L538.51,186.95 L538.88,187.01 L539.26,187.07 L539.64,187.13 L540.01,187.18 L540.39,187.24 L540.77,187.30 L541.15,187.36 L541.52,187.42 L541.90,187.47 L542.28,187.53 L542.66,187.59 L543.03,187.65 L543.41,187.71 L543.79,187.77 L544.16,187.83 L544.54,187.88 L544.92,187.94 L545.30,188.00 L545.67,188.06 L546.05,188.12 L546.43,188.18 L546.81,188.24 L547.18,188.30 L547.56,188.35 L547.94,188.41 L548.31,188.47 L548.69,188.53 L549.07,188.59 L549.45,188.65 L549.82,188.71 L550.20,188.77 L550.58,188.83 L550.96,188.89 L551.33,188.94 L551.71,189.00 L552.09,189.06 L552.46,189.12 L552.84,189.18 L553.22,189.24 L553.60,189.30 L553.97,189.36 L554.35,189.42 L554.73,189.48 L555.11,189.53 L555.48,189.59 L555.86,189.65 L556.24,189.71 L556.61,189.77 L556.99,189.83 L557.37,189.89 L557.75,189.95 L558.12,190.00 L558.50,190.06 L558.88,190.12 L559.25,190.18 L559.63,190.24 L560.01,190.30 L560.39,190.36 L560.76,190.41 L561.14,190.47 L561.52,190.53 L561.90,190.59 L562.27,190.65 L562.65,190.71 L563.03,190.76 L563.40,190.82 L563.78,190.88 L564.16,190.94 L564.54,191.00 L564.91,191.05 L565.29,191.11 L565.67,191.17 L566.05,191.23 L566.42,191.28 L566.80,191.34 L567.18,191.40 L567.55,191.46 L567.93,191.51 L568.31,191.57 L568.69,191.63 L569.06,191.69 L569.44,191.74 L569.82,191.80 L570.19,191.86 L570.57,191.91 L570.95,191.97 L571.33,192.03 L571.70,192.08 L572.08,192.14 L572.46,192.20 L572.84,192.25 L573.21,192.31 L573.59,192.36 L573.97,192.42 L574.34,192.48 L574.72,192.53 L575.10,192.59 L575.48,192.64 L575.85,192.70 L576.23,192.76 L576.61,192.81 L576.99,192.87 L577.36,192.92 L577.74,192.98 L578.12,193.03 L578.49,193.09 L578.87,193.14 L579.25,193.20 L579.63,193.25 L580.00,193.31 L580.38,193.36 L580.76,193.42 L581.14,193.47 L581.51,193.52 L581.89,193.58 L582.27,193.63 L582.64,193.69 L583.02,193.74 L583.40,193.79 L583.78,193.85 L584.15,193.90 L584.53,193.96 L584.91,194.01 L585.28,194.06 L585.66,194.12 L586.04,194.17 L586.42,194.22 L586.79,194.28 L587.17,194.33 L587.55,194.38 L587.93,194.43 L588.30,194.49 L588.68,194.54 L589.06,194.59 L589.43,194.64 L589.81,194.70 L590.19,194.75 L590.57,194.80 L590.94,194.85 L591.32,194.90 L591.70,194.96 L592.08,195.01 L592.45,195.06 L592.83,195.11 L593.21,195.16 L593.58,195.21 L593.96,195.26 L594.34,195.32 L594.72,195.37 L595.09,195.42 L595.47,195.47 L595.85,195.52 L596.23,195.57 L596.60,195.62 L596.98,195.67 L597.36,195.72 L597.73,195.77 L598.11,195.82 L598.49,195.87 L598.87,195.92 L599.24,195.97 L599.62,196.02 L600.00,196.07 L600.38,196.12 L600.75,196.17 L601.13,196.22 L601.51,196.27 L601.88,196.32 L602.26,196.36 L602.64,196.41 L603.02,196.46 L603.39,196.51 L603.77,196.56 L604.15,196.61 L604.52,196.66 L604.90,196.70 L605.28,196.75 L605.66,196.80 L606.03,196.85 L606.41,196.90 L606.79,196.94 L607.17,196.99 L607.54,197.04 L607.92,197.09 L608.30,197.13 L608.67,197.18 L609.05,197.23 L609.43,197.27 L609.81,197.32 L610.18,197.37 L610.56,197.41 L610.94,197.46 L611.32,197.51 L611.69,197.55 L612.07,197.60 L612.45,197.65 L612.82,197.69 L613.20,197.74 L613.58,197.78 L613.96,197.83 L614.33,197.88 L614.71,197.92 L615.09,197.97 L615.46,198.01 L615.84,198.06 L616.22,198.10 L616.60,198.15 L616.97,198.19 L617.35,198.24 L617.73,198.28 L618.11,198.33 L618.48,198.37 L618.86,198.42 L619.24,198.46 L619.61,198.51 L619.99,198.55 L620.37,198.59 L620.75,198.64 L621.12,198.68 L621.50,198.73 L621.88,198.77 L622.26,198.81 L622.63,198.86 L623.01,198.90 L623.39,198.94 L623.76,198.99 L624.14,199.03 L624.52,199.07 L624.90,199.11 L625.27,199.16 L625.65,199.20 L626.03,199.24 L626.41,199.29 L626.78,199.33 L627.16,199.37 L627.54,199.41 L627.91,199.45 L628.29,199.50 L628.67,199.54 L629.05,199.58 L629.42,199.62 L629.80,199.66 L630.18,199.71 L630.55,199.75 L630.93,199.79 L631.31,199.83 L631.69,199.87 L632.06,199.91 L632.44,199.95 L632.82,199.99 L633.20,200.04 L633.57,200.08 L633.95,200.12 L634.33,200.16 L634.70,200.20 L635.08,200.24 L635.46,200.28 L635.84,200.32 L636.21,200.36 L636.59,200.40 L636.97,200.44 L637.35,200.48 L637.72,200.52 L638.10,200.56 L638.48,200.60 L638.85,200.64 L639.23,200.68 L639.61,200.72 L639.99,200.75 L640.36,200.79 L640.74,200.83 L641.12,200.87 L641.50,200.91 L641.87,200.95 L642.25,200.99 L642.63,201.03 L643.00,201.07 L643.38,201.10 L643.76,201.14 L644.14,201.18 L644.51,201.22 L644.89,201.26 L645.27,201.29 L645.64,201.33 L646.02,201.37 L646.40,201.41 L646.78,201.45 L647.15,201.48 L647.53,201.52 L647.91,201.56 L648.29,201.59 L648.66,201.63 L649.04,201.67 L649.42,201.71 L649.79,201.74 L650.17,201.78 L650.55,201.82 L650.93,201.85 L651.30,201.89 L651.68,201.93 L652.06,201.96 L652.44,202.00 L652.81,202.04 L653.19,202.07 L653.57,202.11 L653.94,202.14 L654.32,202.18 L654.70,202.22 L655.08,202.25 L655.45,202.29 L655.83,202.32 L656.21,202.36 L656.59,202.39 L656.96,202.43 L657.34,202.46 L657.72,202.50 L658.09,202.53 L658.47,202.57 L658.85,202.60 L659.23,202.64 L659.60,202.67 L659.98,202.71 L660.36,202.74 L660.74,202.78 L661.11,202.81 L661.49,202.85 L661.87,202.88 L662.24,202.92 L662.62,202.95 L663.00,202.98 L663.38,203.02 L663.75,203.05 L664.13,203.09 L664.51,203.12 L664.88,203.15 L665.26,203.19 L665.64,203.22 L666.02,203.25 L666.39,203.29 L666.77,203.32 L667.15,203.35 L667.53,203.39 L667.90,203.42 L668.28,203.45 L668.66,203.49 L669.03,203.52 L669.41,203.55 L669.79,203.58 L670.17,203.62 L670.54,203.65 L670.92,203.68 L671.30,203.71 L671.68,203.75 L672.05,203.78 L672.43,203.81 L672.81,203.84 L673.18,203.87 L673.56,203.91 L673.94,203.94 L674.32,203.97 L674.69,204.00 L675.07,204.03 L675.45,204.07 L675.83,204.10 L676.20,204.13 L676.58,204.16 L676.96,204.19 L677.33,204.22 L677.71,204.25 L678.09,204.28 L678.47,204.32 L678.84,204.35 L679.22,204.38 L679.60,204.41 L679.97,204.44 L680.35,204.47 L680.73,204.50 L681.11,204.53 L681.48,204.56 L681.86,204.59 L682.24,204.62 L682.62,204.65 L682.99,204.68 L683.37,204.71 L683.75,204.74 L684.12,204.77 L684.50,204.80 L684.88,204.83 L685.26,204.86 L685.63,204.89 L686.01,204.92 L686.39,204.95 L686.77,204.98 L687.14,205.01 L687.52,205.04 L687.90,205.07 L688.27,205.10 L688.65,205.13 L689.03,205.16 L689.41,205.19 L689.78,205.21 L690.16,205.24 L690.54,205.27 L690.91,205.30 L691.29,205.33 L691.67,205.36 L692.05,205.39 L692.42,205.42 L692.80,205.44 L693.18,205.47 L693.56,205.50 L693.93,205.53 L694.31,205.56 L694.69,205.59 L695.06,205.61 L695.44,205.64 L695.82,205.67 L696.20,205.70 L696.57,205.73 L696.95,205.75 L697.33,205.78 L697.71,205.81 L698.08,205.84 L698.46,205.86 L698.84,205.89 L699.21,205.92 L699.59,205.95 L699.97,205.97 L700.35,206.00 L700.72,206.03 L701.10,206.05 L701.48,206.08 L701.86,206.11 L702.23,206.14 L702.61,206.16 L702.99,206.19 L703.36,206.22 L703.74,206.24 L704.12,206.27 L704.50,206.30 L704.87,206.32 L705.25,206.35 L705.63,206.38 L706.00,206.40 L706.38,206.43 L706.76,206.45 L707.14,206.48 L707.51,206.51 L707.89,206.53 L708.27,206.56 L708.65,206.58 L709.02,206.61 L709.40,206.64 L709.78,206.66 L710.15,206.69 L710.53,206.71 L710.91,206.74 L711.29,206.76 L711.66,206.79 L712.04,206.81 L712.42,206.84 L712.80,206.87 L713.17,206.89 L713.55,206.92" fill="none" stroke="#0000ff" stroke-width="1.65" stroke-linejoin="round" stroke-linecap="square" stroke-dasharray="4.3000 3.5391"/>
<path d="M411.75,37.50 L412.13,37.56 L412.50,37.73 L412.88,38.03 L413.26,38.43 L413.64,38.96 L414.01,39.59 L414.39,40.34 L414.77,41.19 L415.15,42.16 L415.52,43.22 L415.90,44.39 L416.28,45.66 L416.65,47.02 L417.03,48.48 L417.41,50.02 L417.79,51.65 L418.16,53.36 L418.54,55.15 L418.92,57.01 L419.30,58.93 L419.67,60.93 L420.05,62.98 L420.43,65.08 L420.80,67.24 L421.18,69.44 L421.56,71.69 L421.94,73.97 L422.31,76.29 L422.69,78.63 L423.07,81.00 L423.44,83.40 L423.82,85.80 L424.20,88.23 L424.58,90.66 L424.95,93.10 L425.33,95.54 L425.71,97.98 L426.09,100.42 L426.46,102.85 L426.84,105.27 L427.22,107.67 L427.59,110.07 L427.97,112.44 L428.35,114.80 L428.73,117.13 L429.10,119.44 L429.48,121.73 L429.86,123.99 L430.24,126.22 L430.61,128.41 L430.99,130.58 L431.37,132.72 L431.74,134.82 L432.12,136.89 L432.50,138.92 L432.88,140.92 L433.25,142.89 L433.63,144.81 L434.01,146.70 L434.38,148.55 L434.76,150.36 L435.14,152.14 L435.52,153.88 L435.89,155.58 L436.27,157.25 L436.65,158.87 L437.03,160.46 L437.40,162.02 L437.78,163.53 L438.16,165.01 L438.53,166.46 L438.91,167.87 L439.29,169.24 L439.67,170.58 L440.04,171.89 L440.42,173.16 L440.80,174.40 L441.18,175.61 L441.55,176.79 L441.93,177.93 L442.31,179.05 L442.68,180.13 L443.06,181.19 L443.44,182.21 L443.82,183.21 L444.19,184.18 L444.57,185.13 L444.95,186.05 L445.33,186.94 L445.70,187.81 L446.08,188.65 L446.46,189.47 L446.83,190.27 L447.21,191.04 L447.59,191.79 L447.97,192.52 L448.34,193.23 L448.72,193.92 L449.10,194.59 L449.48,195.24 L449.85,195.87 L450.23,196.49 L450.61,197.08 L450.98,197.66 L451.36,198.22 L451.74,198.77 L452.12,199.30 L452.49,199.81 L452.87,200.31 L453.25,200.80 L453.62,201.27 L454.00,201.73 L454.38,202.17 L454.76,202.60 L455.13,203.02 L455.51,203.43 L455.89,203.82 L456.27,204.20 L456.64,204.58 L457.02,204.94 L457.40,205.29 L457.77,205.63 L458.15,205.96 L458.53,206.28 L458.91,206.60 L459.28,206.90 L459.66,207.19 L460.04,207.48 L460.42,207.76 L460.79,208.03 L461.17,208.29 L461.55,208.55 L461.92,208.79 L462.30,209.03 L462.68,209.27 L463.06,209.50 L463.43,209.72 L463.81,209.93 L464.19,210.14 L464.56,210.34 L464.94,210.54 L465.32,210.73 L465.70,210.92 L466.07,211.10 L466.45,211.28 L466.83,211.45 L467.21,211.61 L467.58,211.78 L467.96,211.93 L468.34,212.09 L468.71,212.24 L469.09,212.38 L469.47,212.52 L469.85,212.66 L470.22,212.79 L470.60,212.92 L470.98,213.05 L471.36,213.17 L471.73,213.29 L472.11,213.41 L472.49,213.52 L472.86,213.63 L473.24,213.74 L473.62,213.85 L474.00,213.95 L474.37,214.05 L474.75,214.14 L475.13,214.24 L475.51,214.33 L475.88,214.42 L476.26,214.51 L476.64,214.59 L477.01,214.67 L477.39,214.75 L477.77,214.83 L478.15,214.91 L478.52,214.98 L478.90,215.06 L479.28,215.13 L479.65,215.20 L480.03,215.26 L480.41,215.33 L480.79,215.39 L481.16,215.46 L481.54,215.52 L481.92,215.58 L482.30,215.63 L482.67,215.69 L483.05,215.74 L483.43,215.80 L483.80,215.85 L484.18,215.90 L484.56,215.95 L484.94,216.00 L485.31,216.05 L485.69,216.09 L486.07,216.14 L486.45,216.18 L486.82,216.23 L487.20,216.27 L487.58,216.31 L487.95,216.35 L488.33,216.39 L488.71,216.43 L489.09,216.47 L489.46,216.50 L489.84,216.54 L490.22,216.57 L490.60,216.61 L490.97,216.64 L491.35,216.67 L491.73,216.70 L492.10,216.74 L492.48,216.77 L492.86,216.80 L493.24,216.82 L493.61,216.85 L493.99,216.88 L494.37,216.91 L494.75,216.93 L495.12,216.96 L495.50,216.99 L495.88,217.01 L496.25,217.03 L496.63,217.06 L497.01,217.08 L497.39,217.10 L497.76,217.13 L498.14,217.15 L498.52,217.17 L498.89,217.19 L499.27,217.21 L499.65,217.23 L500.03,217.25 L500.40,217.27 L500.78,217.29 L501.16,217.30 L501.54,217.32 L501.91,217.34 L502.29,217.36 L502.67,217.37 L503.04,217.39 L503.42,217.41 L503.80,217.42 L504.18,217.44 L504.55,217.45 L504.93,217.47 L505.31,217.48 L505.69,217.50 L506.06,217.51 L506.44,217.52 L506.82,217.54 L507.19,217.55 L507.57,217.56 L507.95,217.58 L508.33,217.59 L508.70,217.60 L509.08,217.61 L509.46,217.62 L509.83,217.63 L510.21,217.65 L510.59,217.66 L510.97,217.67 L511.34,217.68 L511.72,217.69 L512.10,217.70 L512.48,217.71 L512.85,217.72 L513.23,217.73 L513.61,217.74 L513.98,217.75 L514.36,217.75 L514.74,217.76 L515.12,217.77 L515.49,217.78 L515.87,217.79 L516.25,217.80 L516.63,217.80 L517.00,217.81 L517.38,217.82 L517.76,217.83 L518.13,217.83 L518.51,217.84 L518.89,217.85 L519.27,217.86 L519.64,217.86 L520.02,217.87 L520.40,217.88 L520.78,217.88 L521.15,217.89 L521.53,217.90 L521.91,217.90 L522.28,217.91 L522.66,217.91 L523.04,217.92 L523.42,217.93 L523.79,217.93 L524.17,217.94 L524.55,217.94 L524.92,217.95 L525.30,217.95 L525.68,217.96 L526.06,217.96 L526.43,217.97 L526.81,217.97 L527.19,217.98 L527.57,217.98 L527.94,217.99 L528.32,217.99 L528.70,218.00 L529.07,218.00 L529.45,218.00 L529.83,218.01 L530.21,218.01 L530.58,218.02 L530.96,218.02 L531.34,218.02 L531.72,218.03 L532.09,218.03 L532.47,218.04 L532.85,218.04 L533.22,218.04 L533.60,218.05 L533.98,218.05 L534.36,218.05 L534.73,218.06 L535.11,218.06 L535.49,218.06 L535.87,218.07 L536.24,218.07 L536.62,218.07 L537.00,218.08 L537.37,218.08 L537.75,218.08 L538.13,218.09 L538.51,218.09 L538.88,218.09 L539.26,218.09 L539.64,218.10 L540.01,218.10 L540.39,218.10 L540.77,218.11 L541.15,218.11 L541.52,218.11 L541.90,218.11 L542.28,218.12 L542.66,218.12 L543.03,218.12 L543.41,218.12 L543.79,218.12 L544.16,218.13 L544.54,218.13 L544.92,218.13 L545.30,218.13 L545.67,218.14 L546.05,218.14 L546.43,218.14 L546.81,218.14 L547.18,218.14 L547.56,218.15 L547.94,218.15 L548.31,218.15 L548.69,218.15 L549.07,218.15 L549.45,218.16 L549.82,218.16 L550.20,218.16 L550.58,218.16 L550.96,218.16 L551.33,218.16 L551.71,218.17 L552.09,218.17 L552.46,218.17 L552.84,218.17 L553.22,218.17 L553.60,218.17 L553.97,218.18 L554.35,218.18 L554.73,218.18 L555.11,218.18 L555.48,218.18 L555.86,218.18 L556.24,218.18 L556.61,218.19 L556.99,218.19 L557.37,218.19 L557.75,218.19 L558.12,218.19 L558.50,218.19 L558.88,218.19 L559.25,218.20 L559.63,218.20 L560.01,218.20 L560.39,218.20 L560.76,218.20 L561.14,218.20 L561.52,218.20 L561.90,218.20 L562.27,218.20 L562.65,218.21 L563.03,218.21 L563.40,218.21 L563.78,218.21 L564.16,218.21 L564.54,218.21 L564.91,218.21 L565.29,218.21 L565.67,218.21 L566.05,218.21 L566.42,218.22 L566.80,218.22 L567.18,218.22 L567.55,218.22 L567.93,218.22 L568.31,218.22 L568.69,218.22 L569.06,218.22 L569.44,218.22 L569.82,218.22 L570.19,218.22 L570.57,218.23 L570.95,218.23 L571.33,218.23 L571.70,218.23 L572.08,218.23 L572.46,218.23 L572.84,218.23 L573.21,218.23 L573.59,218.23 L573.97,218.23 L574.34,218.23 L574.72,218.23 L575.10,218.23 L575.48,218.24 L575.85,218.24 L576.23,218.24 L576.61,218.24 L576.99,218.24 L577.36,218.24 L577.74,218.24 L578.12,218.24 L578.49,218.24 L578.87,218.24 L579.25,218.24 L579.63,218.24 L580.00,218.24 L580.38,218.24 L580.76,218.24 L581.14,218.24 L581.51,218.25 L581.89,218.25 L582.27,218.25 L582.64,218.25 L583.02,218.25 L583.40,218.25 L583.78,218.25 L584.15,218.25 L584.53,218.25 L584.91,218.25 L585.28,218.25 L585.66,218.25 L586.04,218.25 L586.42,218.25 L586.79,218.25 L587.17,218.25 L587.55,218.25 L587.93,218.25 L588.30,218.25 L588.68,218.26 L589.06,218.26 L589.43,218.26 L589.81,218.26 L590.19,218.26 L590.57,218.26 L590.94,218.26 L591.32,218.26 L591.70,218.26 L592.08,218.26 L592.45,218.26 L592.83,218.26 L593.21,218.26 L593.58,218.26 L593.96,218.26 L594.34,218.26 L594.72,218.26 L595.09,218.26 L595.47,218.26 L595.85,218.26 L596.23,218.26 L596.60,218.26 L596.98,218.26 L597.36,218.26 L597.73,218.26 L598.11,218.26 L598.49,218.27 L598.87,218.27 L599.24,218.27 L599.62,218.27 L600.00,218.27 L600.38,218.27 L600.75,218.27 L601.13,218.27 L601.51,218.27 L601.88,218.27 L602.26,218.27 L602.64,218.27 L603.02,218.27 L603.39,218.27 L603.77,218.27 L604.15,218.27 L604.52,218.27 L604.90,218.27 L605.28,218.27 L605.66,218.27 L606.03,218.27 L606.41,218.27 L606.79,218.27 L607.17,218.27 L607.54,218.27 L607.92,218.27 L608.30,218.27 L608.67,218.27 L609.05,218.27 L609.43,218.27 L609.81,218.27 L610.18,218.27 L610.56,218.27 L610.94,218.27 L611.32,218.27 L611.69,218.27 L612.07,218.28 L612.45,218.28 L612.82,218.28 L613.20,218.28 L613.58,218.28 L613.96,218.28 L614.33,218.28 L614.71,218.28 L615.09,218.28 L615.46,218.28 L615.84,218.28 L616.22,218.28 L616.60,218.28 L616.97,218.28 L617.35,218.28 L617.73,218.28 L618.11,218.28 L618.48,218.28 L618.86,218.28 L619.24,218.28 L619.61,218.28 L619.99,218.28 L620.37,218.28 L620.75,218.28 L621.12,218.28 L621.50,218.28 L621.88,218.28 L622.26,218.28 L622.63,218.28 L623.01,218.28 L623.39,218.28 L623.76,218.28 L624.14,218.28 L624.52,218.28 L624.90,218.28 L625.27,218.28 L625.65,218.28 L626.03,218.28 L626.41,218.28 L626.78,218.28 L627.16,218.28 L627.54,218.28 L627.91,218.28 L628.29,218.28 L628.67,218.28 L629.05,218.28 L629.42,218.28 L629.80,218.28 L630.18,218.28 L630.55,218.28 L630.93,218.28 L631.31,218.28 L631.69,218.28 L632.06,218.28 L632.44,218.28 L632.82,218.28 L633.20,218.28 L633.57,218.28 L633.95,218.28 L634.33,218.28 L634.70,218.29 L635.08,218.29 L635.46,218.29 L635.84,218.29 L636.21,218.29 L636.59,218.29 L636.97,218.29 L637.35,218.29 L637.72,218.29 L638.10,218.29 L638.48,218.29 L638.85,218.29 L639.23,218.29 L639.61,218.29 L639.99,218.29 L640.36,218.29 L640.74,218.29 L641.12,218.29 L641.50,218.29 L641.87,218.29 L642.25,218.29 L642.63,218.29 L643.00,218.29 L643.38,218.29 L643.76,218.29 L644.14,218.29 L644.51,218.29 L644.89,218.29 L645.27,218.29 L645.64,218.29 L646.02,218.29 L646.40,218.29 L646.78,218.29 L647.15,218.29 L647.53,218.29 L647.91,218.29 L648.29,218.29 L648.66,218.29 L649.04,218.29 L649.42,218.29 L649.79,218.29 L650.17,218.29 L650.55,218.29 L650.93,218.29 L651.30,218.29 L651.68,218.29 L652.06,218.29 L652.44,218.29 L652.81,218.29 L653.19,218.29 L653.57,218.29 L653.94,218.29 L654.32,218.29 L654.70,218.29 L655.08,218.29 L655.45,218.29 L655.83,218.29 L656.21,218.29 L656.59,218.29 L656.96,218.29 L657.34,218.29 L657.72,218.29 L658.09,218.29 L658.47,218.29 L658.85,218.29 L659.23,218.29 L659.60,218.29 L659.98,218.29 L660.36,218.29 L660.74,218.29 L661.11,218.29 L661.49,218.29 L661.87,218.29 L662.24,218.29 L662.62,218.29 L663.00,218.29 L663.38,218.29 L663.75,218.29 L664.13,218.29 L664.51,218.29 L664.88,218.29 L665.26,218.29 L665.64,218.29 L666.02,218.29 L666.39,218.29 L666.77,218.29 L667.15,218.29 L667.53,218.29 L667.90,218.29 L668.28,218.29 L668.66,218.29 L669.03,218.29 L669.41,218.29 L669.79,218.29 L670.17,218.29 L670.54,218.29 L670.92,218.29 L671.30,218.29 L671.68,218.29 L672.05,218.29 L672.43,218.29 L672.81,218.29 L673.18,218.29 L673.56,218.29 L673.94,218.29 L674.32,218.29 L674.69,218.29 L675.07,218.29 L675.45,218.29 L675.83,218.29 L676.20,218.29 L676.58,218.29 L676.96,218.29 L677.33,218.29 L677.71,218.29 L678.09,218.29 L678.47,218.29 L678.84,218.29 L679.22,218.29 L679.60,218.29 L679.97,218.29 L680.35,218.29 L680.73,218.29 L681.11,218.29 L681.48,218.29 L681.86,218.29 L682.24,218.29 L682.62,218.29 L682.99,218.29 L683.37,218.29 L683.75,218.29 L684.12,218.29 L684.50,218.29 L684.88,218.29 L685.26,218.29 L685.63,218.29 L686.01,218.29 L686.39,218.29 L686.77,218.29 L687.14,218.29 L687.52,218.29 L687.90,218.29 L688.27,218.29 L688.65,218.29 L689.03,218.29 L689.41,218.29 L689.78,218.29 L690.16,218.29 L690.54,218.29 L690.91,218.29 L691.29,218.29 L691.67,218.29 L692.05,218.29 L692.42,218.30 L692.80,218.30 L693.18,218.30 L693.56,218.30 L693.93,218.30 L694.31,218.30 L694.69,218.30 L695.06,218.30 L695.44,218.30 L695.82,218.30 L696.20,218.30 L696.57,218.30 L696.95,218.30 L697.33,218.30 L697.71,218.30 L698.08,218.30 L698.46,218.30 L698.84,218.30 L699.21,218.30 L699.59,218.30 L699.97,218.30 L700.35,218.30 L700.72,218.30 L701.10,218.30 L701.48,218.30 L701.86,218.30 L702.23,218.30 L702.61,218.30 L702.99,218.30 L703.36,218.30 L703.74,218.30 L704.12,218.30 L704.50,218.30 L704.87,218.30 L705.25,218.30 L705.63,218.30 L706.00,218.30 L706.38,218.30 L706.76,218.30 L707.14,218.30 L707.51,218.30 L707.89,218.30 L708.27,218.30 L708.65,218.30 L709.02,218.30 L709.40,218.30 L709.78,218.30 L710.15,218.30 L710.53,218.30 L710.91,218.30 L711.29,218.30 L711.66,218.30 L712.04,218.30 L712.42,218.30 L712.80,218.30 L713.17,218.30 L713.55,218.30" fill="none" stroke="#ff0000" stroke-width="1.65" stroke-linejoin="round" stroke-linecap="square" stroke-dasharray="1.1500 3.8767"/>
<path d="M411.75,191.36 L412.13,191.36 L412.50,191.37 L412.88,191.39 L413.26,191.40 L413.64,191.43 L414.01,191.46 L414.39,191.49 L414.77,191.53 L415.15,191.58 L415.52,191.63 L415.90,191.69 L416.28,191.75 L416.65,191.81 L417.03,191.89 L417.41,191.96 L417.79,192.04 L418.16,192.13 L418.54,192.22 L418.92,192.32 L419.30,192.42 L419.67,192.53 L420.05,192.64 L420.43,192.75 L420.80,192.87 L421.18,192.99 L421.56,193.12 L421.94,193.25 L422.31,193.39 L422.69,193.53 L423.07,193.67 L423.44,193.82 L423.82,193.97 L424.20,194.13 L424.58,194.29 L424.95,194.45 L425.33,194.61 L425.71,194.78 L426.09,194.95 L426.46,195.13 L426.84,195.31 L427.22,195.49 L427.59,195.67 L427.97,195.85 L428.35,196.04 L428.73,196.23 L429.10,196.42 L429.48,196.62 L429.86,196.81 L430.24,197.01 L430.61,197.21 L430.99,197.41 L431.37,197.62 L431.74,197.82 L432.12,198.03 L432.50,198.24 L432.88,198.44 L433.25,198.65 L433.63,198.86 L434.01,199.08 L434.38,199.29 L434.76,199.50 L435.14,199.71 L435.52,199.93 L435.89,200.14 L436.27,200.35 L436.65,200.57 L437.03,200.78 L437.40,201.00 L437.78,201.21 L438.16,201.43 L438.53,201.64 L438.91,201.85 L439.29,202.07 L439.67,202.28 L440.04,202.49 L440.42,202.70 L440.80,202.91 L441.18,203.12 L441.55,203.33 L441.93,203.54 L442.31,203.74 L442.68,203.95 L443.06,204.16 L443.44,204.36 L443.82,204.56 L444.19,204.76 L444.57,204.96 L444.95,205.16 L445.33,205.36 L445.70,205.55 L446.08,205.75 L446.46,205.94 L446.83,206.13 L447.21,206.32 L447.59,206.51 L447.97,206.69 L448.34,206.88 L448.72,207.06 L449.10,207.24 L449.48,207.42 L449.85,207.60 L450.23,207.77 L450.61,207.95 L450.98,208.12 L451.36,208.29 L451.74,208.46 L452.12,208.62 L452.49,208.79 L452.87,208.95 L453.25,209.11 L453.62,209.27 L454.00,209.42 L454.38,209.58 L454.76,209.73 L455.13,209.88 L455.51,210.03 L455.89,210.17 L456.27,210.32 L456.64,210.46 L457.02,210.60 L457.40,210.74 L457.77,210.88 L458.15,211.01 L458.53,211.15 L458.91,211.28 L459.28,211.41 L459.66,211.53 L460.04,211.66 L460.42,211.78 L460.79,211.90 L461.17,212.02 L461.55,212.14 L461.92,212.26 L462.30,212.37 L462.68,212.48 L463.06,212.59 L463.43,212.70 L463.81,212.81 L464.19,212.91 L464.56,213.02 L464.94,213.12 L465.32,213.22 L465.70,213.32 L466.07,213.41 L466.45,213.51 L466.83,213.60 L467.21,213.69 L467.58,213.78 L467.96,213.87 L468.34,213.96 L468.71,214.05 L469.09,214.13 L469.47,214.21 L469.85,214.29 L470.22,214.37 L470.60,214.45 L470.98,214.53 L471.36,214.60 L471.73,214.68 L472.11,214.75 L472.49,214.82 L472.86,214.89 L473.24,214.96 L473.62,215.03 L474.00,215.09 L474.37,215.16 L474.75,215.22 L475.13,215.28 L475.51,215.35 L475.88,215.41 L476.26,215.46 L476.64,215.52 L477.01,215.58 L477.39,215.63 L477.77,215.69 L478.15,215.74 L478.52,215.79 L478.90,215.85 L479.28,215.90 L479.65,215.95 L480.03,215.99 L480.41,216.04 L480.79,216.09 L481.16,216.13 L481.54,216.18 L481.92,216.22 L482.30,216.26 L482.67,216.31 L483.05,216.35 L483.43,216.39 L483.80,216.43 L484.18,216.47 L484.56,216.50 L484.94,216.54 L485.31,216.58 L485.69,216.61 L486.07,216.65 L486.45,216.68 L486.82,216.72 L487.20,216.75 L487.58,216.78 L487.95,216.81 L488.33,216.84 L488.71,216.87 L489.09,216.90 L489.46,216.93 L489.84,216.96 L490.22,216.99 L490.60,217.02 L490.97,217.04 L491.35,217.07 L491.73,217.09 L492.10,217.12 L492.48,217.14 L492.86,217.17 L493.24,217.19 L493.61,217.21 L493.99,217.24 L494.37,217.26 L494.75,217.28 L495.12,217.30 L495.50,217.32 L495.88,217.34 L496.25,217.36 L496.63,217.38 L497.01,217.40 L497.39,217.42 L497.76,217.44 L498.14,217.45 L498.52,217.47 L498.89,217.49 L499.27,217.51 L499.65,217.52 L500.03,217.54 L500.40,217.55 L500.78,217.57 L501.16,217.58 L501.54,217.60 L501.91,217.61 L502.29,217.63 L502.67,217.64 L503.04,217.65 L503.42,217.67 L503.80,217.68 L504.18,217.69 L504.55,217.71 L504.93,217.72 L505.31,217.73 L505.69,217.74 L506.06,217.75 L506.44,217.76 L506.82,217.78 L507.19,217.79 L507.57,217.80 L507.95,217.81 L508.33,217.82 L508.70,217.83 L509.08,217.84 L509.46,217.85 L509.83,217.85 L510.21,217.86 L510.59,217.87 L510.97,217.88 L511.34,217.89 L511.72,217.90 L512.10,217.91 L512.48,217.91 L512.85,217.92 L513.23,217.93 L513.61,217.94 L513.98,217.94 L514.36,217.95 L514.74,217.96 L515.12,217.97 L515.49,217.97 L515.87,217.98 L516.25,217.98 L516.63,217.99 L517.00,218.00 L517.38,218.00 L517.76,218.01 L518.13,218.01 L518.51,218.02 L518.89,218.03 L519.27,218.03 L519.64,218.04 L520.02,218.04 L520.40,218.05 L520.78,218.05 L521.15,218.06 L521.53,218.06 L521.91,218.07 L522.28,218.07 L522.66,218.08 L523.04,218.08 L523.42,218.08 L523.79,218.09 L524.17,218.09 L524.55,218.10 L524.92,218.10 L525.30,218.10 L525.68,218.11 L526.06,218.11 L526.43,218.12 L526.81,218.12 L527.19,218.12 L527.57,218.13 L527.94,218.13 L528.32,218.13 L528.70,218.14 L529.07,218.14 L529.45,218.14 L529.83,218.15 L530.21,218.15 L530.58,218.15 L530.96,218.15 L531.34,218.16 L531.72,218.16 L532.09,218.16 L532.47,218.16 L532.85,218.17 L533.22,218.17 L533.60,218.17 L533.98,218.17 L534.36,218.18 L534.73,218.18 L535.11,218.18 L535.49,218.18 L535.87,218.19 L536.24,218.19 L536.62,218.19 L537.00,218.19 L537.37,218.19 L537.75,218.20 L538.13,218.20 L538.51,218.20 L538.88,218.20 L539.26,218.20 L539.64,218.21 L540.01,218.21 L540.39,218.21 L540.77,218.21 L541.15,218.21 L541.52,218.21 L541.90,218.22 L542.28,218.22 L542.66,218.22 L543.03,218.22 L543.41,218.22 L543.79,218.22 L544.16,218.22 L544.54,218.23 L544.92,218.23 L545.30,218.23 L545.67,218.23 L546.05,218.23 L546.43,218.23 L546.81,218.23 L547.18,218.23 L547.56,218.24 L547.94,218.24 L548.31,218.24 L548.69,218.24 L549.07,218.24 L549.45,218.24 L549.82,218.24 L550.20,218.24 L550.58,218.24 L550.96,218.25 L551.33,218.25 L551.71,218.25 L552.09,218.25 L552.46,218.25 L552.84,218.25 L553.22,218.25 L553.60,218.25 L553.97,218.25 L554.35,218.25 L554.73,218.25 L555.11,218.26 L555.48,218.26 L555.86,218.26 L556.24,218.26 L556.61,218.26 L556.99,218.26 L557.37,218.26 L557.75,218.26 L558.12,218.26 L558.50,218.26 L558.88,218.26 L559.25,218.26 L559.63,218.26 L560.01,218.26 L560.39,218.26 L560.76,218.27 L561.14,218.27 L561.52,218.27 L561.90,218.27 L562.27,218.27 L562.65,218.27 L563.03,218.27 L563.40,218.27 L563.78,218.27 L564.16,218.27 L564.54,218.27 L564.91,218.27 L565.29,218.27 L565.67,218.27 L566.05,218.27 L566.42,218.27 L566.80,218.27 L567.18,218.27 L567.55,218.27 L567.93,218.28 L568.31,218.28 L568.69,218.28 L569.06,218.28 L569.44,218.28 L569.82,218.28 L570.19,218.28 L570.57,218.28 L570.95,218.28 L571.33,218.28 L571.70,218.28 L572.08,218.28 L572.46,218.28 L572.84,218.28 L573.21,218.28 L573.59,218.28 L573.97,218.28 L574.34,218.28 L574.72,218.28 L575.10,218.28 L575.48,218.28 L575.85,218.28 L576.23,218.28 L576.61,218.28 L576.99,218.28 L577.36,218.28 L577.74,218.28 L578.12,218.28 L578.49,218.28 L578.87,218.28 L579.25,218.28 L579.63,218.29 L580.00,218.29 L580.38,218.29 L580.76,218.29 L581.14,218.29 L581.51,218.29 L581.89,218.29 L582.27,218.29 L582.64,218.29 L583.02,218.29 L583.40,218.29 L583.78,218.29 L584.15,218.29 L584.53,218.29 L584.91,218.29 L585.28,218.29 L585.66,218.29 L586.04,218.29 L586.42,218.29 L586.79,218.29 L587.17,218.29 L587.55,218.29 L587.93,218.29 L588.30,218.29 L588.68,218.29 L589.06,218.29 L589.43,218.29 L589.81,218.29 L590.19,218.29 L590.57,218.29 L590.94,218.29 L591.32,218.29 L591.70,218.29 L592.08,218.29 L592.45,218.29 L592.83,218.29 L593.21,218.29 L593.58,218.29 L593.96,218.29 L594.34,218.29 L594.72,218.29 L595.09,218.29 L595.47,218.29 L595.85,218.29 L596.23,218.29 L596.60,218.29 L596.98,218.29 L597.36,218.29 L597.73,218.29 L598.11,218.29 L598.49,218.29 L598.87,218.29 L599.24,218.29 L599.62,218.29 L600.00,218.29 L600.38,218.29 L600.75,218.29 L601.13,218.29 L601.51,218.29 L601.88,218.29 L602.26,218.29 L602.64,218.29 L603.02,218.29 L603.39,218.29 L603.77,218.29 L604.15,218.29 L604.52,218.29 L604.90,218.29 L605.28,218.29 L605.66,218.29 L606.03,218.29 L606.41,218.29 L606.79,218.30 L607.17,218.30 L607.54,218.30 L607.92,218.30 L608.30,218.30 L608.67,218.30 L609.05,218.30 L609.43,218.30 L609.81,218.30 L610.18,218.30 L610.56,218.30 L610.94,218.30 L611.32,218.30 L611.69,218.30 L612.07,218.30 L612.45,218.30 L612.82,218.30 L613.20,218.30 L613.58,218.30 L613.96,218.30 L614.33,218.30 L614.71,218.30 L615.09,218.30 L615.46,218.30 L615.84,218.30 L616.22,218.30 L616.60,218.30 L616.97,218.30 L617.35,218.30 L617.73,218.30 L618.11,218.30 L618.48,218.30 L618.86,218.30 L619.24,218.30 L619.61,218.30 L619.99,218.30 L620.37,218.30 L620.75,218.30 L621.12,218.30 L621.50,218.30 L621.88,218.30 L622.26,218.30 L622.63,218.30 L623.01,218.30 L623.39,218.30 L623.76,218.30 L624.14,218.30 L624.52,218.30 L624.90,218.30 L625.27,218.30 L625.65,218.30 L626.03,218.30 L626.41,218.30 L626.78,218.30 L627.16,218.30 L627.54,218.30 L627.91,218.30 L628.29,218.30 L628.67,218.30 L629.05,218.30 L629.42,218.30 L629.80,218.30 L630.18,218.30 L630.55,218.30 L630.93,218.30 L631.31,218.30 L631.69,218.30 L632.06,218.30 L632.44,218.30 L632.82,218.30 L633.20,218.30 L633.57,218.30 L633.95,218.30 L634.33,218.30 L634.70,218.30 L635.08,218.30 L635.46,218.30 L635.84,218.30 L636.21,218.30 L636.59,218.30 L636.97,218.30 L637.35,218.30 L637.72,218.30 L638.10,218.30 L638.48,218.30 L638.85,218.30 L639.23,218.30 L639.61,218.30 L639.99,218.30 L640.36,218.30 L640.74,218.30 L641.12,218.30 L641.50,218.30 L641.87,218.30 L642.25,218.30 L642.63,218.30 L643.00,218.30 L643.38,218.30 L643.76,218.30 L644.14,218.30 L644.51,218.30 L644.89,218.30 L645.27,218.30 L645.64,218.30 L646.02,218.30 L646.40,218.30 L646.78,218.30 L647.15,218.30 L647.53,218.30 L647.91,218.30 L648.29,218.30 L648.66,218.30 L649.04,218.30 L649.42,218.30 L649.79,218.30 L650.17,218.30 L650.55,218.30 L650.93,218.30 L651.30,218.30 L651.68,218.30 L652.06,218.30 L652.44,218.30 L652.81,218.30 L653.19,218.30 L653.57,218.30 L653.94,218.30 L654.32,218.30 L654.70,218.30 L655.08,218.30 L655.45,218.30 L655.83,218.30 L656.21,218.30 L656.59,218.30 L656.96,218.30 L657.34,218.30 L657.72,218.30 L658.09,218.30 L658.47,218.30 L658.85,218.30 L659.23,218.30 L659.60,218.30 L659.98,218.30 L660.36,218.30 L660.74,218.30 L661.11,218.30 L661.49,218.30 L661.87,218.30 L662.24,218.30 L662.62,218.30 L663.00,218.30 L663.38,218.30 L663.75,218.30 L664.13,218.30 L664.51,218.30 L664.88,218.30 L665.26,218.30 L665.64,218.30 L666.02,218.30 L666.39,218.30 L666.77,218.30 L667.15,218.30 L667.53,218.30 L667.90,218.30 L668.28,218.30 L668.66,218.30 L669.03,218.30 L669.41,218.30 L669.79,218.30 L670.17,218.30 L670.54,218.30 L670.92,218.30 L671.30,218.30 L671.68,218.30 L672.05,218.30 L672.43,218.30 L672.81,218.30 L673.18,218.30 L673.56,218.30 L673.94,218.30 L674.32,218.30 L674.69,218.30 L675.07,218.30 L675.45,218.30 L675.83,218.30 L676.20,218.30 L676.58,218.30 L676.96,218.30 L677.33,218.30 L677.71,218.30 L678.09,218.30 L678.47,218.30 L678.84,218.30 L679.22,218.30 L679.60,218.30 L679.97,218.30 L680.35,218.30 L680.73,218.30 L681.11,218.30 L681.48,218.30 L681.86,218.30 L682.24,218.30 L682.62,218.30 L682.99,218.30 L683.37,218.30 L683.75,218.30 L684.12,218.30 L684.50,218.30 L684.88,218.30 L685.26,218.30 L685.63,218.30 L686.01,218.30 L686.39,218.30 L686.77,218.30 L687.14,218.30 L687.52,218.30 L687.90,218.30 L688.27,218.30 L688.65,218.30 L689.03,218.30 L689.41,218.30 L689.78,218.30 L690.16,218.30 L690.54,218.30 L690.91,218.30 L691.29,218.30 L691.67,218.30 L692.05,218.30 L692.42,218.30 L692.80,218.30 L693.18,218.30 L693.56,218.30 L693.93,218.30 L694.31,218.30 L694.69,218.30 L695.06,218.30 L695.44,218.30 L695.82,218.30 L696.20,218.30 L696.57,218.30 L696.95,218.30 L697.33,218.30 L697.71,218.30 L698.08,218.30 L698.46,218.30 L698.84,218.30 L699.21,218.30 L699.59,218.30 L699.97,218.30 L700.35,218.30 L700.72,218.30 L701.10,218.30 L701.48,218.30 L701.86,218.30 L702.23,218.30 L702.61,218.30 L702.99,218.30 L703.36,218.30 L703.74,218.30 L704.12,218.30 L704.50,218.30 L704.87,218.30 L705.25,218.30 L705.63,218.30 L706.00,218.30 L706.38,218.30 L706.76,218.30 L707.14,218.30 L707.51,218.30 L707.89,218.30 L708.27,218.30 L708.65,218.30 L709.02,218.30 L709.40,218.30 L709.78,218.30 L710.15,218.30 L710.53,218.30 L710.91,218.30 L711.29,218.30 L711.66,218.30 L712.04,218.30 L712.42,218.30 L712.80,218.30 L713.17,218.30 L713.55,218.30" fill="none" stroke="#0000ff" stroke-width="1.65" stroke-linejoin="round" stroke-linecap="square" stroke-dasharray="1.1500 3.8620"/>
</g>
<text x="411.75" y="238.40" font-size="13.7" font-weight="bold" text-anchor="middle" stroke="#000" stroke-width="0.15">0</text>
<text x="487.20" y="238.40" font-size="13.7" font-weight="bold" text-anchor="middle" stroke="#000" stroke-width="0.15">25</text>
<text x="562.65" y="238.40" font-size="13.7" font-weight="bold" text-anchor="middle" stroke="#000" stroke-width="0.15">50</text>
<text x="638.10" y="238.40" font-size="13.7" font-weight="bold" text-anchor="middle" stroke="#000" stroke-width="0.15">75</text>
<text x="713.55" y="238.40" font-size="13.7" font-weight="bold" text-anchor="middle" stroke="#000" stroke-width="0.15">100</text>
<text x="402.40" y="42.40" font-size="13.7" font-weight="bold" text-anchor="end" stroke="#000" stroke-width="0.15">1</text>
<text x="402.40" y="223.20" font-size="13.7" font-weight="bold" text-anchor="end" stroke="#000" stroke-width="0.15">0</text>
<text x="563.17" y="259.30" font-size="13.7" font-weight="bold" text-anchor="middle" stroke="#000" stroke-width="0.15">r (nm)</text>
<text x="386.60" y="125.00" font-size="13.7" font-weight="bold" text-anchor="middle" transform="rotate(-90 386.60 125.00)" stroke="#000" stroke-width="0.15">loss (arb. units)</text>
<text x="398.96" y="17.00" font-size="22.4">(</text>
<text transform="translate(408.23 17.70) scale(1.150 1)" font-size="22.3">b</text>
<text x="424.20" y="17.00" font-size="22.4">)</text>
<line x1="456.30" y1="37.65" x2="488.00" y2="37.65" stroke="#000" stroke-width="1.8"/>
<line x1="456.30" y1="55.6" x2="487.50" y2="55.6" stroke="#000" stroke-width="1.6" stroke-dasharray="6.0 1.77"/>
<line x1="456.30" y1="73.6" x2="488.00" y2="73.6" stroke="#000" stroke-width="1.6" stroke-dasharray="3.0 1.77"/>
<text x="502.00" y="42.20" font-size="13.65" font-weight="normal" text-anchor="start" stroke="#000" stroke-width="0.22">r&amp;z−losses</text>
<text x="500.80" y="60.30" font-size="13.65" font-weight="normal" text-anchor="start" stroke="#000" stroke-width="0.22">r−losses</text>
<text x="499.80" y="78.30" font-size="13.65" font-weight="normal" text-anchor="start" stroke="#000" stroke-width="0.22">z−losses</text>
<text x="455.70" y="96.80" font-size="13.65" font-weight="normal" text-anchor="start" stroke="#000" stroke-width="0.22">red</text>
<path d="M475.40,92.50 H484.60" fill="none" stroke="#000" stroke-width="1"/>
<path d="M481.60,89.70 Q483.00,91.60 485.00,92.50 Q483.00,93.40 481.60,95.30" fill="none" stroke="#000" stroke-width="1.35" stroke-linecap="round" stroke-linejoin="round"/>
<text x="486.60" y="96.80" font-size="13.65" font-weight="normal" text-anchor="start" stroke="#000" stroke-width="0.22">2nm</text>
<text x="455.70" y="114.90" font-size="13.65" font-weight="normal" text-anchor="start" stroke="#000" stroke-width="0.22">blue</text>
<path d="M480.90,110.60 H490.60" fill="none" stroke="#000" stroke-width="1"/>
<path d="M487.60,107.80 Q489.00,109.70 491.00,110.60 Q489.00,111.50 487.60,113.40" fill="none" stroke="#000" stroke-width="1.35" stroke-linecap="round" stroke-linejoin="round"/>
<text x="492.60" y="114.90" font-size="13.65" font-weight="normal" text-anchor="start" stroke="#000" stroke-width="0.22">6nm</text>
<rect x="236.00" y="45.00" width="95.50" height="59.00" fill="#fff" stroke="#989898" stroke-width="1"/>
<line x1="270.90" y1="104.00" x2="270.90" y2="101.50" stroke="#666666" stroke-width="0.7"/>
<line x1="322.00" y1="104.00" x2="322.00" y2="101.50" stroke="#666666" stroke-width="0.7"/>
<line x1="236.00" y1="46.30" x2="238.50" y2="46.30" stroke="#666666" stroke-width="0.7"/>
<line x1="236.00" y1="88.80" x2="238.50" y2="88.80" stroke="#666666" stroke-width="0.7"/>
<line x1="240.0" y1="47.4" x2="328.2" y2="98.0" stroke="#800080" stroke-width="2.2" stroke-dasharray="3.0 1.96"/>
<line x1="240.0" y1="62.1" x2="328.2" y2="89.4" stroke="#800080" stroke-width="2.2" stroke-dasharray="6.1 1.6"/>
<text x="234.00" y="51.20" font-size="13.7" font-weight="bold" text-anchor="end" stroke="#000" stroke-width="0.15">1</text>
<text x="234.00" y="93.20" font-size="13.7" font-weight="bold" text-anchor="end" stroke="#000" stroke-width="0.15">.1</text>
<text x="270.00" y="120.30" font-size="13.7" font-weight="bold" text-anchor="middle" stroke="#000" stroke-width="0.15">1×10<tspan dy="-5.4" font-size="10">7</tspan></text>
<text x="320.80" y="120.30" font-size="13.7" font-weight="bold" text-anchor="middle" stroke="#000" stroke-width="0.15">5×10<tspan dy="-5.4" font-size="10">7</tspan></text>
<text x="212.90" y="74.50" font-size="13.7" font-weight="bold" text-anchor="middle" transform="rotate(-90 212.90 74.50)" stroke="#000" stroke-width="0.15">|E| (a.u.)</text>
<text x="283.80" y="141.30" font-size="13.7" font-weight="bold" text-anchor="middle" stroke="#000" stroke-width="0.15"><tspan font-style="italic">σ</tspan> (S/m)</text>
<rect x="612.50" y="43.50" width="99.00" height="60.50" fill="#fff" stroke="#989898" stroke-width="1"/>
<line x1="622.00" y1="104.00" x2="622.00" y2="101.50" stroke="#666666" stroke-width="0.7"/>
<line x1="709.50" y1="104.00" x2="709.50" y2="101.50" stroke="#666666" stroke-width="0.7"/>
<line x1="612.50" y1="46.50" x2="615.00" y2="46.50" stroke="#666666" stroke-width="0.7"/>
<line x1="612.50" y1="96.70" x2="615.00" y2="96.70" stroke="#666666" stroke-width="0.7"/>
<path d="M614.90,45.35 L616.10,46.78 L617.31,48.18 L618.51,49.55 L619.72,50.89 L620.92,52.21 L622.12,53.49 L623.33,54.75 L624.53,55.97 L625.73,57.18 L626.94,58.35 L628.14,59.50 L629.35,60.62 L630.55,61.71 L631.75,62.78 L632.96,63.83 L634.16,64.85 L635.36,65.85 L636.57,66.82 L637.77,67.77 L638.98,68.70 L640.18,69.60 L641.38,70.49 L642.59,71.35 L643.79,72.19 L644.99,73.01 L646.20,73.81 L647.40,74.59 L648.61,75.36 L649.81,76.10 L651.01,76.82 L652.22,77.53 L653.42,78.22 L654.63,78.89 L655.83,79.55 L657.03,80.19 L658.24,80.81 L659.44,81.42 L660.64,82.02 L661.85,82.60 L663.05,83.16 L664.26,83.71 L665.46,84.25 L666.66,84.78 L667.87,85.29 L669.07,85.79 L670.27,86.28 L671.48,86.76 L672.68,87.23 L673.89,87.69 L675.09,88.14 L676.29,88.58 L677.50,89.01 L678.70,89.43 L679.91,89.84 L681.11,90.25 L682.31,90.65 L683.52,91.04 L684.72,91.43 L685.92,91.81 L687.13,92.19 L688.33,92.56 L689.54,92.92 L690.74,93.29 L691.94,93.65 L693.15,94.00 L694.35,94.35 L695.55,94.70 L696.76,95.05 L697.96,95.40 L699.17,95.74 L700.37,96.09 L701.57,96.43 L702.78,96.78 L703.98,97.12 L705.18,97.47 L706.39,97.82 L707.59,98.17 L708.80,98.52 L710.00,98.88" fill="none" stroke="#800080" stroke-width="2.2" stroke-dasharray="3.0 1.96"/>
<path d="M614.90,63.38 L616.10,64.13 L617.31,64.86 L618.51,65.56 L619.72,66.24 L620.92,66.90 L622.12,67.53 L623.33,68.15 L624.53,68.74 L625.73,69.32 L626.94,69.87 L628.14,70.41 L629.35,70.92 L630.55,71.42 L631.75,71.90 L632.96,72.37 L634.16,72.82 L635.36,73.25 L636.57,73.66 L637.77,74.06 L638.98,74.45 L640.18,74.82 L641.38,75.18 L642.59,75.52 L643.79,75.85 L644.99,76.17 L646.20,76.48 L647.40,76.78 L648.61,77.06 L649.81,77.34 L651.01,77.60 L652.22,77.86 L653.42,78.11 L654.63,78.35 L655.83,78.58 L657.03,78.80 L658.24,79.02 L659.44,79.23 L660.64,79.44 L661.85,79.64 L663.05,79.84 L664.26,80.03 L665.46,80.21 L666.66,80.40 L667.87,80.58 L669.07,80.76 L670.27,80.93 L671.48,81.11 L672.68,81.28 L673.89,81.45 L675.09,81.62 L676.29,81.79 L677.50,81.95 L678.70,82.12 L679.91,82.28 L681.11,82.45 L682.31,82.61 L683.52,82.77 L684.72,82.94 L685.92,83.10 L687.13,83.27 L688.33,83.44 L689.54,83.60 L690.74,83.77 L691.94,83.94 L693.15,84.11 L694.35,84.29 L695.55,84.46 L696.76,84.64 L697.96,84.82 L699.17,85.01 L700.37,85.20 L701.57,85.39 L702.78,85.58 L703.98,85.78 L705.18,85.98 L706.39,86.19 L707.59,86.40 L708.80,86.62 L710.00,86.84" fill="none" stroke="#800080" stroke-width="2.2" stroke-dasharray="6.1 1.6"/>
<text x="609.60" y="50.40" font-size="13.7" font-weight="bold" text-anchor="end" stroke="#000" stroke-width="0.15">1</text>
<text x="609.60" y="101.00" font-size="13.7" font-weight="bold" text-anchor="end" stroke="#000" stroke-width="0.15">.2</text>
<text x="622.00" y="120.00" font-size="13.7" font-weight="bold" text-anchor="middle" stroke="#000" stroke-width="0.15">2</text>
<text x="709.50" y="120.00" font-size="13.7" font-weight="bold" text-anchor="middle" stroke="#000" stroke-width="0.15">10</text>
<text x="590.20" y="74.50" font-size="13.7" font-weight="bold" text-anchor="middle" transform="rotate(-90 590.20 74.50)" stroke="#000" stroke-width="0.15">|E| (a.u.)</text>
<text x="661.50" y="141.30" font-size="13.7" font-weight="bold" text-anchor="middle" stroke="#000" stroke-width="0.15">gap (nm)</text>
<rect x="232.50" y="296.50" width="263.90" height="162.80" fill="none" stroke="#989898" stroke-width="1"/>
<line x1="237.20" y1="459.30" x2="237.20" y2="456.30" stroke="#666666" stroke-width="0.7"/>
<text x="237.20" y="475.80" font-size="13.7" font-weight="bold" text-anchor="middle" stroke="#000" stroke-width="0.15">0</text>
<line x1="300.72" y1="459.30" x2="300.72" y2="456.30" stroke="#666666" stroke-width="0.7"/>
<text x="300.72" y="475.80" font-size="13.7" font-weight="bold" text-anchor="middle" stroke="#000" stroke-width="0.15">20</text>
<line x1="364.24" y1="459.30" x2="364.24" y2="456.30" stroke="#666666" stroke-width="0.7"/>
<text x="364.24" y="475.80" font-size="13.7" font-weight="bold" text-anchor="middle" stroke="#000" stroke-width="0.15">40</text>
<line x1="427.76" y1="459.30" x2="427.76" y2="456.30" stroke="#666666" stroke-width="0.7"/>
<text x="427.76" y="475.80" font-size="13.7" font-weight="bold" text-anchor="middle" stroke="#000" stroke-width="0.15">60</text>
<line x1="491.28" y1="459.30" x2="491.28" y2="456.30" stroke="#666666" stroke-width="0.7"/>
<text x="491.28" y="475.80" font-size="13.7" font-weight="bold" text-anchor="middle" stroke="#000" stroke-width="0.15">80</text>
<line x1="232.50" y1="456.50" x2="235.50" y2="456.50" stroke="#666666" stroke-width="0.7"/>
<text x="229.60" y="461.80" font-size="13.7" font-weight="bold" text-anchor="end" stroke="#000" stroke-width="0.15">0</text>
<line x1="232.50" y1="386.70" x2="235.50" y2="386.70" stroke="#666666" stroke-width="0.7"/>
<text x="229.60" y="392.00" font-size="13.7" font-weight="bold" text-anchor="end" stroke="#000" stroke-width="0.15">50</text>
<line x1="232.50" y1="316.90" x2="235.50" y2="316.90" stroke="#666666" stroke-width="0.7"/>
<text x="229.60" y="322.20" font-size="13.7" font-weight="bold" text-anchor="end" stroke="#000" stroke-width="0.15">100</text>
<line x1="496.40" y1="456.50" x2="493.40" y2="456.50" stroke="#666666" stroke-width="0.7"/>
<text x="499.50" y="461.40" font-size="13.7" font-weight="bold" text-anchor="start" stroke="#000" stroke-width="0.15">0</text>
<line x1="496.40" y1="414.60" x2="493.40" y2="414.60" stroke="#666666" stroke-width="0.7"/>
<text x="499.50" y="419.50" font-size="13.7" font-weight="bold" text-anchor="start" stroke="#000" stroke-width="0.15">10</text>
<line x1="496.40" y1="372.70" x2="493.40" y2="372.70" stroke="#666666" stroke-width="0.7"/>
<text x="499.50" y="377.60" font-size="13.7" font-weight="bold" text-anchor="start" stroke="#000" stroke-width="0.15">20</text>
<line x1="496.40" y1="330.80" x2="493.40" y2="330.80" stroke="#666666" stroke-width="0.7"/>
<text x="499.50" y="335.70" font-size="13.7" font-weight="bold" text-anchor="start" stroke="#000" stroke-width="0.15">30</text>
<circle cx="268.96" cy="444.91" r="1.85" fill="#ff0000"/>
<circle cx="284.84" cy="440.03" r="1.85" fill="#ff0000"/>
<circle cx="300.72" cy="433.19" r="1.85" fill="#ff0000"/>
<circle cx="316.60" cy="423.83" r="1.85" fill="#ff0000"/>
<circle cx="332.48" cy="407.36" r="1.85" fill="#ff0000"/>
<circle cx="348.36" cy="381.95" r="1.85" fill="#ff0000"/>
<circle cx="364.24" cy="354.45" r="1.85" fill="#ff0000"/>
<circle cx="380.12" cy="329.18" r="1.85" fill="#ff0000"/>
<circle cx="396.00" cy="304.62" r="1.85" fill="#ff0000"/>
<circle cx="268.96" cy="456.50" r="1.85" fill="#0000ff"/>
<circle cx="284.84" cy="456.50" r="1.85" fill="#0000ff"/>
<circle cx="300.72" cy="456.50" r="1.85" fill="#0000ff"/>
<circle cx="316.60" cy="456.50" r="1.85" fill="#0000ff"/>
<circle cx="332.48" cy="456.50" r="1.85" fill="#0000ff"/>
<circle cx="348.36" cy="456.50" r="1.85" fill="#0000ff"/>
<circle cx="364.24" cy="456.50" r="1.85" fill="#0000ff"/>
<circle cx="380.12" cy="456.50" r="1.85" fill="#0000ff"/>
<circle cx="396.00" cy="456.50" r="1.85" fill="#0000ff"/>
<circle cx="411.88" cy="387.78" r="1.85" fill="#0000ff"/>
<circle cx="427.76" cy="375.21" r="1.85" fill="#0000ff"/>
<circle cx="443.64" cy="364.32" r="1.85" fill="#0000ff"/>
<circle cx="459.52" cy="358.45" r="1.85" fill="#0000ff"/>
<circle cx="475.40" cy="349.65" r="1.85" fill="#0000ff"/>
<circle cx="491.28" cy="343.79" r="1.85" fill="#0000ff"/>
<line x1="332.8" y1="352.40" x2="287" y2="352.40" stroke="#ff0000" stroke-width="2.2"/>
<path d="M278.4,352.40 L289.9,349.10 L288.9,352.40 L289.9,355.70 Z" fill="#ff0000"/>
<line x1="427.7" y1="414.85" x2="477" y2="414.85" stroke="#0000ff" stroke-width="2.2"/>
<path d="M485.1,414.85 L473.9,411.55 L474.9,414.85 L473.9,418.15 Z" fill="#0000ff"/>
<text x="363.90" y="497.00" font-size="13.7" font-weight="bold" text-anchor="middle" stroke="#000" stroke-width="0.15">apex radius (nm)</text>
<text x="198.20" y="378.00" font-size="13.7" font-weight="bold" text-anchor="middle" transform="rotate(-90 198.20 378.00)" stroke="#000" stroke-width="0.15">FWHM (nm)</text>
<text x="534.60" y="376.50" font-size="13.7" font-weight="bold" text-anchor="middle" transform="rotate(-90 534.60 376.50)" stroke="#000" stroke-width="0.15">max pos. (nm)</text>
<text x="226.00" y="285.30" font-size="22.4">(</text>
<text transform="translate(234.70 286.80) scale(1.100 1)" font-size="22.0">c</text>
<text x="249.47" y="285.30" font-size="22.4">)</text>
</g>
</svg>
</body></html>
